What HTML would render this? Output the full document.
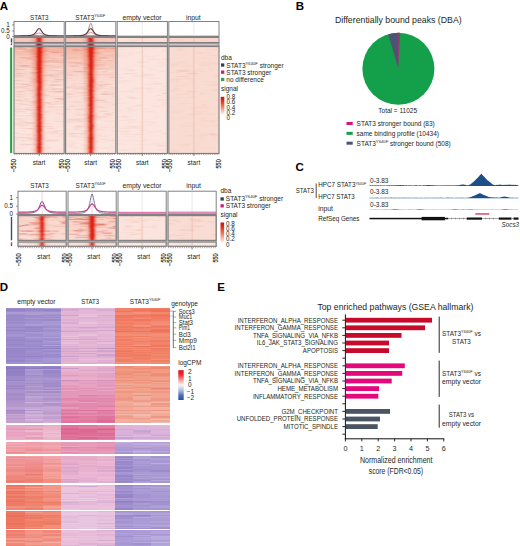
<!DOCTYPE html>
<html><head><meta charset="utf-8"><style>
html,body{margin:0;padding:0;background:#fff;}
body{width:520px;height:546px;overflow:hidden;}
svg{display:block;font-family:"Liberation Sans",sans-serif;}
</style></head><body>
<svg width="520" height="546" viewBox="0 0 520 546">
<defs><filter id="bl1" x="-50%" y="-5%" width="200%" height="110%"><feGaussianBlur stdDeviation="0.9 0.35"/></filter><filter id="bl2" x="-50%" y="-5%" width="200%" height="110%"><feGaussianBlur stdDeviation="2.0 0.5"/></filter><filter id="bl3" x="-5%" y="-20%" width="110%" height="140%"><feGaussianBlur stdDeviation="0.8 0.25"/></filter><linearGradient id="g1" x1="0" y1="0" x2="0" y2="1"><stop offset="0" stop-color="#f7cabd"/><stop offset="1" stop-color="#f2c4c0"/></linearGradient><linearGradient id="g2" x1="0" y1="0" x2="0" y2="1"><stop offset="0" stop-color="#f7cabd"/><stop offset="1" stop-color="#f2c4c0"/></linearGradient><linearGradient id="g3" x1="0" y1="0" x2="0" y2="1"><stop offset="0" stop-color="#f4b4a3"/><stop offset="0.15" stop-color="#f7cdc1"/><stop offset="0.35" stop-color="#f9dcd4"/><stop offset="1" stop-color="#fce6e0"/></linearGradient><linearGradient id="g4" x1="0" y1="0" x2="0" y2="1"><stop offset="0" stop-color="#f4b4a3"/><stop offset="0.15" stop-color="#f7cdc1"/><stop offset="0.35" stop-color="#f9dcd4"/><stop offset="1" stop-color="#fce6e0"/></linearGradient><linearGradient id="g5" x1="0" y1="0" x2="0" y2="1"><stop offset="0" stop-color="#cc1410"/><stop offset="0.2" stop-color="#dc2a1a"/><stop offset="0.55" stop-color="#f07a5c"/><stop offset="1" stop-color="#fdf0ea"/></linearGradient><linearGradient id="g6" x1="0" y1="0" x2="0" y2="1"><stop offset="0" stop-color="#f7cfc4"/><stop offset="1" stop-color="#f9ddd5"/></linearGradient><linearGradient id="g7" x1="0" y1="0" x2="0" y2="1"><stop offset="0" stop-color="#f7cfc4"/><stop offset="1" stop-color="#f9ddd5"/></linearGradient><linearGradient id="g8" x1="0" y1="0" x2="0" y2="1"><stop offset="0" stop-color="#f9e2dc"/><stop offset="1" stop-color="#f9e2dc"/></linearGradient><linearGradient id="g9" x1="0" y1="0" x2="0" y2="1"><stop offset="0" stop-color="#f9e2dc"/><stop offset="1" stop-color="#f9e2dc"/></linearGradient><linearGradient id="g10" x1="0" y1="0" x2="0" y2="1"><stop offset="0" stop-color="#dc0f1c"/><stop offset="0.15" stop-color="#ee2a30"/><stop offset="0.35" stop-color="#f5a8a4"/><stop offset="0.5" stop-color="#f8f4f6"/><stop offset="0.68" stop-color="#aebcdc"/><stop offset="0.85" stop-color="#4a6cb4"/><stop offset="1" stop-color="#2450a0"/></linearGradient></defs>
<text x="-0.30" y="9.50" font-size="11.5" text-anchor="start" fill="#000" font-weight="bold" >A</text>
<text x="295.80" y="9.50" font-size="11.5" text-anchor="start" fill="#000" font-weight="bold" >B</text>
<text x="295.50" y="171.20" font-size="11.5" text-anchor="start" fill="#000" font-weight="bold" >C</text>
<text x="-0.30" y="291.30" font-size="11.5" text-anchor="start" fill="#000" font-weight="bold" >D</text>
<text x="217.30" y="291.30" font-size="11.5" text-anchor="start" fill="#000" font-weight="bold" >E</text>
<text x="39.30" y="20.30" font-size="7.2" text-anchor="middle" fill="#231f20" font-weight="normal"  textLength="18.5" lengthAdjust="spacingAndGlyphs">STAT3</text>
<text x="90.30" y="20.30" font-size="7.2" text-anchor="middle" fill="#231f20" font-weight="normal"  textLength="30.2" lengthAdjust="spacingAndGlyphs">STAT3<tspan font-size="4.2" dy="-2.9">Y640F</tspan></text>
<text x="142.00" y="20.30" font-size="7.2" text-anchor="middle" fill="#231f20" font-weight="normal"  textLength="39.2" lengthAdjust="spacingAndGlyphs">empty vector</text>
<text x="193.30" y="20.30" font-size="7.2" text-anchor="middle" fill="#231f20" font-weight="normal"  textLength="14.8" lengthAdjust="spacingAndGlyphs">input</text>
<rect x="14.00" y="21.50" width="50.20" height="15.00" fill="#fff" />
<rect x="65.60" y="21.50" width="50.20" height="15.00" fill="#fff" />
<rect x="117.20" y="21.50" width="50.20" height="15.00" fill="#fff" />
<rect x="168.80" y="21.50" width="50.20" height="15.00" fill="#fff" />
<polyline points="14.00,36.09 14.63,36.09 15.26,36.08 15.88,36.08 16.51,36.07 17.14,36.07 17.77,36.06 18.39,36.06 19.02,36.05 19.65,36.04 20.27,36.04 20.90,36.03 21.53,36.03 22.16,36.02 22.79,36.01 23.41,36.01 24.04,36.00 24.67,35.99 25.30,35.99 25.92,35.98 26.55,35.97 27.18,35.97 27.80,35.96 28.43,35.96 29.06,35.95 29.69,35.94 30.32,35.94 30.94,35.93 31.57,35.93 32.20,35.92 32.83,35.92 33.45,35.91 34.08,35.91 34.71,35.91 35.34,35.90 35.96,35.90 36.59,35.90 37.22,35.90 37.84,35.90 38.47,35.90 39.10,35.90 39.73,35.90 40.36,35.90 40.98,35.90 41.61,35.90 42.24,35.90 42.87,35.90 43.49,35.91 44.12,35.91 44.75,35.91 45.38,35.92 46.00,35.92 46.63,35.93 47.26,35.93 47.89,35.94 48.51,35.94 49.14,35.95 49.77,35.96 50.40,35.96 51.02,35.97 51.65,35.97 52.28,35.98 52.91,35.99 53.53,35.99 54.16,36.00 54.79,36.01 55.42,36.01 56.04,36.02 56.67,36.03 57.30,36.03 57.92,36.04 58.55,36.04 59.18,36.05 59.81,36.06 60.44,36.06 61.06,36.07 61.69,36.07 62.32,36.08 62.95,36.08 63.57,36.09 64.20,36.09" fill="none" stroke="#3aa655" stroke-width="1.1" stroke-linejoin="round"/>
<polyline points="14.00,36.11 14.63,36.11 15.26,36.10 15.88,36.10 16.51,36.10 17.14,36.09 17.77,36.09 18.39,36.09 19.02,36.08 19.65,36.08 20.27,36.07 20.90,36.06 21.53,36.06 22.16,36.05 22.79,36.04 23.41,36.03 24.04,36.02 24.67,36.00 25.30,35.98 25.92,35.96 26.55,35.94 27.18,35.92 27.80,35.88 28.43,35.85 29.06,35.80 29.69,35.75 30.32,35.69 30.94,35.61 31.57,35.52 32.20,35.41 32.83,35.27 33.45,35.11 34.08,34.92 34.71,34.70 35.34,34.44 35.96,34.16 36.59,33.86 37.22,33.58 37.84,33.34 38.47,33.17 39.10,33.12 39.73,33.17 40.36,33.34 40.98,33.58 41.61,33.86 42.24,34.16 42.87,34.44 43.49,34.70 44.12,34.92 44.75,35.11 45.38,35.27 46.00,35.41 46.63,35.52 47.26,35.61 47.89,35.69 48.51,35.75 49.14,35.80 49.77,35.85 50.40,35.88 51.02,35.92 51.65,35.94 52.28,35.96 52.91,35.98 53.53,36.00 54.16,36.02 54.79,36.03 55.42,36.04 56.04,36.05 56.67,36.06 57.30,36.06 57.92,36.07 58.55,36.08 59.18,36.08 59.81,36.09 60.44,36.09 61.06,36.09 61.69,36.10 62.32,36.10 62.95,36.10 63.57,36.11 64.20,36.11" fill="none" stroke="#e07080" stroke-width="0.9" stroke-linejoin="round"/>
<polyline points="14.00,35.98 14.63,35.98 15.26,35.97 15.88,35.97 16.51,35.97 17.14,35.96 17.77,35.96 18.39,35.95 19.02,35.95 19.65,35.94 20.27,35.93 20.90,35.93 21.53,35.92 22.16,35.91 22.79,35.89 23.41,35.88 24.04,35.86 24.67,35.84 25.30,35.82 25.92,35.79 26.55,35.76 27.18,35.72 27.80,35.68 28.43,35.63 29.06,35.56 29.69,35.48 30.32,35.38 30.94,35.26 31.57,35.10 32.20,34.91 32.83,34.66 33.45,34.35 34.08,33.95 34.71,33.45 35.34,32.83 35.96,32.07 36.59,31.19 37.22,30.26 37.84,29.39 38.47,28.76 39.10,28.52 39.73,28.76 40.36,29.39 40.98,30.26 41.61,31.19 42.24,32.07 42.87,32.83 43.49,33.45 44.12,33.95 44.75,34.35 45.38,34.66 46.00,34.91 46.63,35.10 47.26,35.26 47.89,35.38 48.51,35.48 49.14,35.56 49.77,35.63 50.40,35.68 51.02,35.72 51.65,35.76 52.28,35.79 52.91,35.82 53.53,35.84 54.16,35.86 54.79,35.88 55.42,35.89 56.04,35.91 56.67,35.92 57.30,35.93 57.92,35.93 58.55,35.94 59.18,35.95 59.81,35.95 60.44,35.96 61.06,35.96 61.69,35.97 62.32,35.97 62.95,35.97 63.57,35.98 64.20,35.98" fill="none" stroke="#553a38" stroke-width="1.1" stroke-linejoin="round"/>
<polyline points="65.60,36.09 66.23,36.09 66.85,36.08 67.48,36.08 68.11,36.07 68.74,36.07 69.36,36.06 69.99,36.06 70.62,36.05 71.25,36.04 71.88,36.04 72.50,36.03 73.13,36.03 73.76,36.02 74.38,36.01 75.01,36.01 75.64,36.00 76.27,35.99 76.89,35.99 77.52,35.98 78.15,35.97 78.78,35.97 79.41,35.96 80.03,35.96 80.66,35.95 81.29,35.94 81.91,35.94 82.54,35.93 83.17,35.93 83.80,35.92 84.42,35.92 85.05,35.91 85.68,35.91 86.31,35.91 86.94,35.90 87.56,35.90 88.19,35.90 88.82,35.90 89.44,35.90 90.07,35.90 90.70,35.90 91.33,35.90 91.95,35.90 92.58,35.90 93.21,35.90 93.84,35.90 94.47,35.90 95.09,35.91 95.72,35.91 96.35,35.91 96.97,35.92 97.60,35.92 98.23,35.93 98.86,35.93 99.48,35.94 100.11,35.94 100.74,35.95 101.37,35.96 102.00,35.96 102.62,35.97 103.25,35.97 103.88,35.98 104.50,35.99 105.13,35.99 105.76,36.00 106.39,36.01 107.02,36.01 107.64,36.02 108.27,36.03 108.90,36.03 109.52,36.04 110.15,36.04 110.78,36.05 111.41,36.06 112.03,36.06 112.66,36.07 113.29,36.07 113.92,36.08 114.55,36.08 115.17,36.09 115.80,36.09" fill="none" stroke="#3aa655" stroke-width="1.1" stroke-linejoin="round"/>
<polyline points="65.60,36.10 66.23,36.10 66.85,36.10 67.48,36.09 68.11,36.09 68.74,36.09 69.36,36.08 69.99,36.08 70.62,36.07 71.25,36.06 71.88,36.06 72.50,36.05 73.13,36.04 73.76,36.03 74.38,36.02 75.01,36.01 75.64,35.99 76.27,35.97 76.89,35.95 77.52,35.93 78.15,35.90 78.78,35.87 79.41,35.83 80.03,35.79 80.66,35.74 81.29,35.67 81.91,35.60 82.54,35.50 83.17,35.39 83.80,35.26 84.42,35.10 85.05,34.91 85.68,34.68 86.31,34.41 86.94,34.10 87.56,33.76 88.19,33.41 88.82,33.07 89.44,32.78 90.07,32.58 90.70,32.51 91.33,32.58 91.95,32.78 92.58,33.07 93.21,33.41 93.84,33.76 94.47,34.10 95.09,34.41 95.72,34.68 96.35,34.91 96.97,35.10 97.60,35.26 98.23,35.39 98.86,35.50 99.48,35.60 100.11,35.67 100.74,35.74 101.37,35.79 102.00,35.83 102.62,35.87 103.25,35.90 103.88,35.93 104.50,35.95 105.13,35.97 105.76,35.99 106.39,36.01 107.02,36.02 107.64,36.03 108.27,36.04 108.90,36.05 109.52,36.06 110.15,36.06 110.78,36.07 111.41,36.08 112.03,36.08 112.66,36.09 113.29,36.09 113.92,36.09 114.55,36.10 115.17,36.10 115.80,36.10" fill="none" stroke="#e07080" stroke-width="0.9" stroke-linejoin="round"/>
<polyline points="65.60,36.12 66.23,36.11 66.85,36.11 67.48,36.11 68.11,36.11 68.74,36.11 69.36,36.10 69.99,36.10 70.62,36.10 71.25,36.09 71.88,36.09 72.50,36.08 73.13,36.08 73.76,36.07 74.38,36.06 75.01,36.05 75.64,36.04 76.27,36.03 76.89,36.01 77.52,35.99 78.15,35.97 78.78,35.95 79.41,35.92 80.03,35.88 80.66,35.83 81.29,35.77 81.91,35.70 82.54,35.60 83.17,35.48 83.80,35.31 84.42,35.09 85.05,34.79 85.68,34.38 86.31,33.80 86.94,32.98 87.56,31.83 88.19,30.25 88.82,28.21 89.44,25.89 90.07,23.90 90.70,23.09 91.33,23.90 91.95,25.89 92.58,28.21 93.21,30.25 93.84,31.83 94.47,32.98 95.09,33.80 95.72,34.38 96.35,34.79 96.97,35.09 97.60,35.31 98.23,35.48 98.86,35.60 99.48,35.70 100.11,35.77 100.74,35.83 101.37,35.88 102.00,35.92 102.62,35.95 103.25,35.97 103.88,35.99 104.50,36.01 105.13,36.03 105.76,36.04 106.39,36.05 107.02,36.06 107.64,36.07 108.27,36.08 108.90,36.08 109.52,36.09 110.15,36.09 110.78,36.10 111.41,36.10 112.03,36.10 112.66,36.11 113.29,36.11 113.92,36.11 114.55,36.11 115.17,36.11 115.80,36.12" fill="none" stroke="#8e8e8e" stroke-width="0.9" stroke-linejoin="round"/>
<polyline points="65.60,35.98 66.23,35.98 66.85,35.97 67.48,35.97 68.11,35.97 68.74,35.96 69.36,35.96 69.99,35.95 70.62,35.95 71.25,35.94 71.88,35.93 72.50,35.93 73.13,35.92 73.76,35.91 74.38,35.89 75.01,35.88 75.64,35.86 76.27,35.84 76.89,35.82 77.52,35.79 78.15,35.76 78.78,35.72 79.41,35.68 80.03,35.63 80.66,35.56 81.29,35.48 81.91,35.38 82.54,35.26 83.17,35.10 83.80,34.91 84.42,34.66 85.05,34.35 85.68,33.95 86.31,33.45 86.94,32.83 87.56,32.07 88.19,31.19 88.82,30.26 89.44,29.39 90.07,28.76 90.70,28.52 91.33,28.76 91.95,29.39 92.58,30.26 93.21,31.19 93.84,32.07 94.47,32.83 95.09,33.45 95.72,33.95 96.35,34.35 96.97,34.66 97.60,34.91 98.23,35.10 98.86,35.26 99.48,35.38 100.11,35.48 100.74,35.56 101.37,35.63 102.00,35.68 102.62,35.72 103.25,35.76 103.88,35.79 104.50,35.82 105.13,35.84 105.76,35.86 106.39,35.88 107.02,35.89 107.64,35.91 108.27,35.92 108.90,35.93 109.52,35.93 110.15,35.94 110.78,35.95 111.41,35.95 112.03,35.96 112.66,35.96 113.29,35.97 113.92,35.97 114.55,35.97 115.17,35.98 115.80,35.98" fill="none" stroke="#553a38" stroke-width="1.1" stroke-linejoin="round"/>
<polyline points="117.20,36.14 117.83,36.14 118.45,36.14 119.08,36.14 119.71,36.14 120.34,36.14 120.97,36.14 121.59,36.14 122.22,36.14 122.85,36.14 123.48,36.14 124.10,36.14 124.73,36.14 125.36,36.14 125.98,36.14 126.61,36.14 127.24,36.14 127.87,36.14 128.50,36.14 129.12,36.14 129.75,36.14 130.38,36.14 131.00,36.14 131.63,36.14 132.26,36.14 132.89,36.14 133.52,36.14 134.14,36.14 134.77,36.14 135.40,36.14 136.03,36.14 136.65,36.14 137.28,36.14 137.91,36.14 138.53,36.14 139.16,36.14 139.79,36.14 140.42,36.14 141.05,36.14 141.67,36.14 142.30,36.14 142.93,36.14 143.56,36.14 144.18,36.14 144.81,36.14 145.44,36.14 146.06,36.14 146.69,36.14 147.32,36.14 147.95,36.14 148.57,36.14 149.20,36.14 149.83,36.14 150.46,36.14 151.09,36.14 151.71,36.14 152.34,36.14 152.97,36.14 153.59,36.14 154.22,36.14 154.85,36.14 155.48,36.14 156.11,36.14 156.73,36.14 157.36,36.14 157.99,36.14 158.62,36.14 159.24,36.14 159.87,36.14 160.50,36.14 161.12,36.14 161.75,36.14 162.38,36.14 163.01,36.14 163.63,36.14 164.26,36.14 164.89,36.14 165.52,36.14 166.15,36.14 166.77,36.14 167.40,36.14" fill="none" stroke="#3aa655" stroke-width="0.9" stroke-linejoin="round"/>
<polyline points="168.80,36.14 169.43,36.14 170.06,36.14 170.68,36.14 171.31,36.14 171.94,36.14 172.56,36.14 173.19,36.14 173.82,36.14 174.45,36.14 175.08,36.14 175.70,36.14 176.33,36.14 176.96,36.14 177.59,36.14 178.21,36.14 178.84,36.14 179.47,36.14 180.09,36.14 180.72,36.14 181.35,36.14 181.98,36.14 182.61,36.14 183.23,36.14 183.86,36.14 184.49,36.14 185.12,36.14 185.74,36.14 186.37,36.14 187.00,36.14 187.62,36.14 188.25,36.14 188.88,36.14 189.51,36.14 190.14,36.14 190.76,36.14 191.39,36.14 192.02,36.14 192.65,36.14 193.27,36.14 193.90,36.14 194.53,36.14 195.16,36.14 195.78,36.14 196.41,36.14 197.04,36.14 197.67,36.14 198.29,36.14 198.92,36.14 199.55,36.14 200.18,36.14 200.80,36.14 201.43,36.14 202.06,36.14 202.69,36.14 203.31,36.14 203.94,36.14 204.57,36.14 205.20,36.14 205.82,36.14 206.45,36.14 207.08,36.14 207.71,36.14 208.33,36.14 208.96,36.14 209.59,36.14 210.22,36.14 210.84,36.14 211.47,36.14 212.10,36.14 212.73,36.14 213.35,36.14 213.98,36.14 214.61,36.14 215.24,36.14 215.86,36.14 216.49,36.14 217.12,36.14 217.75,36.14 218.37,36.14 219.00,36.14" fill="none" stroke="#3aa655" stroke-width="0.9" stroke-linejoin="round"/>
<line x1="39.10" y1="22.00" x2="39.10" y2="36.00" stroke="#f4c6c6" stroke-width="0.5" />
<line x1="90.70" y1="22.00" x2="90.70" y2="36.00" stroke="#f4c6c6" stroke-width="0.5" />
<line x1="142.30" y1="22.00" x2="142.30" y2="36.00" stroke="#d8d8d8" stroke-width="0.5" />
<line x1="193.90" y1="22.00" x2="193.90" y2="36.00" stroke="#d8d8d8" stroke-width="0.5" />
<rect x="14.00" y="21.50" width="50.20" height="15.00" fill="none" stroke="#828282" stroke-width="1"/>
<rect x="65.60" y="21.50" width="50.20" height="15.00" fill="none" stroke="#828282" stroke-width="1"/>
<rect x="117.20" y="21.50" width="50.20" height="15.00" fill="none" stroke="#828282" stroke-width="1"/>
<rect x="168.80" y="21.50" width="50.20" height="15.00" fill="none" stroke="#828282" stroke-width="1"/>
<svg x="14" y="37.5" width="50.2" height="5" viewBox="14 37.5 50.2 5" overflow="hidden">
<rect x="14.00" y="37.50" width="50.20" height="5.00" fill="url(#g1)" />
<g filter="url(#bl3)"><rect x="59.7" y="37.5" width="4.1" height="0.8" fill="#e06a55" opacity="0.08"/><rect x="28.9" y="37.5" width="8.1" height="0.8" fill="#e06a55" opacity="0.04"/><rect x="44.7" y="38.9" width="9.8" height="1.0" fill="#e06a55" opacity="0.04"/><rect x="50.3" y="39.9" width="4.5" height="0.8" fill="#e06a55" opacity="0.03"/><rect x="29.9" y="40.7" width="6.9" height="0.8" fill="#e06a55" opacity="0.08"/><rect x="31.6" y="40.7" width="7.6" height="0.8" fill="#e06a55" opacity="0.04"/><rect x="51.6" y="40.7" width="6.5" height="0.8" fill="#e06a55" opacity="0.09"/><rect x="43.7" y="40.7" width="4.2" height="0.8" fill="#e06a55" opacity="0.07"/><rect x="40.0" y="41.5" width="4.3" height="0.8" fill="#e06a55" opacity="0.07"/><rect x="57.8" y="41.5" width="4.9" height="0.8" fill="#e06a55" opacity="0.04"/><rect x="43.7" y="41.5" width="12.9" height="0.8" fill="#e06a55" opacity="0.02"/><rect x="39.4" y="41.5" width="13.7" height="0.8" fill="#e06a55" opacity="0.06"/><rect x="37.0" y="42.3" width="5.5" height="0.2" fill="#e06a55" opacity="0.04"/><rect x="38.0" y="42.3" width="6.1" height="0.2" fill="#e06a55" opacity="0.06"/><rect x="29.6" y="42.3" width="7.8" height="0.2" fill="#e06a55" opacity="0.05"/><rect x="52.7" y="42.3" width="11.5" height="0.2" fill="#e06a55" opacity="0.05"/></g>
<polygon points="33.31,35.50 33.48,36.79 33.60,38.07 33.50,39.36 33.70,40.64 33.88,41.93 33.56,43.21 33.84,44.50 43.43,44.50 43.13,43.21 43.59,41.93 43.49,40.64 43.22,39.36 43.57,38.07 43.94,36.79 43.39,35.50" fill="#ee6a50" opacity="0.45" filter="url(#bl2)"/>
<polygon points="36.87,35.50 36.90,36.79 36.48,38.07 36.56,39.36 36.89,40.64 36.54,41.93 36.49,43.21 36.54,44.50 41.39,44.50 41.95,43.21 41.68,41.93 41.34,40.64 41.70,39.36 41.61,38.07 41.51,36.79 41.45,35.50" fill="#d2281a" opacity="1.0" filter="url(#bl1)"/>
</svg>
<rect x="14.00" y="37.50" width="50.20" height="5.00" fill="none" stroke="#828282" stroke-width="1"/>
<svg x="65.6" y="37.5" width="50.2" height="5" viewBox="65.6 37.5 50.2 5" overflow="hidden">
<rect x="65.60" y="37.50" width="50.20" height="5.00" fill="url(#g2)" />
<g filter="url(#bl3)"><rect x="109.1" y="37.5" width="6.7" height="1.2" fill="#e06a55" opacity="0.07"/><rect x="65.6" y="37.5" width="7.6" height="1.2" fill="#e06a55" opacity="0.11"/><rect x="109.6" y="37.5" width="6.2" height="1.2" fill="#e06a55" opacity="0.13"/><rect x="79.4" y="37.5" width="7.3" height="1.2" fill="#e06a55" opacity="0.06"/><rect x="86.8" y="39.5" width="5.9" height="1.2" fill="#e06a55" opacity="0.08"/><rect x="83.3" y="39.5" width="4.5" height="1.2" fill="#e06a55" opacity="0.06"/><rect x="96.0" y="40.7" width="9.5" height="1.0" fill="#e06a55" opacity="0.04"/><rect x="82.0" y="41.7" width="7.1" height="0.8" fill="#e06a55" opacity="0.04"/><rect x="96.8" y="41.7" width="2.1" height="0.8" fill="#e06a55" opacity="0.04"/></g>
<polygon points="85.33,35.50 85.37,36.79 84.99,38.07 85.07,39.36 85.34,40.64 85.05,41.93 85.03,43.21 85.02,44.50 94.90,44.50 95.41,43.21 95.17,41.93 94.89,40.64 95.19,39.36 95.10,38.07 95.04,36.79 94.98,35.50" fill="#ee6a50" opacity="0.45" filter="url(#bl2)"/>
<polygon points="87.89,35.50 88.19,36.79 88.16,38.07 87.95,39.36 88.47,40.64 87.79,41.93 88.31,43.21 87.77,44.50 93.16,44.50 92.81,43.21 93.23,41.93 93.32,40.64 93.07,39.36 92.82,38.07 93.45,36.79 93.47,35.50" fill="#d2281a" opacity="1.0" filter="url(#bl1)"/>
</svg>
<rect x="65.60" y="37.50" width="50.20" height="5.00" fill="none" stroke="#828282" stroke-width="1"/>
<svg x="117.2" y="37.5" width="50.2" height="5" viewBox="117.2 37.5 50.2 5" overflow="hidden">
<rect x="117.20" y="37.50" width="50.20" height="5.00" fill="#fbe2da" />
<g filter="url(#bl3)"><rect x="143.9" y="37.5" width="5.6" height="1.0" fill="#e8907a" opacity="0.09"/><rect x="135.8" y="37.5" width="10.0" height="1.0" fill="#e8907a" opacity="0.07"/><rect x="141.1" y="37.5" width="2.3" height="1.0" fill="#e8907a" opacity="0.11"/><rect x="138.2" y="38.5" width="6.2" height="0.8" fill="#e8907a" opacity="0.05"/><rect x="145.1" y="38.5" width="13.1" height="0.8" fill="#e8907a" opacity="0.05"/><rect x="135.1" y="39.3" width="6.8" height="1.0" fill="#e8907a" opacity="0.03"/><rect x="129.9" y="40.3" width="9.8" height="0.6" fill="#e8907a" opacity="0.13"/><rect x="144.0" y="40.3" width="13.0" height="0.6" fill="#e8907a" opacity="0.12"/><rect x="127.3" y="40.9" width="8.8" height="0.6" fill="#e8907a" opacity="0.13"/><rect x="159.9" y="40.9" width="5.1" height="0.6" fill="#e8907a" opacity="0.11"/><rect x="156.9" y="40.9" width="10.5" height="0.6" fill="#e8907a" opacity="0.06"/></g>
<line x1="142.30" y1="37.50" x2="142.30" y2="42.50" stroke="#e7b2a4" stroke-width="0.6" />
</svg>
<rect x="117.20" y="37.50" width="50.20" height="5.00" fill="none" stroke="#828282" stroke-width="1"/>
<svg x="168.8" y="37.5" width="50.2" height="5" viewBox="168.8 37.5 50.2 5" overflow="hidden">
<rect x="168.80" y="37.50" width="50.20" height="5.00" fill="#f8d6cb" />
<g filter="url(#bl3)"><rect x="207.4" y="37.5" width="5.3" height="0.6" fill="#e8907a" opacity="0.09"/><rect x="183.6" y="37.5" width="7.3" height="0.6" fill="#e8907a" opacity="0.03"/><rect x="196.4" y="38.1" width="8.0" height="0.6" fill="#e8907a" opacity="0.06"/><rect x="175.7" y="38.7" width="6.6" height="1.0" fill="#e8907a" opacity="0.06"/><rect x="174.7" y="39.7" width="9.4" height="0.6" fill="#e8907a" opacity="0.05"/><rect x="200.8" y="40.3" width="4.0" height="1.0" fill="#e8907a" opacity="0.07"/><rect x="180.0" y="40.3" width="4.3" height="1.0" fill="#e8907a" opacity="0.10"/><rect x="168.8" y="41.3" width="7.6" height="0.6" fill="#e8907a" opacity="0.11"/><rect x="208.4" y="41.9" width="3.9" height="0.6" fill="#e8907a" opacity="0.12"/><rect x="174.4" y="41.9" width="7.7" height="0.6" fill="#e8907a" opacity="0.03"/><rect x="170.7" y="41.9" width="10.0" height="0.6" fill="#e8907a" opacity="0.11"/></g>
<line x1="193.90" y1="37.50" x2="193.90" y2="42.50" stroke="#e7b2a4" stroke-width="0.6" />
</svg>
<rect x="168.80" y="37.50" width="50.20" height="5.00" fill="none" stroke="#828282" stroke-width="1"/>
<rect x="14.00" y="43.20" width="50.20" height="2.80" fill="#d6c4c8" stroke="#7a7a7a" stroke-width="0.9"/>
<rect x="36.10" y="43.50" width="6.00" height="2.20" fill="#a02432" filter="url(#bl1)"/>
<rect x="65.60" y="43.20" width="50.20" height="2.80" fill="#d6c4c8" stroke="#7a7a7a" stroke-width="0.9"/>
<rect x="87.70" y="43.50" width="6.00" height="2.20" fill="#a02432" filter="url(#bl1)"/>
<rect x="117.20" y="43.20" width="50.20" height="2.80" fill="#d6c4c8" stroke="#7a7a7a" stroke-width="0.9"/>
<rect x="168.80" y="43.20" width="50.20" height="2.80" fill="#d6c4c8" stroke="#7a7a7a" stroke-width="0.9"/>
<svg x="14" y="46.5" width="50.2" height="107" viewBox="14 46.5 50.2 107" overflow="hidden">
<rect x="14.00" y="46.50" width="50.20" height="107.00" fill="url(#g3)" />
<g filter="url(#bl3)"><rect x="48.6" y="46.5" width="2.4" height="0.6" fill="#d45a48" opacity="0.17"/><rect x="51.9" y="46.5" width="12.3" height="0.6" fill="#d45a48" opacity="0.19"/><rect x="47.3" y="46.5" width="10.7" height="0.6" fill="#d45a48" opacity="0.13"/><rect x="33.5" y="46.5" width="4.8" height="0.6" fill="#d45a48" opacity="0.18"/><rect x="16.2" y="47.1" width="7.2" height="1.0" fill="#d45a48" opacity="0.19"/><rect x="43.9" y="47.1" width="4.8" height="1.0" fill="#fff6f0" opacity="0.12"/><rect x="19.2" y="48.1" width="4.3" height="0.8" fill="#d45a48" opacity="0.14"/><rect x="59.6" y="48.1" width="4.6" height="0.8" fill="#d45a48" opacity="0.16"/><rect x="27.7" y="48.1" width="4.8" height="0.8" fill="#fff6f0" opacity="0.34"/><rect x="14.0" y="48.9" width="13.1" height="0.8" fill="#d45a48" opacity="0.12"/><rect x="19.7" y="48.9" width="7.7" height="0.8" fill="#d45a48" opacity="0.16"/><rect x="46.1" y="48.9" width="5.4" height="0.8" fill="#d45a48" opacity="0.09"/><rect x="39.4" y="49.7" width="6.4" height="1.0" fill="#d45a48" opacity="0.21"/><rect x="52.7" y="49.7" width="10.6" height="1.0" fill="#d45a48" opacity="0.11"/><rect x="37.4" y="49.7" width="2.0" height="1.0" fill="#d45a48" opacity="0.15"/><rect x="26.8" y="49.7" width="10.1" height="1.0" fill="#d45a48" opacity="0.04"/><rect x="17.0" y="49.7" width="8.0" height="1.0" fill="#fff6f0" opacity="0.35"/><rect x="29.6" y="50.7" width="3.2" height="1.0" fill="#d45a48" opacity="0.05"/><rect x="38.9" y="50.7" width="13.9" height="1.0" fill="#d45a48" opacity="0.19"/><rect x="21.9" y="50.7" width="13.7" height="1.0" fill="#d45a48" opacity="0.09"/><rect x="55.4" y="51.7" width="8.8" height="1.2" fill="#d45a48" opacity="0.18"/><rect x="48.4" y="51.7" width="13.7" height="1.2" fill="#d45a48" opacity="0.04"/><rect x="51.7" y="51.7" width="12.3" height="1.2" fill="#d45a48" opacity="0.10"/><rect x="51.9" y="51.7" width="5.1" height="1.2" fill="#d45a48" opacity="0.20"/><rect x="58.1" y="51.7" width="6.1" height="1.2" fill="#fff6f0" opacity="0.13"/><rect x="34.5" y="52.9" width="8.3" height="1.0" fill="#d45a48" opacity="0.15"/><rect x="48.3" y="53.9" width="4.6" height="0.6" fill="#fff6f0" opacity="0.09"/><rect x="44.8" y="54.5" width="3.2" height="0.6" fill="#d45a48" opacity="0.21"/><rect x="61.6" y="55.1" width="2.6" height="0.6" fill="#d45a48" opacity="0.19"/><rect x="47.5" y="55.1" width="4.2" height="0.6" fill="#d45a48" opacity="0.06"/><rect x="60.2" y="55.1" width="4.0" height="0.6" fill="#d45a48" opacity="0.19"/><rect x="32.0" y="55.1" width="8.5" height="0.6" fill="#fff6f0" opacity="0.34"/><rect x="50.3" y="55.7" width="9.5" height="0.6" fill="#fff6f0" opacity="0.30"/><rect x="50.2" y="55.7" width="3.5" height="0.6" fill="#fff6f0" opacity="0.10"/><rect x="14.0" y="56.3" width="14.2" height="1.0" fill="#fff6f0" opacity="0.19"/><rect x="18.9" y="57.3" width="7.8" height="0.6" fill="#d45a48" opacity="0.13"/><rect x="19.4" y="57.3" width="3.8" height="0.6" fill="#d45a48" opacity="0.06"/><rect x="38.0" y="57.3" width="3.7" height="0.6" fill="#d45a48" opacity="0.20"/><rect x="40.8" y="57.3" width="10.3" height="0.6" fill="#d45a48" opacity="0.15"/><rect x="20.0" y="57.3" width="8.5" height="0.6" fill="#d45a48" opacity="0.12"/><rect x="55.3" y="57.3" width="7.7" height="0.6" fill="#fff6f0" opacity="0.31"/><rect x="23.3" y="57.9" width="11.9" height="1.2" fill="#d45a48" opacity="0.14"/><rect x="51.0" y="57.9" width="6.3" height="1.2" fill="#d45a48" opacity="0.11"/><rect x="28.1" y="57.9" width="4.0" height="1.2" fill="#d45a48" opacity="0.19"/><rect x="31.1" y="57.9" width="11.8" height="1.2" fill="#fff6f0" opacity="0.27"/><rect x="48.1" y="60.3" width="8.5" height="1.0" fill="#d45a48" opacity="0.23"/><rect x="56.3" y="60.3" width="3.1" height="1.0" fill="#d45a48" opacity="0.18"/><rect x="52.3" y="60.3" width="5.3" height="1.0" fill="#d45a48" opacity="0.20"/><rect x="57.7" y="60.3" width="6.5" height="1.0" fill="#d45a48" opacity="0.12"/><rect x="40.9" y="60.3" width="11.7" height="1.0" fill="#d45a48" opacity="0.17"/><rect x="36.1" y="60.3" width="7.7" height="1.0" fill="#fff6f0" opacity="0.12"/><rect x="47.7" y="60.3" width="11.1" height="1.0" fill="#fff6f0" opacity="0.25"/><rect x="49.5" y="61.3" width="9.5" height="1.2" fill="#d45a48" opacity="0.09"/><rect x="37.1" y="61.3" width="5.9" height="1.2" fill="#d45a48" opacity="0.13"/><rect x="61.6" y="61.3" width="2.6" height="1.2" fill="#d45a48" opacity="0.20"/><rect x="42.0" y="61.3" width="7.3" height="1.2" fill="#d45a48" opacity="0.21"/><rect x="29.1" y="61.3" width="9.2" height="1.2" fill="#fff6f0" opacity="0.27"/><rect x="58.3" y="62.5" width="5.9" height="0.6" fill="#d45a48" opacity="0.06"/><rect x="18.1" y="62.5" width="4.8" height="0.6" fill="#d45a48" opacity="0.18"/><rect x="50.2" y="62.5" width="12.9" height="0.6" fill="#d45a48" opacity="0.19"/><rect x="44.7" y="63.1" width="14.0" height="1.0" fill="#fff6f0" opacity="0.27"/><rect x="48.5" y="63.1" width="7.8" height="1.0" fill="#fff6f0" opacity="0.19"/><rect x="22.4" y="65.1" width="7.5" height="1.0" fill="#d45a48" opacity="0.14"/><rect x="15.6" y="65.1" width="3.1" height="1.0" fill="#d45a48" opacity="0.16"/><rect x="19.6" y="65.1" width="7.5" height="1.0" fill="#d45a48" opacity="0.21"/><rect x="42.9" y="65.1" width="9.9" height="1.0" fill="#d45a48" opacity="0.15"/><rect x="23.6" y="66.1" width="10.9" height="0.8" fill="#d45a48" opacity="0.13"/><rect x="19.9" y="66.1" width="8.2" height="0.8" fill="#d45a48" opacity="0.18"/><rect x="51.2" y="66.1" width="11.9" height="0.8" fill="#d45a48" opacity="0.12"/><rect x="27.3" y="66.1" width="3.3" height="0.8" fill="#d45a48" opacity="0.10"/><rect x="27.9" y="66.1" width="5.9" height="0.8" fill="#fff6f0" opacity="0.34"/><rect x="44.2" y="66.1" width="9.6" height="0.8" fill="#fff6f0" opacity="0.13"/><rect x="26.6" y="66.9" width="7.2" height="0.8" fill="#d45a48" opacity="0.14"/><rect x="47.5" y="66.9" width="12.4" height="0.8" fill="#d45a48" opacity="0.14"/><rect x="31.6" y="66.9" width="12.4" height="0.8" fill="#d45a48" opacity="0.08"/><rect x="37.5" y="66.9" width="3.7" height="0.8" fill="#d45a48" opacity="0.15"/><rect x="32.9" y="66.9" width="2.3" height="0.8" fill="#d45a48" opacity="0.18"/><rect x="35.2" y="66.9" width="3.4" height="0.8" fill="#fff6f0" opacity="0.35"/><rect x="28.1" y="66.9" width="12.3" height="0.8" fill="#fff6f0" opacity="0.09"/><rect x="22.6" y="67.7" width="15.2" height="1.2" fill="#fff6f0" opacity="0.17"/><rect x="14.0" y="68.9" width="4.6" height="0.8" fill="#d45a48" opacity="0.19"/><rect x="15.8" y="68.9" width="9.1" height="0.8" fill="#d45a48" opacity="0.15"/><rect x="52.0" y="68.9" width="12.2" height="0.8" fill="#fff6f0" opacity="0.27"/><rect x="57.3" y="68.9" width="6.9" height="0.8" fill="#fff6f0" opacity="0.15"/><rect x="45.9" y="69.7" width="11.0" height="0.6" fill="#d45a48" opacity="0.08"/><rect x="49.5" y="69.7" width="6.9" height="0.6" fill="#d45a48" opacity="0.20"/><rect x="32.0" y="69.7" width="8.4" height="0.6" fill="#d45a48" opacity="0.21"/><rect x="46.7" y="69.7" width="4.9" height="0.6" fill="#d45a48" opacity="0.10"/><rect x="48.0" y="69.7" width="15.8" height="0.6" fill="#fff6f0" opacity="0.33"/><rect x="33.5" y="69.7" width="9.0" height="0.6" fill="#fff6f0" opacity="0.33"/><rect x="54.3" y="70.3" width="9.9" height="1.0" fill="#d45a48" opacity="0.19"/><rect x="25.3" y="70.3" width="13.3" height="1.0" fill="#fff6f0" opacity="0.34"/><rect x="53.2" y="70.3" width="11.0" height="1.0" fill="#fff6f0" opacity="0.14"/><rect x="14.3" y="71.3" width="3.2" height="1.0" fill="#d45a48" opacity="0.12"/><rect x="45.8" y="71.3" width="12.1" height="1.0" fill="#fff6f0" opacity="0.13"/><rect x="59.8" y="72.3" width="3.8" height="0.6" fill="#d45a48" opacity="0.17"/><rect x="33.9" y="72.3" width="3.2" height="0.6" fill="#d45a48" opacity="0.16"/><rect x="31.8" y="72.3" width="9.9" height="0.6" fill="#d45a48" opacity="0.20"/><rect x="29.8" y="72.3" width="2.9" height="0.6" fill="#d45a48" opacity="0.14"/><rect x="17.1" y="72.3" width="7.2" height="0.6" fill="#fff6f0" opacity="0.17"/><rect x="17.7" y="72.9" width="6.6" height="0.8" fill="#d45a48" opacity="0.14"/><rect x="45.1" y="72.9" width="7.6" height="0.8" fill="#d45a48" opacity="0.07"/><rect x="17.0" y="72.9" width="4.2" height="0.8" fill="#d45a48" opacity="0.21"/><rect x="52.0" y="72.9" width="12.2" height="0.8" fill="#d45a48" opacity="0.05"/><rect x="31.4" y="72.9" width="10.1" height="0.8" fill="#d45a48" opacity="0.19"/><rect x="42.1" y="72.9" width="11.7" height="0.8" fill="#fff6f0" opacity="0.28"/><rect x="55.8" y="73.7" width="7.8" height="1.0" fill="#d45a48" opacity="0.15"/><rect x="49.4" y="73.7" width="3.4" height="1.0" fill="#d45a48" opacity="0.06"/><rect x="45.1" y="73.7" width="6.4" height="1.0" fill="#d45a48" opacity="0.05"/><rect x="14.5" y="74.7" width="10.8" height="1.0" fill="#d45a48" opacity="0.08"/><rect x="36.4" y="74.7" width="6.0" height="1.0" fill="#d45a48" opacity="0.12"/><rect x="43.5" y="74.7" width="10.7" height="1.0" fill="#d45a48" opacity="0.15"/><rect x="43.9" y="74.7" width="2.7" height="1.0" fill="#d45a48" opacity="0.06"/><rect x="14.0" y="74.7" width="7.4" height="1.0" fill="#d45a48" opacity="0.09"/><rect x="49.7" y="75.7" width="11.8" height="0.6" fill="#d45a48" opacity="0.16"/><rect x="40.2" y="75.7" width="11.7" height="0.6" fill="#d45a48" opacity="0.16"/><rect x="49.1" y="75.7" width="8.5" height="0.6" fill="#d45a48" opacity="0.13"/><rect x="14.0" y="76.3" width="9.2" height="1.2" fill="#d45a48" opacity="0.08"/><rect x="27.1" y="77.5" width="8.0" height="1.0" fill="#d45a48" opacity="0.12"/><rect x="59.2" y="77.5" width="2.1" height="1.0" fill="#d45a48" opacity="0.11"/><rect x="36.0" y="77.5" width="4.6" height="1.0" fill="#d45a48" opacity="0.17"/><rect x="50.6" y="77.5" width="8.2" height="1.0" fill="#d45a48" opacity="0.10"/><rect x="31.3" y="78.5" width="8.9" height="0.8" fill="#fff6f0" opacity="0.19"/><rect x="61.7" y="78.5" width="2.5" height="0.8" fill="#fff6f0" opacity="0.19"/><rect x="15.6" y="79.3" width="5.6" height="1.0" fill="#d45a48" opacity="0.05"/><rect x="30.0" y="79.3" width="9.0" height="1.0" fill="#d45a48" opacity="0.17"/><rect x="56.1" y="79.3" width="8.1" height="1.0" fill="#d45a48" opacity="0.11"/><rect x="54.0" y="79.3" width="10.2" height="1.0" fill="#d45a48" opacity="0.20"/><rect x="34.1" y="79.3" width="3.4" height="1.0" fill="#d45a48" opacity="0.16"/><rect x="39.1" y="80.3" width="4.4" height="0.8" fill="#d45a48" opacity="0.15"/><rect x="14.1" y="80.3" width="5.0" height="0.8" fill="#d45a48" opacity="0.11"/><rect x="43.3" y="80.3" width="6.3" height="0.8" fill="#d45a48" opacity="0.14"/><rect x="14.0" y="80.3" width="9.0" height="0.8" fill="#d45a48" opacity="0.09"/><rect x="32.1" y="81.1" width="6.5" height="1.2" fill="#d45a48" opacity="0.09"/><rect x="52.1" y="81.1" width="10.1" height="1.2" fill="#d45a48" opacity="0.06"/><rect x="28.6" y="81.1" width="5.9" height="1.2" fill="#d45a48" opacity="0.11"/><rect x="50.8" y="81.1" width="8.0" height="1.2" fill="#d45a48" opacity="0.09"/><rect x="29.5" y="82.3" width="11.0" height="1.0" fill="#d45a48" opacity="0.06"/><rect x="14.0" y="82.3" width="9.8" height="1.0" fill="#fff6f0" opacity="0.15"/><rect x="24.7" y="83.3" width="10.7" height="0.8" fill="#d45a48" opacity="0.09"/><rect x="14.4" y="83.3" width="10.5" height="0.8" fill="#d45a48" opacity="0.13"/><rect x="14.2" y="83.3" width="2.2" height="0.8" fill="#d45a48" opacity="0.10"/><rect x="20.7" y="84.1" width="10.5" height="1.0" fill="#d45a48" opacity="0.06"/><rect x="40.8" y="84.1" width="12.7" height="1.0" fill="#d45a48" opacity="0.19"/><rect x="21.4" y="84.1" width="8.4" height="1.0" fill="#d45a48" opacity="0.15"/><rect x="49.6" y="84.1" width="14.0" height="1.0" fill="#d45a48" opacity="0.14"/><rect x="42.8" y="84.1" width="8.6" height="1.0" fill="#fff6f0" opacity="0.32"/><rect x="27.5" y="85.1" width="6.3" height="0.8" fill="#d45a48" opacity="0.15"/><rect x="50.3" y="85.1" width="9.2" height="0.8" fill="#d45a48" opacity="0.07"/><rect x="48.8" y="85.1" width="10.7" height="0.8" fill="#d45a48" opacity="0.10"/><rect x="50.1" y="85.1" width="10.8" height="0.8" fill="#d45a48" opacity="0.05"/><rect x="35.0" y="85.1" width="6.3" height="0.8" fill="#fff6f0" opacity="0.24"/><rect x="15.8" y="85.1" width="9.9" height="0.8" fill="#fff6f0" opacity="0.14"/><rect x="25.0" y="85.9" width="9.6" height="0.6" fill="#d45a48" opacity="0.08"/><rect x="14.1" y="85.9" width="13.6" height="0.6" fill="#d45a48" opacity="0.14"/><rect x="32.1" y="85.9" width="17.0" height="0.6" fill="#fff6f0" opacity="0.13"/><rect x="54.1" y="85.9" width="4.1" height="0.6" fill="#fff6f0" opacity="0.33"/><rect x="58.3" y="86.5" width="5.9" height="0.6" fill="#d45a48" opacity="0.11"/><rect x="21.5" y="86.5" width="4.7" height="0.6" fill="#d45a48" opacity="0.08"/><rect x="26.6" y="86.5" width="8.0" height="0.6" fill="#d45a48" opacity="0.06"/><rect x="47.0" y="86.5" width="5.2" height="0.6" fill="#d45a48" opacity="0.06"/><rect x="20.3" y="86.5" width="2.2" height="0.6" fill="#d45a48" opacity="0.18"/><rect x="58.5" y="86.5" width="5.7" height="0.6" fill="#fff6f0" opacity="0.16"/><rect x="16.5" y="87.1" width="13.2" height="1.2" fill="#d45a48" opacity="0.04"/><rect x="48.9" y="87.1" width="6.8" height="1.2" fill="#d45a48" opacity="0.09"/><rect x="14.0" y="87.1" width="10.7" height="1.2" fill="#d45a48" opacity="0.07"/><rect x="56.8" y="87.1" width="7.4" height="1.2" fill="#fff6f0" opacity="0.20"/><rect x="52.9" y="87.1" width="11.3" height="1.2" fill="#fff6f0" opacity="0.28"/><rect x="26.2" y="88.3" width="4.7" height="1.2" fill="#d45a48" opacity="0.14"/><rect x="52.3" y="88.3" width="10.5" height="1.2" fill="#d45a48" opacity="0.18"/><rect x="45.3" y="88.3" width="11.5" height="1.2" fill="#d45a48" opacity="0.04"/><rect x="42.3" y="89.5" width="7.9" height="0.8" fill="#d45a48" opacity="0.15"/><rect x="59.9" y="89.5" width="4.3" height="0.8" fill="#d45a48" opacity="0.09"/><rect x="52.3" y="89.5" width="2.1" height="0.8" fill="#d45a48" opacity="0.18"/><rect x="21.7" y="90.3" width="12.7" height="1.0" fill="#d45a48" opacity="0.10"/><rect x="27.1" y="90.3" width="8.3" height="1.0" fill="#d45a48" opacity="0.08"/><rect x="55.3" y="90.3" width="6.9" height="1.0" fill="#d45a48" opacity="0.06"/><rect x="18.7" y="90.3" width="17.4" height="1.0" fill="#fff6f0" opacity="0.09"/><rect x="48.5" y="91.3" width="7.3" height="1.0" fill="#d45a48" opacity="0.18"/><rect x="14.0" y="91.3" width="9.8" height="1.0" fill="#d45a48" opacity="0.15"/><rect x="18.2" y="91.3" width="3.4" height="1.0" fill="#d45a48" opacity="0.14"/><rect x="56.7" y="91.3" width="7.5" height="1.0" fill="#d45a48" opacity="0.17"/><rect x="55.0" y="91.3" width="9.2" height="1.0" fill="#d45a48" opacity="0.18"/><rect x="32.3" y="92.3" width="5.2" height="0.8" fill="#d45a48" opacity="0.07"/><rect x="28.1" y="93.1" width="6.4" height="1.0" fill="#d45a48" opacity="0.03"/><rect x="35.7" y="93.1" width="9.1" height="1.0" fill="#d45a48" opacity="0.15"/><rect x="60.9" y="93.1" width="3.3" height="1.0" fill="#fff6f0" opacity="0.24"/><rect x="17.0" y="94.1" width="3.2" height="1.0" fill="#d45a48" opacity="0.11"/><rect x="14.0" y="94.1" width="10.8" height="1.0" fill="#d45a48" opacity="0.10"/><rect x="41.5" y="94.1" width="5.4" height="1.0" fill="#d45a48" opacity="0.12"/><rect x="43.6" y="95.1" width="5.6" height="1.2" fill="#d45a48" opacity="0.16"/><rect x="50.6" y="96.3" width="13.2" height="1.0" fill="#d45a48" opacity="0.04"/><rect x="31.1" y="96.3" width="13.2" height="1.0" fill="#d45a48" opacity="0.07"/><rect x="17.0" y="96.3" width="8.0" height="1.0" fill="#d45a48" opacity="0.14"/><rect x="17.2" y="96.3" width="3.2" height="1.0" fill="#d45a48" opacity="0.06"/><rect x="19.1" y="96.3" width="7.1" height="1.0" fill="#fff6f0" opacity="0.15"/><rect x="58.0" y="97.3" width="6.2" height="0.8" fill="#d45a48" opacity="0.05"/><rect x="28.5" y="97.3" width="10.5" height="0.8" fill="#fff6f0" opacity="0.33"/><rect x="61.2" y="97.3" width="3.0" height="0.8" fill="#fff6f0" opacity="0.16"/><rect x="24.6" y="98.1" width="2.3" height="1.2" fill="#d45a48" opacity="0.16"/><rect x="54.3" y="98.1" width="9.9" height="1.2" fill="#d45a48" opacity="0.16"/><rect x="56.0" y="98.1" width="8.2" height="1.2" fill="#d45a48" opacity="0.11"/><rect x="34.5" y="98.1" width="4.2" height="1.2" fill="#fff6f0" opacity="0.08"/><rect x="26.7" y="99.3" width="3.6" height="1.0" fill="#d45a48" opacity="0.14"/><rect x="61.3" y="99.3" width="2.9" height="1.0" fill="#d45a48" opacity="0.17"/><rect x="14.9" y="99.3" width="14.0" height="1.0" fill="#d45a48" opacity="0.09"/><rect x="58.1" y="99.3" width="6.1" height="1.0" fill="#d45a48" opacity="0.11"/><rect x="22.5" y="99.3" width="15.5" height="1.0" fill="#fff6f0" opacity="0.26"/><rect x="32.9" y="100.3" width="8.9" height="1.0" fill="#d45a48" opacity="0.14"/><rect x="14.0" y="100.3" width="5.8" height="1.0" fill="#d45a48" opacity="0.12"/><rect x="16.1" y="100.3" width="8.0" height="1.0" fill="#d45a48" opacity="0.11"/><rect x="40.1" y="100.3" width="9.3" height="1.0" fill="#fff6f0" opacity="0.35"/><rect x="34.6" y="101.3" width="4.9" height="0.8" fill="#d45a48" opacity="0.03"/><rect x="26.2" y="101.3" width="11.5" height="0.8" fill="#d45a48" opacity="0.13"/><rect x="20.0" y="101.3" width="2.7" height="0.8" fill="#d45a48" opacity="0.13"/><rect x="54.8" y="101.3" width="6.0" height="0.8" fill="#d45a48" opacity="0.17"/><rect x="14.0" y="101.3" width="5.7" height="0.8" fill="#fff6f0" opacity="0.24"/><rect x="41.9" y="102.1" width="9.3" height="1.2" fill="#d45a48" opacity="0.04"/><rect x="32.4" y="102.1" width="9.3" height="1.2" fill="#d45a48" opacity="0.06"/><rect x="31.7" y="102.1" width="10.2" height="1.2" fill="#d45a48" opacity="0.10"/><rect x="43.9" y="102.1" width="6.5" height="1.2" fill="#d45a48" opacity="0.14"/><rect x="14.0" y="102.1" width="6.4" height="1.2" fill="#fff6f0" opacity="0.28"/><rect x="47.2" y="103.3" width="5.3" height="0.8" fill="#d45a48" opacity="0.15"/><rect x="14.0" y="103.3" width="9.4" height="0.8" fill="#d45a48" opacity="0.13"/><rect x="54.4" y="103.3" width="9.8" height="0.8" fill="#d45a48" opacity="0.08"/><rect x="48.8" y="104.1" width="6.7" height="0.8" fill="#d45a48" opacity="0.15"/><rect x="40.4" y="104.1" width="5.9" height="0.8" fill="#d45a48" opacity="0.10"/><rect x="20.0" y="104.1" width="8.1" height="0.8" fill="#d45a48" opacity="0.13"/><rect x="37.5" y="104.1" width="5.4" height="0.8" fill="#d45a48" opacity="0.12"/><rect x="58.2" y="104.1" width="2.8" height="0.8" fill="#d45a48" opacity="0.08"/><rect x="36.8" y="104.1" width="13.1" height="0.8" fill="#fff6f0" opacity="0.18"/><rect x="26.4" y="104.9" width="9.6" height="1.2" fill="#d45a48" opacity="0.07"/><rect x="48.5" y="104.9" width="15.7" height="1.2" fill="#fff6f0" opacity="0.20"/><rect x="35.9" y="104.9" width="6.9" height="1.2" fill="#fff6f0" opacity="0.29"/><rect x="49.3" y="106.1" width="8.0" height="0.8" fill="#d45a48" opacity="0.04"/><rect x="17.1" y="106.1" width="2.3" height="0.8" fill="#d45a48" opacity="0.14"/><rect x="46.3" y="106.1" width="7.6" height="0.8" fill="#d45a48" opacity="0.13"/><rect x="59.5" y="106.1" width="4.7" height="0.8" fill="#d45a48" opacity="0.08"/><rect x="21.4" y="106.1" width="4.8" height="0.8" fill="#fff6f0" opacity="0.24"/><rect x="25.7" y="106.1" width="12.5" height="0.8" fill="#fff6f0" opacity="0.27"/><rect x="25.7" y="106.9" width="12.9" height="0.6" fill="#d45a48" opacity="0.11"/><rect x="51.1" y="106.9" width="5.6" height="0.6" fill="#d45a48" opacity="0.06"/><rect x="55.6" y="106.9" width="8.3" height="0.6" fill="#d45a48" opacity="0.08"/><rect x="49.0" y="106.9" width="2.9" height="0.6" fill="#d45a48" opacity="0.14"/><rect x="61.5" y="106.9" width="2.7" height="0.6" fill="#fff6f0" opacity="0.18"/><rect x="58.2" y="108.1" width="3.5" height="0.8" fill="#fff6f0" opacity="0.20"/><rect x="56.4" y="108.9" width="3.3" height="0.8" fill="#d45a48" opacity="0.07"/><rect x="25.0" y="108.9" width="3.4" height="0.8" fill="#d45a48" opacity="0.10"/><rect x="22.5" y="108.9" width="9.2" height="0.8" fill="#d45a48" opacity="0.09"/><rect x="23.4" y="108.9" width="12.5" height="0.8" fill="#d45a48" opacity="0.05"/><rect x="14.0" y="108.9" width="8.1" height="0.8" fill="#d45a48" opacity="0.16"/><rect x="49.9" y="109.7" width="12.3" height="0.8" fill="#d45a48" opacity="0.03"/><rect x="28.0" y="109.7" width="7.5" height="0.8" fill="#d45a48" opacity="0.11"/><rect x="62.2" y="111.1" width="2.0" height="0.8" fill="#d45a48" opacity="0.04"/><rect x="19.6" y="111.1" width="3.7" height="0.8" fill="#d45a48" opacity="0.04"/><rect x="37.9" y="111.1" width="12.5" height="0.8" fill="#d45a48" opacity="0.07"/><rect x="14.0" y="111.1" width="11.9" height="0.8" fill="#d45a48" opacity="0.11"/><rect x="19.2" y="111.1" width="15.6" height="0.8" fill="#fff6f0" opacity="0.13"/><rect x="43.9" y="111.9" width="5.8" height="1.0" fill="#d45a48" opacity="0.12"/><rect x="25.6" y="111.9" width="5.4" height="1.0" fill="#fff6f0" opacity="0.23"/><rect x="39.4" y="111.9" width="13.0" height="1.0" fill="#fff6f0" opacity="0.16"/><rect x="29.0" y="112.9" width="11.4" height="0.8" fill="#d45a48" opacity="0.15"/><rect x="14.0" y="112.9" width="2.4" height="0.8" fill="#d45a48" opacity="0.11"/><rect x="37.0" y="112.9" width="5.2" height="0.8" fill="#d45a48" opacity="0.07"/><rect x="57.0" y="112.9" width="2.6" height="0.8" fill="#d45a48" opacity="0.14"/><rect x="61.8" y="113.7" width="2.4" height="1.2" fill="#d45a48" opacity="0.14"/><rect x="36.2" y="113.7" width="6.8" height="1.2" fill="#d45a48" opacity="0.07"/><rect x="18.2" y="113.7" width="14.2" height="1.2" fill="#fff6f0" opacity="0.29"/><rect x="14.0" y="114.9" width="3.5" height="1.0" fill="#d45a48" opacity="0.06"/><rect x="26.6" y="114.9" width="10.6" height="1.0" fill="#d45a48" opacity="0.11"/><rect x="19.7" y="114.9" width="5.8" height="1.0" fill="#d45a48" opacity="0.03"/><rect x="50.1" y="114.9" width="8.2" height="1.0" fill="#fff6f0" opacity="0.18"/><rect x="44.5" y="115.9" width="9.0" height="1.2" fill="#fff6f0" opacity="0.23"/><rect x="35.2" y="117.1" width="11.8" height="1.2" fill="#d45a48" opacity="0.05"/><rect x="14.0" y="118.3" width="8.8" height="1.0" fill="#d45a48" opacity="0.07"/><rect x="48.1" y="118.3" width="5.6" height="1.0" fill="#fff6f0" opacity="0.23"/><rect x="53.6" y="119.3" width="3.8" height="1.2" fill="#d45a48" opacity="0.04"/><rect x="14.0" y="119.3" width="10.2" height="1.2" fill="#d45a48" opacity="0.05"/><rect x="21.4" y="120.5" width="6.4" height="1.2" fill="#d45a48" opacity="0.04"/><rect x="35.4" y="120.5" width="11.7" height="1.2" fill="#d45a48" opacity="0.05"/><rect x="56.5" y="120.5" width="7.7" height="1.2" fill="#d45a48" opacity="0.04"/><rect x="37.5" y="121.7" width="5.1" height="0.6" fill="#d45a48" opacity="0.15"/><rect x="55.5" y="121.7" width="8.7" height="0.6" fill="#d45a48" opacity="0.04"/><rect x="17.9" y="121.7" width="8.1" height="0.6" fill="#d45a48" opacity="0.10"/><rect x="40.1" y="121.7" width="5.9" height="0.6" fill="#d45a48" opacity="0.08"/><rect x="24.5" y="122.3" width="13.2" height="0.8" fill="#d45a48" opacity="0.12"/><rect x="23.9" y="122.3" width="11.6" height="0.8" fill="#d45a48" opacity="0.11"/><rect x="32.7" y="122.3" width="15.9" height="0.8" fill="#fff6f0" opacity="0.13"/><rect x="55.4" y="122.3" width="6.5" height="0.8" fill="#fff6f0" opacity="0.26"/><rect x="14.0" y="123.1" width="8.2" height="0.6" fill="#d45a48" opacity="0.13"/><rect x="28.1" y="123.1" width="7.7" height="0.6" fill="#d45a48" opacity="0.06"/><rect x="60.0" y="123.1" width="4.2" height="0.6" fill="#d45a48" opacity="0.13"/><rect x="37.6" y="123.1" width="12.1" height="0.6" fill="#d45a48" opacity="0.09"/><rect x="25.7" y="123.1" width="10.8" height="0.6" fill="#d45a48" opacity="0.05"/><rect x="56.6" y="123.1" width="7.6" height="0.6" fill="#fff6f0" opacity="0.35"/><rect x="14.0" y="123.7" width="2.7" height="1.2" fill="#d45a48" opacity="0.08"/><rect x="18.1" y="123.7" width="13.1" height="1.2" fill="#d45a48" opacity="0.06"/><rect x="14.3" y="124.9" width="13.6" height="0.8" fill="#d45a48" opacity="0.10"/><rect x="14.0" y="124.9" width="7.4" height="0.8" fill="#fff6f0" opacity="0.14"/><rect x="49.6" y="124.9" width="7.8" height="0.8" fill="#fff6f0" opacity="0.30"/><rect x="14.0" y="125.7" width="4.2" height="0.6" fill="#fff6f0" opacity="0.10"/><rect x="18.5" y="126.3" width="7.1" height="0.8" fill="#d45a48" opacity="0.02"/><rect x="42.1" y="126.3" width="11.0" height="0.8" fill="#d45a48" opacity="0.13"/><rect x="19.1" y="126.3" width="5.1" height="0.8" fill="#d45a48" opacity="0.07"/><rect x="57.1" y="126.3" width="2.5" height="0.8" fill="#d45a48" opacity="0.06"/><rect x="32.7" y="126.3" width="10.2" height="0.8" fill="#d45a48" opacity="0.04"/><rect x="14.4" y="126.3" width="10.8" height="0.8" fill="#fff6f0" opacity="0.08"/><rect x="18.4" y="128.1" width="13.3" height="0.8" fill="#d45a48" opacity="0.03"/><rect x="27.6" y="128.1" width="8.4" height="0.8" fill="#d45a48" opacity="0.11"/><rect x="21.2" y="128.1" width="11.5" height="0.8" fill="#d45a48" opacity="0.05"/><rect x="46.7" y="128.1" width="9.3" height="0.8" fill="#d45a48" opacity="0.14"/><rect x="54.6" y="128.1" width="9.6" height="0.8" fill="#fff6f0" opacity="0.28"/><rect x="44.0" y="128.1" width="6.1" height="0.8" fill="#fff6f0" opacity="0.08"/><rect x="52.3" y="128.9" width="11.9" height="0.6" fill="#fff6f0" opacity="0.20"/><rect x="18.4" y="128.9" width="8.9" height="0.6" fill="#fff6f0" opacity="0.18"/><rect x="29.8" y="129.5" width="10.3" height="0.8" fill="#d45a48" opacity="0.12"/><rect x="16.1" y="129.5" width="11.7" height="0.8" fill="#fff6f0" opacity="0.35"/><rect x="54.2" y="130.3" width="10.0" height="1.2" fill="#d45a48" opacity="0.09"/><rect x="20.6" y="130.3" width="5.5" height="1.2" fill="#d45a48" opacity="0.04"/><rect x="26.4" y="130.3" width="12.4" height="1.2" fill="#fff6f0" opacity="0.26"/><rect x="40.0" y="130.3" width="10.3" height="1.2" fill="#fff6f0" opacity="0.11"/><rect x="35.1" y="131.5" width="13.9" height="1.0" fill="#d45a48" opacity="0.04"/><rect x="51.6" y="131.5" width="6.3" height="1.0" fill="#d45a48" opacity="0.12"/><rect x="49.0" y="131.5" width="8.5" height="1.0" fill="#d45a48" opacity="0.05"/><rect x="18.2" y="131.5" width="11.6" height="1.0" fill="#fff6f0" opacity="0.35"/><rect x="30.1" y="132.5" width="3.1" height="1.0" fill="#d45a48" opacity="0.05"/><rect x="14.0" y="132.5" width="5.9" height="1.0" fill="#d45a48" opacity="0.12"/><rect x="51.4" y="132.5" width="2.4" height="1.0" fill="#d45a48" opacity="0.12"/><rect x="54.9" y="132.5" width="4.7" height="1.0" fill="#d45a48" opacity="0.03"/><rect x="45.8" y="132.5" width="3.8" height="1.0" fill="#d45a48" opacity="0.10"/><rect x="37.3" y="133.5" width="8.1" height="1.0" fill="#d45a48" opacity="0.09"/><rect x="51.4" y="133.5" width="10.2" height="1.0" fill="#d45a48" opacity="0.06"/><rect x="61.6" y="133.5" width="2.6" height="1.0" fill="#d45a48" opacity="0.09"/><rect x="61.5" y="133.5" width="2.7" height="1.0" fill="#d45a48" opacity="0.04"/><rect x="22.1" y="134.5" width="8.3" height="0.6" fill="#d45a48" opacity="0.08"/><rect x="26.9" y="134.5" width="13.7" height="0.6" fill="#d45a48" opacity="0.09"/><rect x="54.6" y="134.5" width="5.5" height="0.6" fill="#fff6f0" opacity="0.12"/><rect x="39.2" y="134.5" width="4.3" height="0.6" fill="#fff6f0" opacity="0.19"/><rect x="32.8" y="135.1" width="5.5" height="1.0" fill="#d45a48" opacity="0.06"/><rect x="32.7" y="135.1" width="5.3" height="1.0" fill="#d45a48" opacity="0.03"/><rect x="60.0" y="135.1" width="2.2" height="1.0" fill="#d45a48" opacity="0.10"/><rect x="55.5" y="136.1" width="8.3" height="1.0" fill="#d45a48" opacity="0.07"/><rect x="57.1" y="136.1" width="7.1" height="1.0" fill="#fff6f0" opacity="0.19"/><rect x="14.0" y="137.1" width="9.2" height="1.0" fill="#d45a48" opacity="0.08"/><rect x="19.8" y="137.1" width="13.2" height="1.0" fill="#d45a48" opacity="0.07"/><rect x="14.6" y="137.1" width="5.8" height="1.0" fill="#d45a48" opacity="0.10"/><rect x="23.1" y="137.1" width="6.2" height="1.0" fill="#d45a48" opacity="0.07"/><rect x="22.1" y="138.1" width="8.9" height="1.0" fill="#d45a48" opacity="0.02"/><rect x="26.9" y="138.1" width="4.6" height="1.0" fill="#d45a48" opacity="0.07"/><rect x="37.4" y="138.1" width="9.5" height="1.0" fill="#d45a48" opacity="0.07"/><rect x="61.8" y="138.1" width="2.4" height="1.0" fill="#d45a48" opacity="0.04"/><rect x="27.0" y="138.1" width="13.6" height="1.0" fill="#d45a48" opacity="0.07"/><rect x="14.0" y="139.1" width="3.2" height="1.0" fill="#d45a48" opacity="0.02"/><rect x="34.5" y="139.1" width="4.0" height="1.0" fill="#d45a48" opacity="0.06"/><rect x="14.0" y="139.1" width="3.5" height="1.0" fill="#d45a48" opacity="0.09"/><rect x="29.2" y="139.1" width="8.2" height="1.0" fill="#d45a48" opacity="0.09"/><rect x="46.8" y="139.1" width="10.7" height="1.0" fill="#d45a48" opacity="0.07"/><rect x="38.6" y="139.1" width="17.6" height="1.0" fill="#fff6f0" opacity="0.08"/><rect x="46.9" y="140.1" width="13.4" height="1.2" fill="#d45a48" opacity="0.03"/><rect x="21.1" y="140.1" width="10.1" height="1.2" fill="#d45a48" opacity="0.09"/><rect x="45.0" y="140.1" width="4.0" height="1.2" fill="#d45a48" opacity="0.06"/><rect x="47.0" y="140.1" width="10.5" height="1.2" fill="#d45a48" opacity="0.10"/><rect x="25.9" y="141.3" width="6.2" height="1.2" fill="#fff6f0" opacity="0.24"/><rect x="21.3" y="141.3" width="3.2" height="1.2" fill="#fff6f0" opacity="0.08"/><rect x="37.3" y="142.5" width="3.6" height="0.6" fill="#fff6f0" opacity="0.15"/><rect x="42.0" y="143.1" width="17.0" height="0.8" fill="#fff6f0" opacity="0.30"/><rect x="19.2" y="143.9" width="10.3" height="1.2" fill="#d45a48" opacity="0.08"/><rect x="20.7" y="143.9" width="11.0" height="1.2" fill="#d45a48" opacity="0.08"/><rect x="28.7" y="143.9" width="12.8" height="1.2" fill="#d45a48" opacity="0.06"/><rect x="42.2" y="143.9" width="17.3" height="1.2" fill="#fff6f0" opacity="0.09"/><rect x="37.1" y="146.3" width="4.7" height="1.0" fill="#d45a48" opacity="0.03"/><rect x="53.5" y="146.3" width="4.5" height="1.0" fill="#d45a48" opacity="0.03"/><rect x="27.7" y="146.3" width="7.3" height="1.0" fill="#fff6f0" opacity="0.35"/><rect x="30.0" y="147.3" width="3.7" height="1.0" fill="#d45a48" opacity="0.05"/><rect x="16.5" y="147.3" width="6.5" height="1.0" fill="#d45a48" opacity="0.06"/><rect x="46.0" y="147.3" width="5.4" height="1.0" fill="#d45a48" opacity="0.09"/><rect x="44.2" y="148.3" width="8.9" height="0.6" fill="#d45a48" opacity="0.04"/><rect x="56.4" y="148.9" width="7.8" height="0.6" fill="#d45a48" opacity="0.06"/><rect x="30.9" y="148.9" width="11.1" height="0.6" fill="#d45a48" opacity="0.05"/><rect x="15.0" y="148.9" width="7.6" height="0.6" fill="#d45a48" opacity="0.05"/><rect x="29.8" y="149.5" width="8.5" height="1.2" fill="#d45a48" opacity="0.06"/><rect x="14.0" y="149.5" width="16.4" height="1.2" fill="#fff6f0" opacity="0.15"/><rect x="14.7" y="149.5" width="5.3" height="1.2" fill="#fff6f0" opacity="0.28"/><rect x="15.4" y="150.7" width="4.2" height="1.0" fill="#d45a48" opacity="0.03"/><rect x="23.2" y="150.7" width="6.6" height="1.0" fill="#d45a48" opacity="0.02"/><rect x="56.0" y="150.7" width="5.3" height="1.0" fill="#d45a48" opacity="0.05"/><rect x="50.8" y="150.7" width="12.2" height="1.0" fill="#d45a48" opacity="0.03"/><rect x="33.3" y="150.7" width="11.6" height="1.0" fill="#fff6f0" opacity="0.20"/><rect x="15.7" y="151.7" width="5.0" height="1.0" fill="#fff6f0" opacity="0.14"/></g>
<polygon points="31.93,44.50 32.06,45.71 32.01,46.91 32.29,48.12 32.47,49.33 32.13,50.53 32.42,51.74 32.40,52.95 32.40,54.15 32.71,55.36 32.79,56.57 32.87,57.77 33.26,58.98 33.35,60.18 33.21,61.39 33.22,62.60 33.09,63.80 33.59,65.01 33.59,66.22 33.13,67.42 33.68,68.63 33.86,69.84 33.84,71.04 33.75,72.25 33.62,73.46 33.66,74.66 33.66,75.87 34.08,77.08 33.79,78.28 33.96,79.49 33.75,80.70 34.30,81.90 34.22,83.11 33.67,84.32 34.04,85.52 34.30,86.73 34.21,87.93 34.00,89.14 34.10,90.35 34.33,91.55 34.67,92.76 34.48,93.97 34.17,95.17 34.41,96.38 34.38,97.59 34.15,98.79 34.68,100.00 34.78,101.21 34.54,102.41 34.29,103.62 34.41,104.83 34.60,106.03 34.96,107.24 35.05,108.45 34.67,109.65 34.57,110.86 34.76,112.07 34.51,113.27 34.64,114.48 34.74,115.68 34.56,116.89 34.93,118.10 34.82,119.30 34.98,120.51 35.20,121.72 34.61,122.92 34.81,124.13 34.78,125.34 34.58,126.54 35.01,127.75 34.92,128.96 34.93,130.16 34.97,131.37 34.99,132.58 34.80,133.78 34.66,134.99 34.91,136.20 34.60,137.40 34.92,138.61 34.76,139.82 35.00,141.02 34.87,142.23 34.75,143.43 34.81,144.64 35.06,145.85 35.14,147.05 35.14,148.26 35.14,149.47 34.66,150.67 35.00,151.88 35.11,153.09 34.95,154.29 34.50,155.50 42.61,155.50 43.06,154.29 42.44,153.09 42.68,151.88 42.68,150.67 42.53,149.47 42.93,148.26 42.46,147.05 42.38,145.85 42.69,144.64 42.41,143.43 42.53,142.23 42.62,141.02 42.77,139.82 42.94,138.61 42.80,137.40 42.46,136.20 42.44,134.99 42.52,133.78 42.41,132.58 42.94,131.37 42.39,130.16 42.48,128.96 42.58,127.75 42.60,126.54 42.99,125.34 42.44,124.13 42.87,122.92 42.79,121.72 43.05,120.51 42.99,119.30 42.70,118.10 43.07,116.89 42.46,115.68 43.15,114.48 42.90,113.27 42.70,112.07 42.92,110.86 43.03,109.65 42.96,108.45 43.10,107.24 43.14,106.03 43.36,104.83 43.05,103.62 42.74,102.41 42.92,101.21 43.11,100.00 43.29,98.79 43.58,97.59 42.70,96.38 43.37,95.17 42.96,93.97 43.25,92.76 43.75,91.55 43.42,90.35 43.46,89.14 43.35,87.93 43.02,86.73 43.55,85.52 43.47,84.32 43.66,83.11 43.67,81.90 43.35,80.70 43.71,79.49 43.80,78.28 43.60,77.08 43.78,75.87 43.76,74.66 43.73,73.46 44.30,72.25 43.67,71.04 44.20,69.84 44.13,68.63 44.16,67.42 44.40,66.22 44.09,65.01 44.31,63.80 44.66,62.60 44.43,61.39 44.39,60.18 44.41,58.98 44.90,57.77 44.50,56.57 44.63,55.36 44.89,54.15 44.92,52.95 45.16,51.74 45.11,50.53 45.50,49.33 45.56,48.12 45.79,46.91 45.32,45.71 45.50,44.50" fill="#f06a4e" opacity="0.55" filter="url(#bl2)"/>
<polygon points="36.71,44.50 36.73,45.71 36.99,46.91 37.11,48.12 37.21,49.33 37.11,50.53 37.07,51.74 37.16,52.95 36.93,54.15 37.16,55.36 36.70,56.57 37.10,57.77 37.29,58.98 37.02,60.18 37.08,61.39 36.75,62.60 37.15,63.80 36.74,65.01 37.28,66.22 36.89,67.42 36.84,68.63 37.00,69.84 37.56,71.04 36.84,72.25 37.15,73.46 37.42,74.66 37.33,75.87 37.23,77.08 37.22,78.28 37.66,79.49 37.05,80.70 37.31,81.90 37.67,83.11 37.82,84.32 37.76,85.52 37.51,86.73 37.59,87.93 36.95,89.14 37.63,90.35 37.42,91.55 37.64,92.76 37.32,93.97 37.14,95.17 37.72,96.38 37.41,97.59 37.79,98.79 37.18,100.00 37.61,101.21 37.51,102.41 37.64,103.62 37.78,104.83 37.33,106.03 37.19,107.24 37.38,108.45 37.22,109.65 37.59,110.86 37.69,112.07 37.76,113.27 37.32,114.48 37.70,115.68 37.41,116.89 37.78,118.10 37.48,119.30 37.43,120.51 37.77,121.72 37.65,122.92 37.51,124.13 37.38,125.34 37.33,126.54 37.66,127.75 37.57,128.96 37.62,130.16 37.30,131.37 37.58,132.58 37.87,133.78 37.67,134.99 37.89,136.20 37.45,137.40 37.94,138.61 37.52,139.82 37.59,141.02 37.95,142.23 37.70,143.43 37.61,144.64 37.54,145.85 37.11,147.05 37.22,148.26 37.76,149.47 37.36,150.67 37.58,151.88 37.88,153.09 37.74,154.29 37.69,155.50 40.89,155.50 41.23,154.29 40.99,153.09 40.80,151.88 41.34,150.67 40.84,149.47 41.48,148.26 41.33,147.05 40.96,145.85 41.51,144.64 41.30,143.43 41.26,142.23 40.90,141.02 41.42,139.82 41.29,138.61 41.43,137.40 41.39,136.20 41.42,134.99 41.02,133.78 41.18,132.58 41.37,131.37 41.56,130.16 41.69,128.96 41.13,127.75 41.60,126.54 41.17,125.34 41.18,124.13 41.43,122.92 41.14,121.72 41.02,120.51 41.31,119.30 41.39,118.10 41.40,116.89 41.47,115.68 41.63,114.48 40.96,113.27 41.16,112.07 41.33,110.86 41.15,109.65 41.39,108.45 41.35,107.24 41.47,106.03 41.06,104.83 41.13,103.62 41.58,102.41 40.88,101.21 41.61,100.00 41.16,98.79 40.90,97.59 41.15,96.38 41.19,95.17 41.44,93.97 41.01,92.76 40.94,91.55 41.23,90.35 41.47,89.14 41.36,87.93 41.75,86.73 41.40,85.52 41.40,84.32 41.61,83.11 41.96,81.90 41.27,80.70 41.61,79.49 41.43,78.28 41.23,77.08 41.55,75.87 41.27,74.66 41.21,73.46 41.70,72.25 41.60,71.04 41.50,69.84 41.77,68.63 41.61,67.42 41.24,66.22 41.68,65.01 41.33,63.80 41.58,62.60 42.09,61.39 41.32,60.18 41.87,58.98 41.45,57.77 41.64,56.57 41.85,55.36 41.50,54.15 42.01,52.95 42.08,51.74 41.68,50.53 41.62,49.33 42.05,48.12 42.28,46.91 41.76,45.71 42.23,44.50" fill="#da1c10" opacity="1.0" filter="url(#bl1)"/>
</svg>
<rect x="14.00" y="46.50" width="50.20" height="107.00" fill="none" stroke="#828282" stroke-width="1.2"/>
<svg x="65.6" y="46.5" width="50.2" height="107" viewBox="65.6 46.5 50.2 107" overflow="hidden">
<rect x="65.60" y="46.50" width="50.20" height="107.00" fill="url(#g4)" />
<g filter="url(#bl3)"><rect x="84.1" y="46.5" width="11.4" height="0.6" fill="#d45a48" opacity="0.11"/><rect x="98.4" y="46.5" width="10.2" height="0.6" fill="#d45a48" opacity="0.17"/><rect x="76.5" y="46.5" width="7.8" height="0.6" fill="#d45a48" opacity="0.16"/><rect x="109.9" y="46.5" width="5.9" height="0.6" fill="#fff6f0" opacity="0.10"/><rect x="98.2" y="47.1" width="4.3" height="0.8" fill="#d45a48" opacity="0.10"/><rect x="96.1" y="47.9" width="7.8" height="1.0" fill="#d45a48" opacity="0.19"/><rect x="108.9" y="47.9" width="6.9" height="1.0" fill="#d45a48" opacity="0.20"/><rect x="99.4" y="47.9" width="8.0" height="1.0" fill="#d45a48" opacity="0.22"/><rect x="113.1" y="47.9" width="2.7" height="1.0" fill="#d45a48" opacity="0.20"/><rect x="87.4" y="47.9" width="11.2" height="1.0" fill="#d45a48" opacity="0.11"/><rect x="72.2" y="48.9" width="7.0" height="1.2" fill="#d45a48" opacity="0.19"/><rect x="84.0" y="48.9" width="13.6" height="1.2" fill="#d45a48" opacity="0.04"/><rect x="83.8" y="48.9" width="12.2" height="1.2" fill="#d45a48" opacity="0.24"/><rect x="88.5" y="48.9" width="5.0" height="1.2" fill="#d45a48" opacity="0.17"/><rect x="72.4" y="50.1" width="9.1" height="1.0" fill="#d45a48" opacity="0.20"/><rect x="93.0" y="50.1" width="11.3" height="1.0" fill="#fff6f0" opacity="0.23"/><rect x="109.2" y="51.1" width="5.6" height="0.6" fill="#fff6f0" opacity="0.10"/><rect x="87.6" y="51.7" width="3.0" height="0.8" fill="#fff6f0" opacity="0.14"/><rect x="92.6" y="52.5" width="8.2" height="1.0" fill="#d45a48" opacity="0.11"/><rect x="103.7" y="52.5" width="12.1" height="1.0" fill="#d45a48" opacity="0.07"/><rect x="65.6" y="52.5" width="7.5" height="1.0" fill="#d45a48" opacity="0.04"/><rect x="73.5" y="52.5" width="2.0" height="1.0" fill="#d45a48" opacity="0.11"/><rect x="102.5" y="52.5" width="13.3" height="1.0" fill="#fff6f0" opacity="0.26"/><rect x="88.6" y="53.5" width="13.9" height="1.0" fill="#d45a48" opacity="0.13"/><rect x="104.8" y="53.5" width="8.9" height="1.0" fill="#fff6f0" opacity="0.21"/><rect x="84.4" y="53.5" width="5.0" height="1.0" fill="#fff6f0" opacity="0.30"/><rect x="111.6" y="54.5" width="2.5" height="0.8" fill="#d45a48" opacity="0.23"/><rect x="93.4" y="54.5" width="10.9" height="0.8" fill="#fff6f0" opacity="0.19"/><rect x="102.8" y="55.3" width="8.2" height="0.8" fill="#d45a48" opacity="0.07"/><rect x="69.4" y="57.3" width="8.4" height="1.0" fill="#d45a48" opacity="0.15"/><rect x="98.8" y="57.3" width="7.7" height="1.0" fill="#d45a48" opacity="0.23"/><rect x="81.9" y="58.3" width="3.2" height="0.6" fill="#d45a48" opacity="0.07"/><rect x="98.6" y="58.3" width="10.0" height="0.6" fill="#d45a48" opacity="0.14"/><rect x="66.8" y="58.3" width="3.2" height="0.6" fill="#d45a48" opacity="0.14"/><rect x="87.7" y="58.9" width="13.6" height="1.0" fill="#d45a48" opacity="0.22"/><rect x="94.9" y="58.9" width="15.5" height="1.0" fill="#fff6f0" opacity="0.24"/><rect x="110.3" y="58.9" width="3.5" height="1.0" fill="#fff6f0" opacity="0.22"/><rect x="99.6" y="59.9" width="4.2" height="1.0" fill="#d45a48" opacity="0.06"/><rect x="106.8" y="59.9" width="6.6" height="1.0" fill="#d45a48" opacity="0.15"/><rect x="91.5" y="59.9" width="11.4" height="1.0" fill="#d45a48" opacity="0.21"/><rect x="94.0" y="59.9" width="11.4" height="1.0" fill="#fff6f0" opacity="0.15"/><rect x="84.2" y="61.5" width="3.7" height="0.6" fill="#fff6f0" opacity="0.35"/><rect x="75.0" y="62.1" width="7.5" height="1.2" fill="#d45a48" opacity="0.15"/><rect x="68.3" y="62.1" width="7.4" height="1.2" fill="#d45a48" opacity="0.21"/><rect x="109.2" y="62.1" width="6.6" height="1.2" fill="#d45a48" opacity="0.04"/><rect x="96.9" y="62.1" width="10.9" height="1.2" fill="#d45a48" opacity="0.10"/><rect x="85.2" y="63.3" width="9.8" height="1.0" fill="#d45a48" opacity="0.22"/><rect x="75.5" y="63.3" width="9.8" height="1.0" fill="#d45a48" opacity="0.20"/><rect x="83.1" y="63.3" width="9.5" height="1.0" fill="#fff6f0" opacity="0.10"/><rect x="93.9" y="64.3" width="4.8" height="1.0" fill="#d45a48" opacity="0.16"/><rect x="98.9" y="64.3" width="6.7" height="1.0" fill="#d45a48" opacity="0.17"/><rect x="97.1" y="64.3" width="13.6" height="1.0" fill="#d45a48" opacity="0.04"/><rect x="111.4" y="64.3" width="4.4" height="1.0" fill="#d45a48" opacity="0.06"/><rect x="109.7" y="65.3" width="3.9" height="1.0" fill="#d45a48" opacity="0.08"/><rect x="92.1" y="65.3" width="9.4" height="1.0" fill="#d45a48" opacity="0.18"/><rect x="70.1" y="65.3" width="8.7" height="1.0" fill="#d45a48" opacity="0.15"/><rect x="70.2" y="66.3" width="9.7" height="0.8" fill="#d45a48" opacity="0.20"/><rect x="101.0" y="66.3" width="4.1" height="0.8" fill="#d45a48" opacity="0.04"/><rect x="74.8" y="66.3" width="7.7" height="0.8" fill="#fff6f0" opacity="0.29"/><rect x="109.5" y="67.1" width="6.3" height="1.2" fill="#d45a48" opacity="0.07"/><rect x="83.1" y="67.1" width="5.6" height="1.2" fill="#d45a48" opacity="0.22"/><rect x="84.3" y="67.1" width="5.3" height="1.2" fill="#d45a48" opacity="0.20"/><rect x="81.2" y="67.1" width="7.2" height="1.2" fill="#fff6f0" opacity="0.17"/><rect x="65.6" y="67.1" width="11.7" height="1.2" fill="#fff6f0" opacity="0.09"/><rect x="92.6" y="68.3" width="12.1" height="1.0" fill="#d45a48" opacity="0.06"/><rect x="97.4" y="68.3" width="12.3" height="1.0" fill="#d45a48" opacity="0.13"/><rect x="75.3" y="68.3" width="3.0" height="1.0" fill="#fff6f0" opacity="0.14"/><rect x="113.6" y="68.3" width="2.2" height="1.0" fill="#fff6f0" opacity="0.17"/><rect x="96.6" y="69.3" width="5.4" height="0.6" fill="#d45a48" opacity="0.09"/><rect x="84.7" y="69.3" width="3.3" height="0.6" fill="#d45a48" opacity="0.14"/><rect x="105.5" y="69.9" width="4.2" height="0.8" fill="#d45a48" opacity="0.17"/><rect x="95.0" y="69.9" width="15.6" height="0.8" fill="#fff6f0" opacity="0.35"/><rect x="110.8" y="70.7" width="5.0" height="0.6" fill="#d45a48" opacity="0.05"/><rect x="79.1" y="70.7" width="11.6" height="0.6" fill="#d45a48" opacity="0.08"/><rect x="70.1" y="70.7" width="5.5" height="0.6" fill="#d45a48" opacity="0.16"/><rect x="92.3" y="70.7" width="10.8" height="0.6" fill="#fff6f0" opacity="0.25"/><rect x="101.9" y="71.3" width="5.3" height="0.8" fill="#d45a48" opacity="0.15"/><rect x="86.7" y="71.3" width="2.4" height="0.8" fill="#d45a48" opacity="0.15"/><rect x="76.1" y="71.3" width="4.8" height="0.8" fill="#d45a48" opacity="0.15"/><rect x="74.2" y="71.3" width="13.2" height="0.8" fill="#d45a48" opacity="0.20"/><rect x="71.8" y="71.3" width="13.8" height="0.8" fill="#d45a48" opacity="0.07"/><rect x="108.4" y="71.3" width="7.4" height="0.8" fill="#fff6f0" opacity="0.30"/><rect x="67.5" y="72.1" width="3.6" height="1.0" fill="#d45a48" opacity="0.10"/><rect x="107.4" y="72.1" width="8.4" height="1.0" fill="#d45a48" opacity="0.11"/><rect x="107.4" y="72.1" width="8.4" height="1.0" fill="#fff6f0" opacity="0.26"/><rect x="97.5" y="74.1" width="12.5" height="0.6" fill="#d45a48" opacity="0.20"/><rect x="109.1" y="74.1" width="6.7" height="0.6" fill="#d45a48" opacity="0.11"/><rect x="65.6" y="74.1" width="5.8" height="0.6" fill="#d45a48" opacity="0.19"/><rect x="95.7" y="74.1" width="3.7" height="0.6" fill="#d45a48" opacity="0.08"/><rect x="65.6" y="74.1" width="12.8" height="0.6" fill="#fff6f0" opacity="0.22"/><rect x="85.0" y="74.7" width="4.1" height="0.6" fill="#d45a48" opacity="0.14"/><rect x="113.5" y="74.7" width="2.3" height="0.6" fill="#d45a48" opacity="0.07"/><rect x="69.4" y="74.7" width="3.9" height="0.6" fill="#d45a48" opacity="0.13"/><rect x="66.3" y="74.7" width="13.0" height="0.6" fill="#d45a48" opacity="0.12"/><rect x="96.1" y="74.7" width="9.0" height="0.6" fill="#fff6f0" opacity="0.25"/><rect x="103.8" y="75.3" width="10.6" height="0.6" fill="#d45a48" opacity="0.09"/><rect x="110.0" y="75.3" width="4.5" height="0.6" fill="#d45a48" opacity="0.10"/><rect x="95.5" y="75.3" width="10.4" height="0.6" fill="#d45a48" opacity="0.08"/><rect x="98.4" y="75.3" width="7.7" height="0.6" fill="#d45a48" opacity="0.06"/><rect x="94.3" y="75.3" width="9.0" height="0.6" fill="#fff6f0" opacity="0.16"/><rect x="103.0" y="75.3" width="12.8" height="0.6" fill="#fff6f0" opacity="0.35"/><rect x="79.2" y="75.9" width="8.3" height="1.0" fill="#fff6f0" opacity="0.20"/><rect x="109.4" y="76.9" width="6.4" height="0.8" fill="#d45a48" opacity="0.19"/><rect x="86.7" y="76.9" width="8.4" height="0.8" fill="#d45a48" opacity="0.07"/><rect x="65.6" y="77.7" width="3.8" height="1.2" fill="#d45a48" opacity="0.11"/><rect x="81.8" y="78.9" width="7.6" height="1.0" fill="#fff6f0" opacity="0.15"/><rect x="92.0" y="79.9" width="3.4" height="0.6" fill="#d45a48" opacity="0.19"/><rect x="73.6" y="79.9" width="2.1" height="0.6" fill="#d45a48" opacity="0.16"/><rect x="84.9" y="79.9" width="17.4" height="0.6" fill="#fff6f0" opacity="0.24"/><rect x="74.8" y="79.9" width="3.6" height="0.6" fill="#fff6f0" opacity="0.28"/><rect x="113.8" y="80.5" width="2.0" height="1.0" fill="#d45a48" opacity="0.12"/><rect x="99.6" y="81.5" width="4.6" height="0.8" fill="#d45a48" opacity="0.17"/><rect x="109.0" y="81.5" width="3.7" height="0.8" fill="#fff6f0" opacity="0.30"/><rect x="65.6" y="81.5" width="10.3" height="0.8" fill="#fff6f0" opacity="0.13"/><rect x="80.1" y="82.3" width="8.0" height="1.0" fill="#fff6f0" opacity="0.15"/><rect x="78.3" y="82.3" width="12.6" height="1.0" fill="#fff6f0" opacity="0.21"/><rect x="77.3" y="83.3" width="11.9" height="0.6" fill="#d45a48" opacity="0.04"/><rect x="79.0" y="83.3" width="8.8" height="0.6" fill="#d45a48" opacity="0.19"/><rect x="103.7" y="83.3" width="12.1" height="0.6" fill="#d45a48" opacity="0.04"/><rect x="94.0" y="83.9" width="14.0" height="0.8" fill="#d45a48" opacity="0.16"/><rect x="72.8" y="83.9" width="2.7" height="0.8" fill="#d45a48" opacity="0.12"/><rect x="105.6" y="83.9" width="6.1" height="0.8" fill="#d45a48" opacity="0.18"/><rect x="98.1" y="85.3" width="7.3" height="1.2" fill="#d45a48" opacity="0.18"/><rect x="98.7" y="85.3" width="2.3" height="1.2" fill="#d45a48" opacity="0.10"/><rect x="71.4" y="85.3" width="4.9" height="1.2" fill="#d45a48" opacity="0.07"/><rect x="75.9" y="86.5" width="8.7" height="1.0" fill="#d45a48" opacity="0.12"/><rect x="86.9" y="86.5" width="7.6" height="1.0" fill="#d45a48" opacity="0.09"/><rect x="90.8" y="86.5" width="12.1" height="1.0" fill="#d45a48" opacity="0.05"/><rect x="65.6" y="86.5" width="3.0" height="1.0" fill="#d45a48" opacity="0.14"/><rect x="68.1" y="86.5" width="8.4" height="1.0" fill="#d45a48" opacity="0.10"/><rect x="109.7" y="87.5" width="6.1" height="0.8" fill="#d45a48" opacity="0.14"/><rect x="89.3" y="87.5" width="13.9" height="0.8" fill="#d45a48" opacity="0.09"/><rect x="79.7" y="87.5" width="8.5" height="0.8" fill="#d45a48" opacity="0.13"/><rect x="65.6" y="87.5" width="5.3" height="0.8" fill="#d45a48" opacity="0.15"/><rect x="84.3" y="87.5" width="5.8" height="0.8" fill="#fff6f0" opacity="0.19"/><rect x="107.2" y="87.5" width="8.6" height="0.8" fill="#fff6f0" opacity="0.17"/><rect x="83.6" y="88.3" width="3.0" height="1.0" fill="#d45a48" opacity="0.14"/><rect x="72.5" y="88.3" width="9.8" height="1.0" fill="#d45a48" opacity="0.13"/><rect x="96.7" y="88.3" width="12.5" height="1.0" fill="#d45a48" opacity="0.09"/><rect x="100.7" y="88.3" width="6.1" height="1.0" fill="#fff6f0" opacity="0.13"/><rect x="94.4" y="89.3" width="5.7" height="0.6" fill="#d45a48" opacity="0.09"/><rect x="112.5" y="89.3" width="3.3" height="0.6" fill="#d45a48" opacity="0.12"/><rect x="84.8" y="89.3" width="13.2" height="0.6" fill="#d45a48" opacity="0.12"/><rect x="108.4" y="89.3" width="7.4" height="0.6" fill="#d45a48" opacity="0.06"/><rect x="102.3" y="89.3" width="9.4" height="0.6" fill="#fff6f0" opacity="0.25"/><rect x="76.6" y="90.5" width="11.9" height="1.0" fill="#fff6f0" opacity="0.20"/><rect x="65.6" y="90.5" width="2.6" height="1.0" fill="#fff6f0" opacity="0.33"/><rect x="103.6" y="91.5" width="5.7" height="0.8" fill="#d45a48" opacity="0.09"/><rect x="73.4" y="91.5" width="3.5" height="0.8" fill="#d45a48" opacity="0.10"/><rect x="82.0" y="91.5" width="4.8" height="0.8" fill="#d45a48" opacity="0.16"/><rect x="100.8" y="91.5" width="13.6" height="0.8" fill="#d45a48" opacity="0.14"/><rect x="94.0" y="91.5" width="5.3" height="0.8" fill="#d45a48" opacity="0.16"/><rect x="95.6" y="91.5" width="16.0" height="0.8" fill="#fff6f0" opacity="0.19"/><rect x="112.9" y="92.3" width="2.9" height="1.2" fill="#d45a48" opacity="0.07"/><rect x="77.8" y="92.3" width="13.2" height="1.2" fill="#d45a48" opacity="0.13"/><rect x="95.1" y="92.3" width="3.7" height="1.2" fill="#fff6f0" opacity="0.32"/><rect x="101.0" y="93.5" width="12.8" height="1.2" fill="#d45a48" opacity="0.18"/><rect x="66.9" y="93.5" width="4.3" height="1.2" fill="#d45a48" opacity="0.18"/><rect x="98.0" y="93.5" width="12.8" height="1.2" fill="#d45a48" opacity="0.06"/><rect x="102.8" y="93.5" width="3.2" height="1.2" fill="#d45a48" opacity="0.17"/><rect x="65.6" y="93.5" width="10.2" height="1.2" fill="#d45a48" opacity="0.04"/><rect x="96.0" y="93.5" width="4.3" height="1.2" fill="#fff6f0" opacity="0.09"/><rect x="81.2" y="94.7" width="10.2" height="1.0" fill="#d45a48" opacity="0.11"/><rect x="65.6" y="94.7" width="0.9" height="1.0" fill="#d45a48" opacity="0.12"/><rect x="92.0" y="94.7" width="15.3" height="1.0" fill="#fff6f0" opacity="0.15"/><rect x="112.2" y="95.7" width="2.7" height="1.0" fill="#d45a48" opacity="0.10"/><rect x="66.3" y="96.7" width="13.0" height="0.6" fill="#d45a48" opacity="0.13"/><rect x="67.3" y="97.3" width="3.4" height="1.2" fill="#d45a48" opacity="0.11"/><rect x="84.0" y="97.3" width="2.5" height="1.2" fill="#d45a48" opacity="0.17"/><rect x="67.2" y="97.3" width="14.1" height="1.2" fill="#fff6f0" opacity="0.22"/><rect x="84.7" y="98.5" width="13.5" height="1.2" fill="#d45a48" opacity="0.12"/><rect x="97.3" y="99.7" width="9.7" height="1.2" fill="#d45a48" opacity="0.08"/><rect x="82.5" y="99.7" width="13.4" height="1.2" fill="#d45a48" opacity="0.06"/><rect x="113.3" y="99.7" width="2.5" height="1.2" fill="#d45a48" opacity="0.08"/><rect x="94.5" y="99.7" width="10.4" height="1.2" fill="#d45a48" opacity="0.11"/><rect x="105.8" y="99.7" width="7.4" height="1.2" fill="#fff6f0" opacity="0.14"/><rect x="87.3" y="99.7" width="3.7" height="1.2" fill="#fff6f0" opacity="0.23"/><rect x="93.4" y="100.9" width="3.0" height="0.8" fill="#d45a48" opacity="0.05"/><rect x="89.2" y="100.9" width="11.3" height="0.8" fill="#d45a48" opacity="0.07"/><rect x="112.7" y="100.9" width="3.1" height="0.8" fill="#d45a48" opacity="0.05"/><rect x="101.6" y="101.7" width="9.0" height="0.8" fill="#d45a48" opacity="0.15"/><rect x="72.4" y="101.7" width="8.8" height="0.8" fill="#d45a48" opacity="0.14"/><rect x="69.8" y="101.7" width="12.7" height="0.8" fill="#d45a48" opacity="0.04"/><rect x="102.9" y="103.5" width="12.9" height="1.2" fill="#d45a48" opacity="0.08"/><rect x="86.6" y="103.5" width="9.7" height="1.2" fill="#fff6f0" opacity="0.21"/><rect x="102.0" y="103.5" width="9.1" height="1.2" fill="#fff6f0" opacity="0.28"/><rect x="77.0" y="104.7" width="5.5" height="1.0" fill="#d45a48" opacity="0.08"/><rect x="90.6" y="104.7" width="6.2" height="1.0" fill="#d45a48" opacity="0.12"/><rect x="112.3" y="104.7" width="3.5" height="1.0" fill="#d45a48" opacity="0.04"/><rect x="91.1" y="104.7" width="13.8" height="1.0" fill="#fff6f0" opacity="0.11"/><rect x="68.6" y="105.7" width="7.4" height="1.0" fill="#d45a48" opacity="0.12"/><rect x="83.7" y="105.7" width="6.1" height="1.0" fill="#fff6f0" opacity="0.34"/><rect x="95.4" y="106.7" width="12.6" height="0.8" fill="#d45a48" opacity="0.11"/><rect x="93.3" y="106.7" width="9.7" height="0.8" fill="#d45a48" opacity="0.08"/><rect x="65.6" y="108.9" width="4.8" height="1.0" fill="#d45a48" opacity="0.13"/><rect x="75.2" y="108.9" width="8.0" height="1.0" fill="#d45a48" opacity="0.16"/><rect x="87.2" y="110.9" width="5.0" height="1.0" fill="#d45a48" opacity="0.11"/><rect x="99.0" y="110.9" width="9.3" height="1.0" fill="#d45a48" opacity="0.12"/><rect x="99.5" y="110.9" width="9.0" height="1.0" fill="#d45a48" opacity="0.08"/><rect x="90.6" y="110.9" width="4.0" height="1.0" fill="#d45a48" opacity="0.08"/><rect x="96.0" y="110.9" width="16.1" height="1.0" fill="#fff6f0" opacity="0.24"/><rect x="112.1" y="111.9" width="3.7" height="0.6" fill="#d45a48" opacity="0.14"/><rect x="95.8" y="111.9" width="7.9" height="0.6" fill="#d45a48" opacity="0.08"/><rect x="97.2" y="111.9" width="8.7" height="0.6" fill="#fff6f0" opacity="0.25"/><rect x="77.3" y="112.5" width="2.6" height="0.8" fill="#d45a48" opacity="0.08"/><rect x="86.9" y="112.5" width="4.6" height="0.8" fill="#d45a48" opacity="0.05"/><rect x="105.0" y="113.3" width="5.1" height="1.0" fill="#d45a48" opacity="0.14"/><rect x="84.6" y="113.3" width="12.3" height="1.0" fill="#d45a48" opacity="0.12"/><rect x="81.3" y="113.3" width="13.3" height="1.0" fill="#fff6f0" opacity="0.19"/><rect x="109.5" y="114.3" width="3.5" height="1.0" fill="#d45a48" opacity="0.14"/><rect x="75.5" y="114.3" width="4.5" height="1.0" fill="#d45a48" opacity="0.10"/><rect x="104.3" y="114.3" width="6.3" height="1.0" fill="#d45a48" opacity="0.14"/><rect x="78.5" y="114.3" width="11.3" height="1.0" fill="#d45a48" opacity="0.09"/><rect x="65.6" y="114.3" width="1.0" height="1.0" fill="#fff6f0" opacity="0.30"/><rect x="93.0" y="115.3" width="3.5" height="1.0" fill="#d45a48" opacity="0.15"/><rect x="89.9" y="116.3" width="5.0" height="1.2" fill="#d45a48" opacity="0.09"/><rect x="94.0" y="116.3" width="12.9" height="1.2" fill="#d45a48" opacity="0.14"/><rect x="77.6" y="116.3" width="16.6" height="1.2" fill="#fff6f0" opacity="0.10"/><rect x="89.8" y="116.3" width="7.2" height="1.2" fill="#fff6f0" opacity="0.17"/><rect x="107.0" y="117.5" width="7.0" height="1.0" fill="#fff6f0" opacity="0.10"/><rect x="76.9" y="118.5" width="12.7" height="1.0" fill="#d45a48" opacity="0.14"/><rect x="66.5" y="118.5" width="11.2" height="1.0" fill="#d45a48" opacity="0.05"/><rect x="91.8" y="118.5" width="9.1" height="1.0" fill="#d45a48" opacity="0.13"/><rect x="85.0" y="118.5" width="9.9" height="1.0" fill="#d45a48" opacity="0.07"/><rect x="85.3" y="118.5" width="16.8" height="1.0" fill="#fff6f0" opacity="0.14"/><rect x="68.6" y="119.5" width="10.7" height="1.0" fill="#d45a48" opacity="0.08"/><rect x="68.9" y="119.5" width="11.5" height="1.0" fill="#d45a48" opacity="0.05"/><rect x="65.6" y="119.5" width="10.2" height="1.0" fill="#d45a48" opacity="0.06"/><rect x="88.5" y="119.5" width="13.4" height="1.0" fill="#fff6f0" opacity="0.25"/><rect x="112.6" y="120.5" width="3.2" height="1.2" fill="#d45a48" opacity="0.03"/><rect x="103.4" y="120.5" width="10.7" height="1.2" fill="#d45a48" opacity="0.05"/><rect x="77.3" y="120.5" width="10.5" height="1.2" fill="#d45a48" opacity="0.14"/><rect x="65.6" y="120.5" width="4.5" height="1.2" fill="#d45a48" opacity="0.06"/><rect x="88.0" y="120.5" width="3.7" height="1.2" fill="#d45a48" opacity="0.02"/><rect x="83.8" y="120.5" width="10.9" height="1.2" fill="#fff6f0" opacity="0.30"/><rect x="65.6" y="121.7" width="9.0" height="1.0" fill="#d45a48" opacity="0.09"/><rect x="74.6" y="121.7" width="5.9" height="1.0" fill="#d45a48" opacity="0.05"/><rect x="94.1" y="121.7" width="8.4" height="1.0" fill="#fff6f0" opacity="0.29"/><rect x="95.5" y="121.7" width="10.2" height="1.0" fill="#fff6f0" opacity="0.24"/><rect x="90.3" y="122.7" width="7.9" height="1.0" fill="#d45a48" opacity="0.03"/><rect x="87.4" y="122.7" width="12.7" height="1.0" fill="#fff6f0" opacity="0.35"/><rect x="71.6" y="122.7" width="8.3" height="1.0" fill="#fff6f0" opacity="0.25"/><rect x="74.7" y="125.7" width="3.3" height="1.0" fill="#d45a48" opacity="0.11"/><rect x="76.6" y="125.7" width="6.0" height="1.0" fill="#d45a48" opacity="0.13"/><rect x="101.1" y="126.7" width="7.4" height="1.0" fill="#d45a48" opacity="0.08"/><rect x="112.6" y="126.7" width="3.2" height="1.0" fill="#d45a48" opacity="0.10"/><rect x="73.1" y="126.7" width="5.5" height="1.0" fill="#d45a48" opacity="0.02"/><rect x="73.8" y="126.7" width="11.7" height="1.0" fill="#d45a48" opacity="0.07"/><rect x="89.9" y="126.7" width="3.4" height="1.0" fill="#d45a48" opacity="0.08"/><rect x="74.8" y="127.7" width="4.6" height="1.2" fill="#d45a48" opacity="0.04"/><rect x="83.3" y="128.9" width="6.8" height="1.2" fill="#d45a48" opacity="0.04"/><rect x="73.7" y="128.9" width="4.9" height="1.2" fill="#d45a48" opacity="0.09"/><rect x="99.4" y="128.9" width="4.2" height="1.2" fill="#d45a48" opacity="0.03"/><rect x="96.5" y="128.9" width="8.0" height="1.2" fill="#d45a48" opacity="0.05"/><rect x="86.1" y="128.9" width="9.0" height="1.2" fill="#d45a48" opacity="0.03"/><rect x="81.9" y="128.9" width="12.8" height="1.2" fill="#fff6f0" opacity="0.32"/><rect x="79.8" y="128.9" width="10.2" height="1.2" fill="#fff6f0" opacity="0.11"/><rect x="82.5" y="130.1" width="10.9" height="0.6" fill="#d45a48" opacity="0.11"/><rect x="82.1" y="130.1" width="9.5" height="0.6" fill="#fff6f0" opacity="0.28"/><rect x="109.2" y="130.7" width="6.4" height="0.6" fill="#d45a48" opacity="0.11"/><rect x="112.8" y="131.3" width="3.0" height="0.8" fill="#d45a48" opacity="0.10"/><rect x="83.9" y="131.3" width="11.9" height="0.8" fill="#d45a48" opacity="0.07"/><rect x="101.0" y="131.3" width="3.7" height="0.8" fill="#d45a48" opacity="0.05"/><rect x="92.8" y="131.3" width="3.4" height="0.8" fill="#d45a48" opacity="0.03"/><rect x="107.5" y="131.3" width="8.3" height="0.8" fill="#fff6f0" opacity="0.28"/><rect x="88.0" y="131.3" width="13.2" height="0.8" fill="#fff6f0" opacity="0.11"/><rect x="65.6" y="133.1" width="2.4" height="1.2" fill="#d45a48" opacity="0.04"/><rect x="77.5" y="133.1" width="9.8" height="1.2" fill="#d45a48" opacity="0.12"/><rect x="71.1" y="133.1" width="2.4" height="1.2" fill="#d45a48" opacity="0.09"/><rect x="67.9" y="133.1" width="9.0" height="1.2" fill="#d45a48" opacity="0.12"/><rect x="98.3" y="134.3" width="2.8" height="1.2" fill="#d45a48" opacity="0.10"/><rect x="69.7" y="135.5" width="7.1" height="1.2" fill="#d45a48" opacity="0.06"/><rect x="70.9" y="135.5" width="3.7" height="1.2" fill="#d45a48" opacity="0.09"/><rect x="77.0" y="135.5" width="4.3" height="1.2" fill="#d45a48" opacity="0.04"/><rect x="98.0" y="135.5" width="11.2" height="1.2" fill="#d45a48" opacity="0.05"/><rect x="83.3" y="136.7" width="10.8" height="1.0" fill="#d45a48" opacity="0.03"/><rect x="73.7" y="136.7" width="14.0" height="1.0" fill="#d45a48" opacity="0.04"/><rect x="86.0" y="136.7" width="6.6" height="1.0" fill="#d45a48" opacity="0.10"/><rect x="88.5" y="137.7" width="4.0" height="1.0" fill="#fff6f0" opacity="0.30"/><rect x="110.1" y="138.7" width="5.7" height="1.2" fill="#d45a48" opacity="0.05"/><rect x="99.4" y="138.7" width="8.1" height="1.2" fill="#d45a48" opacity="0.08"/><rect x="65.6" y="138.7" width="10.8" height="1.2" fill="#fff6f0" opacity="0.14"/><rect x="76.5" y="139.9" width="12.0" height="0.8" fill="#d45a48" opacity="0.05"/><rect x="110.2" y="139.9" width="5.6" height="0.8" fill="#d45a48" opacity="0.04"/><rect x="110.3" y="139.9" width="5.5" height="0.8" fill="#d45a48" opacity="0.03"/><rect x="67.6" y="139.9" width="2.9" height="0.8" fill="#d45a48" opacity="0.04"/><rect x="113.4" y="140.7" width="2.4" height="1.2" fill="#d45a48" opacity="0.03"/><rect x="104.2" y="140.7" width="11.4" height="1.2" fill="#d45a48" opacity="0.06"/><rect x="87.2" y="140.7" width="11.7" height="1.2" fill="#d45a48" opacity="0.10"/><rect x="70.9" y="140.7" width="4.4" height="1.2" fill="#d45a48" opacity="0.03"/><rect x="76.8" y="140.7" width="9.0" height="1.2" fill="#fff6f0" opacity="0.31"/><rect x="109.9" y="141.9" width="5.4" height="1.0" fill="#fff6f0" opacity="0.22"/><rect x="112.1" y="142.9" width="3.7" height="0.6" fill="#d45a48" opacity="0.11"/><rect x="103.0" y="142.9" width="7.1" height="0.6" fill="#d45a48" opacity="0.06"/><rect x="68.4" y="142.9" width="6.0" height="0.6" fill="#d45a48" opacity="0.04"/><rect x="72.6" y="142.9" width="5.7" height="0.6" fill="#d45a48" opacity="0.09"/><rect x="65.6" y="142.9" width="12.3" height="0.6" fill="#d45a48" opacity="0.02"/><rect x="99.0" y="142.9" width="13.1" height="0.6" fill="#fff6f0" opacity="0.30"/><rect x="73.8" y="143.5" width="7.6" height="1.0" fill="#fff6f0" opacity="0.19"/><rect x="80.7" y="144.5" width="10.7" height="1.2" fill="#d45a48" opacity="0.11"/><rect x="69.0" y="144.5" width="5.7" height="1.2" fill="#d45a48" opacity="0.07"/><rect x="77.7" y="144.5" width="10.5" height="1.2" fill="#fff6f0" opacity="0.30"/><rect x="67.6" y="145.7" width="3.7" height="1.0" fill="#d45a48" opacity="0.10"/><rect x="109.0" y="145.7" width="4.0" height="1.0" fill="#d45a48" opacity="0.07"/><rect x="70.3" y="146.7" width="6.9" height="0.8" fill="#d45a48" opacity="0.06"/><rect x="97.2" y="146.7" width="2.8" height="0.8" fill="#d45a48" opacity="0.10"/><rect x="105.5" y="146.7" width="10.3" height="0.8" fill="#fff6f0" opacity="0.15"/><rect x="74.9" y="146.7" width="11.4" height="0.8" fill="#fff6f0" opacity="0.21"/><rect x="73.5" y="147.5" width="5.7" height="1.0" fill="#d45a48" opacity="0.04"/><rect x="105.5" y="147.5" width="2.1" height="1.0" fill="#d45a48" opacity="0.05"/><rect x="74.0" y="147.5" width="6.7" height="1.0" fill="#d45a48" opacity="0.04"/><rect x="101.8" y="147.5" width="14.0" height="1.0" fill="#d45a48" opacity="0.07"/><rect x="81.8" y="148.5" width="4.2" height="1.2" fill="#d45a48" opacity="0.02"/><rect x="107.5" y="149.7" width="2.2" height="0.8" fill="#d45a48" opacity="0.11"/><rect x="87.4" y="149.7" width="9.8" height="0.8" fill="#d45a48" opacity="0.10"/><rect x="103.0" y="149.7" width="8.7" height="0.8" fill="#fff6f0" opacity="0.19"/><rect x="95.6" y="149.7" width="10.3" height="0.8" fill="#fff6f0" opacity="0.35"/><rect x="95.4" y="150.5" width="3.1" height="1.0" fill="#d45a48" opacity="0.06"/><rect x="112.2" y="150.5" width="3.6" height="1.0" fill="#d45a48" opacity="0.03"/><rect x="80.0" y="150.5" width="15.1" height="1.0" fill="#fff6f0" opacity="0.33"/><rect x="80.8" y="151.5" width="8.3" height="0.8" fill="#d45a48" opacity="0.02"/><rect x="80.4" y="151.5" width="2.5" height="0.8" fill="#d45a48" opacity="0.04"/><rect x="65.6" y="151.5" width="5.3" height="0.8" fill="#d45a48" opacity="0.07"/><rect x="109.4" y="151.5" width="3.8" height="0.8" fill="#d45a48" opacity="0.02"/><rect x="86.9" y="151.5" width="10.8" height="0.8" fill="#d45a48" opacity="0.03"/><rect x="93.7" y="151.5" width="7.4" height="0.8" fill="#fff6f0" opacity="0.31"/><rect x="109.4" y="152.3" width="6.4" height="0.6" fill="#fff6f0" opacity="0.35"/><rect x="65.6" y="152.9" width="11.6" height="0.6" fill="#d45a48" opacity="0.06"/><rect x="66.4" y="152.9" width="10.6" height="0.6" fill="#d45a48" opacity="0.05"/></g>
<polygon points="83.34,44.50 83.42,45.71 83.78,46.91 83.96,48.12 84.10,49.33 84.11,50.53 84.19,51.74 84.33,52.95 84.15,54.15 84.47,55.36 84.09,56.57 84.51,57.77 84.79,58.98 84.56,60.18 84.73,61.39 84.45,62.60 84.84,63.80 84.55,65.01 85.06,66.22 84.78,67.42 84.79,68.63 84.96,69.84 85.53,71.04 84.92,72.25 85.20,73.46 85.49,74.66 85.47,75.87 85.39,77.08 85.43,78.28 85.89,79.49 85.33,80.70 85.66,81.90 85.98,83.11 86.13,84.32 86.11,85.52 85.93,86.73 86.00,87.93 85.45,89.14 86.07,90.35 85.87,91.55 86.11,92.76 85.87,93.97 85.70,95.17 86.25,96.38 85.97,97.59 86.36,98.79 85.85,100.00 86.20,101.21 86.18,102.41 86.28,103.62 86.42,104.83 86.05,106.03 85.92,107.24 86.12,108.45 85.97,109.65 86.33,110.86 86.42,112.07 86.48,113.27 86.15,114.48 86.49,115.68 86.23,116.89 86.58,118.10 86.30,119.30 86.24,120.51 86.57,121.72 86.49,122.92 86.35,124.13 86.24,125.34 86.24,126.54 86.51,127.75 86.48,128.96 86.52,130.16 86.22,131.37 86.47,132.58 86.73,133.78 86.58,134.99 86.79,136.20 86.40,137.40 86.84,138.61 86.46,139.82 86.50,141.02 86.86,142.23 86.64,143.43 86.57,144.64 86.47,145.85 86.11,147.05 86.22,148.26 86.67,149.47 86.36,150.67 86.51,151.88 86.81,153.09 86.70,154.29 86.63,155.50 93.95,155.50 94.27,154.29 94.07,153.09 93.87,151.88 94.35,150.67 93.93,149.47 94.47,148.26 94.33,147.05 94.03,145.85 94.54,144.64 94.37,143.43 94.36,142.23 94.00,141.02 94.47,139.82 94.40,138.61 94.48,137.40 94.49,136.20 94.51,134.99 94.17,133.78 94.29,132.58 94.45,131.37 94.66,130.16 94.77,128.96 94.28,127.75 94.69,126.54 94.31,125.34 94.33,124.13 94.58,122.92 94.33,121.72 94.21,120.51 94.48,119.30 94.59,118.10 94.58,116.89 94.68,115.68 94.80,114.48 94.24,113.27 94.43,112.07 94.59,110.86 94.40,109.65 94.65,108.45 94.61,107.24 94.74,106.03 94.42,104.83 94.49,103.62 94.91,102.41 94.29,101.21 94.94,100.00 94.59,98.79 94.34,97.59 94.62,96.38 94.62,95.17 94.89,93.97 94.54,92.76 94.48,91.55 94.79,90.35 94.98,89.14 94.95,87.93 95.33,86.73 95.06,85.52 95.09,84.32 95.30,83.11 95.61,81.90 94.99,80.70 95.39,79.49 95.22,78.28 95.07,77.08 95.41,75.87 95.19,74.66 95.16,73.46 95.62,72.25 95.64,71.04 95.53,69.84 95.81,68.63 95.72,67.42 95.46,66.22 95.87,65.01 95.64,63.80 95.89,62.60 96.44,61.39 95.79,60.18 96.38,58.98 96.04,57.77 96.24,56.57 96.55,55.36 96.27,54.15 96.84,52.95 96.97,51.74 96.68,50.53 96.72,49.33 97.19,48.12 97.48,46.91 97.08,45.71 97.60,44.50" fill="#f06a4e" opacity="0.55" filter="url(#bl2)"/>
<polygon points="88.82,44.50 88.23,45.71 88.34,46.91 88.35,48.12 88.52,49.33 88.43,50.53 88.13,51.74 88.80,52.95 88.58,54.15 88.55,55.36 88.40,56.57 88.98,57.77 88.68,58.98 89.17,60.18 88.85,61.39 88.94,62.60 89.09,63.80 88.47,65.01 88.75,66.22 89.14,67.42 89.11,68.63 89.25,69.84 89.25,71.04 88.98,72.25 88.91,73.46 88.73,74.66 89.02,75.87 89.07,77.08 88.83,78.28 88.97,79.49 88.92,80.70 88.95,81.90 88.93,83.11 88.87,84.32 88.72,85.52 88.72,86.73 89.46,87.93 88.77,89.14 88.97,90.35 88.77,91.55 89.08,92.76 89.10,93.97 88.87,95.17 89.49,96.38 88.97,97.59 88.83,98.79 89.26,100.00 88.94,101.21 89.51,102.41 88.96,103.62 88.87,104.83 88.82,106.03 89.56,107.24 89.29,108.45 89.12,109.65 89.53,110.86 89.39,112.07 89.20,113.27 89.46,114.48 88.93,115.68 88.91,116.89 88.66,118.10 89.31,119.30 88.94,120.51 88.88,121.72 89.37,122.92 89.28,124.13 89.38,125.34 89.22,126.54 88.98,127.75 89.16,128.96 89.13,130.16 89.27,131.37 89.35,132.58 89.58,133.78 89.22,134.99 89.35,136.20 89.05,137.40 88.74,138.61 89.10,139.82 89.16,141.02 88.82,142.23 89.38,143.43 89.13,144.64 89.32,145.85 89.01,147.05 88.79,148.26 89.25,149.47 89.47,150.67 89.07,151.88 89.19,153.09 89.15,154.29 89.20,155.50 92.66,155.50 92.90,154.29 92.79,153.09 92.70,151.88 92.53,150.67 92.64,149.47 92.98,148.26 92.94,147.05 92.89,145.85 92.80,144.64 92.77,143.43 92.98,142.23 92.69,141.02 93.21,139.82 92.92,138.61 93.29,137.40 92.60,136.20 92.85,134.99 92.85,133.78 92.51,132.58 92.77,131.37 92.54,130.16 93.03,128.96 92.94,127.75 93.26,126.54 93.06,125.34 93.10,124.13 92.56,122.92 92.73,121.72 92.85,120.51 92.76,119.30 92.96,118.10 92.84,116.89 93.20,115.68 92.74,114.48 92.60,113.27 92.88,112.07 92.86,110.86 92.77,109.65 93.01,108.45 92.87,107.24 92.70,106.03 93.04,104.83 92.97,103.62 92.90,102.41 93.25,101.21 92.80,100.00 92.75,98.79 93.47,97.59 92.98,96.38 92.87,95.17 93.08,93.97 92.63,92.76 93.19,91.55 93.33,90.35 92.74,89.14 92.89,87.93 93.23,86.73 93.16,85.52 93.02,84.32 93.26,83.11 93.54,81.90 93.57,80.70 93.47,79.49 93.15,78.28 93.14,77.08 92.67,75.87 93.28,74.66 92.87,73.46 92.73,72.25 93.04,71.04 93.03,69.84 93.13,68.63 93.31,67.42 93.08,66.22 93.31,65.01 93.04,63.80 93.43,62.60 93.25,61.39 93.17,60.18 93.00,58.98 93.12,57.77 93.40,56.57 93.15,55.36 93.18,54.15 93.69,52.95 93.48,51.74 93.17,50.53 93.76,49.33 93.77,48.12 93.76,46.91 93.49,45.71 93.53,44.50" fill="#da1c10" opacity="1.0" filter="url(#bl1)"/>
</svg>
<rect x="65.60" y="46.50" width="50.20" height="107.00" fill="none" stroke="#828282" stroke-width="1.2"/>
<svg x="117.2" y="46.5" width="50.2" height="107" viewBox="117.2 46.5 50.2 107" overflow="hidden">
<rect x="117.20" y="46.50" width="50.20" height="107.00" fill="#fbe5de" />
<g filter="url(#bl3)"><rect x="117.2" y="46.5" width="8.1" height="1.0" fill="#e8907a" opacity="0.07"/><rect x="120.9" y="46.5" width="13.2" height="1.0" fill="#e8907a" opacity="0.06"/><rect x="140.9" y="47.5" width="9.7" height="0.8" fill="#e8907a" opacity="0.04"/><rect x="118.8" y="47.5" width="5.5" height="0.8" fill="#e8907a" opacity="0.03"/><rect x="153.9" y="47.5" width="3.9" height="0.8" fill="#e8907a" opacity="0.09"/><rect x="130.9" y="48.3" width="9.0" height="0.6" fill="#e8907a" opacity="0.09"/><rect x="145.1" y="48.9" width="3.9" height="0.6" fill="#e8907a" opacity="0.10"/><rect x="119.3" y="48.9" width="9.9" height="0.6" fill="#e8907a" opacity="0.13"/><rect x="162.5" y="49.5" width="4.9" height="1.2" fill="#e8907a" opacity="0.11"/><rect x="117.2" y="49.5" width="2.4" height="1.2" fill="#e8907a" opacity="0.06"/><rect x="139.0" y="50.7" width="4.3" height="0.8" fill="#e8907a" opacity="0.07"/><rect x="162.3" y="50.7" width="4.9" height="0.8" fill="#e8907a" opacity="0.14"/><rect x="145.5" y="50.7" width="8.5" height="0.8" fill="#e8907a" opacity="0.06"/><rect x="117.2" y="52.5" width="5.3" height="0.6" fill="#e8907a" opacity="0.11"/><rect x="128.2" y="52.5" width="4.1" height="0.6" fill="#e8907a" opacity="0.16"/><rect x="130.0" y="52.5" width="13.9" height="0.6" fill="#e8907a" opacity="0.10"/><rect x="117.2" y="54.1" width="3.3" height="1.0" fill="#e8907a" opacity="0.16"/><rect x="126.5" y="54.1" width="6.4" height="1.0" fill="#e8907a" opacity="0.09"/><rect x="154.7" y="55.1" width="11.5" height="0.6" fill="#e8907a" opacity="0.06"/><rect x="139.7" y="55.7" width="8.4" height="0.6" fill="#e8907a" opacity="0.03"/><rect x="117.2" y="55.7" width="10.1" height="0.6" fill="#e8907a" opacity="0.11"/><rect x="117.2" y="55.7" width="3.2" height="0.6" fill="#e8907a" opacity="0.13"/><rect x="143.5" y="56.3" width="10.8" height="1.0" fill="#e8907a" opacity="0.10"/><rect x="121.1" y="58.1" width="6.6" height="0.8" fill="#e8907a" opacity="0.03"/><rect x="162.7" y="58.1" width="4.7" height="0.8" fill="#e8907a" opacity="0.11"/><rect x="147.4" y="58.9" width="13.6" height="1.0" fill="#e8907a" opacity="0.11"/><rect x="164.1" y="58.9" width="3.3" height="1.0" fill="#e8907a" opacity="0.15"/><rect x="137.3" y="61.1" width="11.5" height="1.2" fill="#e8907a" opacity="0.13"/><rect x="156.8" y="61.1" width="5.3" height="1.2" fill="#e8907a" opacity="0.03"/><rect x="137.1" y="62.3" width="5.4" height="1.0" fill="#e8907a" opacity="0.07"/><rect x="157.6" y="62.3" width="9.8" height="1.0" fill="#e8907a" opacity="0.12"/><rect x="163.2" y="64.5" width="4.2" height="0.6" fill="#e8907a" opacity="0.10"/><rect x="133.0" y="64.5" width="3.1" height="0.6" fill="#e8907a" opacity="0.03"/><rect x="153.1" y="64.5" width="13.2" height="0.6" fill="#e8907a" opacity="0.04"/><rect x="159.2" y="65.1" width="3.8" height="0.8" fill="#e8907a" opacity="0.13"/><rect x="152.8" y="65.9" width="5.1" height="0.6" fill="#e8907a" opacity="0.07"/><rect x="139.9" y="65.9" width="5.1" height="0.6" fill="#e8907a" opacity="0.15"/><rect x="148.4" y="66.5" width="2.7" height="1.0" fill="#e8907a" opacity="0.04"/><rect x="123.3" y="67.5" width="4.3" height="1.2" fill="#e8907a" opacity="0.04"/><rect x="117.8" y="68.7" width="12.9" height="0.8" fill="#e8907a" opacity="0.06"/><rect x="149.7" y="68.7" width="3.0" height="0.8" fill="#e8907a" opacity="0.11"/><rect x="127.6" y="69.5" width="7.0" height="1.0" fill="#e8907a" opacity="0.13"/><rect x="149.3" y="69.5" width="9.9" height="1.0" fill="#e8907a" opacity="0.03"/><rect x="127.9" y="70.5" width="7.4" height="0.6" fill="#e8907a" opacity="0.14"/><rect x="158.5" y="70.5" width="8.9" height="0.6" fill="#e8907a" opacity="0.02"/><rect x="161.7" y="71.1" width="3.7" height="0.8" fill="#e8907a" opacity="0.11"/><rect x="158.3" y="71.1" width="4.7" height="0.8" fill="#e8907a" opacity="0.08"/><rect x="123.6" y="73.1" width="13.0" height="1.0" fill="#e8907a" opacity="0.15"/><rect x="144.4" y="74.1" width="6.2" height="1.0" fill="#e8907a" opacity="0.04"/><rect x="142.8" y="74.1" width="10.8" height="1.0" fill="#e8907a" opacity="0.10"/><rect x="118.2" y="74.1" width="3.3" height="1.0" fill="#e8907a" opacity="0.06"/><rect x="147.7" y="75.1" width="5.4" height="1.0" fill="#e8907a" opacity="0.09"/><rect x="133.2" y="75.1" width="13.7" height="1.0" fill="#e8907a" opacity="0.10"/><rect x="134.0" y="76.1" width="12.2" height="1.0" fill="#e8907a" opacity="0.04"/><rect x="139.1" y="76.1" width="7.4" height="1.0" fill="#e8907a" opacity="0.05"/><rect x="135.9" y="76.1" width="2.5" height="1.0" fill="#e8907a" opacity="0.04"/><rect x="117.2" y="77.1" width="5.3" height="1.0" fill="#e8907a" opacity="0.10"/><rect x="147.4" y="78.1" width="12.6" height="0.6" fill="#e8907a" opacity="0.14"/><rect x="130.5" y="80.5" width="3.4" height="0.8" fill="#e8907a" opacity="0.04"/><rect x="118.6" y="80.5" width="11.1" height="0.8" fill="#e8907a" opacity="0.15"/><rect x="150.7" y="81.3" width="7.6" height="1.0" fill="#e8907a" opacity="0.07"/><rect x="118.3" y="82.3" width="6.1" height="1.0" fill="#e8907a" opacity="0.14"/><rect x="155.4" y="83.3" width="6.0" height="0.8" fill="#e8907a" opacity="0.10"/><rect x="124.1" y="83.3" width="2.8" height="0.8" fill="#e8907a" opacity="0.05"/><rect x="152.0" y="83.3" width="11.5" height="0.8" fill="#e8907a" opacity="0.13"/><rect x="145.4" y="84.1" width="5.0" height="0.8" fill="#e8907a" opacity="0.14"/><rect x="151.9" y="84.1" width="9.3" height="0.8" fill="#e8907a" opacity="0.06"/><rect x="162.4" y="85.7" width="5.0" height="1.0" fill="#e8907a" opacity="0.14"/><rect x="144.7" y="87.7" width="9.5" height="1.0" fill="#e8907a" opacity="0.06"/><rect x="134.5" y="87.7" width="9.2" height="1.0" fill="#e8907a" opacity="0.12"/><rect x="147.9" y="87.7" width="4.6" height="1.0" fill="#e8907a" opacity="0.07"/><rect x="129.0" y="88.7" width="11.0" height="1.0" fill="#e8907a" opacity="0.05"/><rect x="145.1" y="88.7" width="4.7" height="1.0" fill="#e8907a" opacity="0.10"/><rect x="129.5" y="89.7" width="6.6" height="0.6" fill="#e8907a" opacity="0.04"/><rect x="157.2" y="89.7" width="10.0" height="0.6" fill="#e8907a" opacity="0.04"/><rect x="147.5" y="89.7" width="10.9" height="0.6" fill="#e8907a" opacity="0.07"/><rect x="160.4" y="90.3" width="3.9" height="0.8" fill="#e8907a" opacity="0.05"/><rect x="120.6" y="91.1" width="14.0" height="1.2" fill="#e8907a" opacity="0.14"/><rect x="147.2" y="91.1" width="5.7" height="1.2" fill="#e8907a" opacity="0.10"/><rect x="162.5" y="92.3" width="2.1" height="0.6" fill="#e8907a" opacity="0.06"/><rect x="131.3" y="92.3" width="12.2" height="0.6" fill="#e8907a" opacity="0.05"/><rect x="137.2" y="92.3" width="2.8" height="0.6" fill="#e8907a" opacity="0.14"/><rect x="161.7" y="92.9" width="5.6" height="1.2" fill="#e8907a" opacity="0.10"/><rect x="163.0" y="92.9" width="4.4" height="1.2" fill="#e8907a" opacity="0.14"/><rect x="156.0" y="94.9" width="6.3" height="1.0" fill="#e8907a" opacity="0.14"/><rect x="153.6" y="95.9" width="2.0" height="1.0" fill="#e8907a" opacity="0.08"/><rect x="127.7" y="96.9" width="6.9" height="0.8" fill="#e8907a" opacity="0.12"/><rect x="123.4" y="96.9" width="5.6" height="0.8" fill="#e8907a" opacity="0.06"/><rect x="128.4" y="97.7" width="12.3" height="1.0" fill="#e8907a" opacity="0.07"/><rect x="130.2" y="97.7" width="6.7" height="1.0" fill="#e8907a" opacity="0.11"/><rect x="132.1" y="97.7" width="2.5" height="1.0" fill="#e8907a" opacity="0.09"/><rect x="117.2" y="98.7" width="5.1" height="1.0" fill="#e8907a" opacity="0.11"/><rect x="157.3" y="98.7" width="5.4" height="1.0" fill="#e8907a" opacity="0.06"/><rect x="157.9" y="99.7" width="9.5" height="1.2" fill="#e8907a" opacity="0.11"/><rect x="165.0" y="99.7" width="2.4" height="1.2" fill="#e8907a" opacity="0.14"/><rect x="164.3" y="102.1" width="3.1" height="0.6" fill="#e8907a" opacity="0.14"/><rect x="157.1" y="102.1" width="10.3" height="0.6" fill="#e8907a" opacity="0.06"/><rect x="162.4" y="102.7" width="5.0" height="1.0" fill="#e8907a" opacity="0.05"/><rect x="117.2" y="102.7" width="10.0" height="1.0" fill="#e8907a" opacity="0.11"/><rect x="160.8" y="104.7" width="6.6" height="1.0" fill="#e8907a" opacity="0.08"/><rect x="136.0" y="104.7" width="7.0" height="1.0" fill="#e8907a" opacity="0.10"/><rect x="152.8" y="105.7" width="7.7" height="1.2" fill="#e8907a" opacity="0.10"/><rect x="130.1" y="105.7" width="10.8" height="1.2" fill="#e8907a" opacity="0.07"/><rect x="125.0" y="107.7" width="5.9" height="0.6" fill="#e8907a" opacity="0.09"/><rect x="139.8" y="108.3" width="12.8" height="1.2" fill="#e8907a" opacity="0.02"/><rect x="144.0" y="108.3" width="3.5" height="1.2" fill="#e8907a" opacity="0.08"/><rect x="127.9" y="108.3" width="3.6" height="1.2" fill="#e8907a" opacity="0.07"/><rect x="126.7" y="109.5" width="11.7" height="1.0" fill="#e8907a" opacity="0.12"/><rect x="119.3" y="109.5" width="3.9" height="1.0" fill="#e8907a" opacity="0.11"/><rect x="119.5" y="111.5" width="12.3" height="0.6" fill="#e8907a" opacity="0.09"/><rect x="144.1" y="111.5" width="12.2" height="0.6" fill="#e8907a" opacity="0.10"/><rect x="145.4" y="111.5" width="11.4" height="0.6" fill="#e8907a" opacity="0.03"/><rect x="117.2" y="113.1" width="0.8" height="1.0" fill="#e8907a" opacity="0.06"/><rect x="123.0" y="116.3" width="5.6" height="1.0" fill="#e8907a" opacity="0.11"/><rect x="118.6" y="116.3" width="9.0" height="1.0" fill="#e8907a" opacity="0.14"/><rect x="155.7" y="116.3" width="3.1" height="1.0" fill="#e8907a" opacity="0.09"/><rect x="146.0" y="119.3" width="4.0" height="0.8" fill="#e8907a" opacity="0.04"/><rect x="127.0" y="119.3" width="9.6" height="0.8" fill="#e8907a" opacity="0.10"/><rect x="119.4" y="120.1" width="5.6" height="0.8" fill="#e8907a" opacity="0.11"/><rect x="123.2" y="120.1" width="6.0" height="0.8" fill="#e8907a" opacity="0.08"/><rect x="128.3" y="120.9" width="8.5" height="1.2" fill="#e8907a" opacity="0.03"/><rect x="139.1" y="120.9" width="14.0" height="1.2" fill="#e8907a" opacity="0.05"/><rect x="153.2" y="122.1" width="3.0" height="1.0" fill="#e8907a" opacity="0.10"/><rect x="145.0" y="122.1" width="7.3" height="1.0" fill="#e8907a" opacity="0.06"/><rect x="127.2" y="122.1" width="4.7" height="1.0" fill="#e8907a" opacity="0.07"/><rect x="148.9" y="123.9" width="3.8" height="0.6" fill="#e8907a" opacity="0.13"/><rect x="141.2" y="124.5" width="11.0" height="1.2" fill="#e8907a" opacity="0.04"/><rect x="156.3" y="126.3" width="5.5" height="0.8" fill="#e8907a" opacity="0.07"/><rect x="124.5" y="126.3" width="12.2" height="0.8" fill="#e8907a" opacity="0.12"/><rect x="129.6" y="126.3" width="13.0" height="0.8" fill="#e8907a" opacity="0.12"/><rect x="141.8" y="127.1" width="3.0" height="0.6" fill="#e8907a" opacity="0.09"/><rect x="130.1" y="127.1" width="7.2" height="0.6" fill="#e8907a" opacity="0.07"/><rect x="119.2" y="127.7" width="12.9" height="1.0" fill="#e8907a" opacity="0.12"/><rect x="122.5" y="127.7" width="3.4" height="1.0" fill="#e8907a" opacity="0.03"/><rect x="132.5" y="127.7" width="10.0" height="1.0" fill="#e8907a" opacity="0.09"/><rect x="138.9" y="129.7" width="7.9" height="1.0" fill="#e8907a" opacity="0.11"/><rect x="118.5" y="130.7" width="10.9" height="1.0" fill="#e8907a" opacity="0.05"/><rect x="118.1" y="130.7" width="11.2" height="1.0" fill="#e8907a" opacity="0.07"/><rect x="156.6" y="130.7" width="5.7" height="1.0" fill="#e8907a" opacity="0.12"/><rect x="119.5" y="131.7" width="9.6" height="0.8" fill="#e8907a" opacity="0.02"/><rect x="148.3" y="131.7" width="8.6" height="0.8" fill="#e8907a" opacity="0.12"/><rect x="139.0" y="132.5" width="10.1" height="0.6" fill="#e8907a" opacity="0.07"/><rect x="125.4" y="132.5" width="3.3" height="0.6" fill="#e8907a" opacity="0.11"/><rect x="162.4" y="133.1" width="5.0" height="1.0" fill="#e8907a" opacity="0.13"/><rect x="129.8" y="134.1" width="13.2" height="0.8" fill="#e8907a" opacity="0.10"/><rect x="134.5" y="134.1" width="9.1" height="0.8" fill="#e8907a" opacity="0.09"/><rect x="119.5" y="134.1" width="10.3" height="0.8" fill="#e8907a" opacity="0.07"/><rect x="124.2" y="135.7" width="11.4" height="1.0" fill="#e8907a" opacity="0.05"/><rect x="138.6" y="136.7" width="2.6" height="1.0" fill="#e8907a" opacity="0.09"/><rect x="143.2" y="139.3" width="2.7" height="1.2" fill="#e8907a" opacity="0.09"/><rect x="131.8" y="139.3" width="5.0" height="1.2" fill="#e8907a" opacity="0.02"/><rect x="136.5" y="140.5" width="9.1" height="0.6" fill="#e8907a" opacity="0.08"/><rect x="117.2" y="140.5" width="11.6" height="0.6" fill="#e8907a" opacity="0.05"/><rect x="160.4" y="142.3" width="7.0" height="1.0" fill="#e8907a" opacity="0.08"/><rect x="152.0" y="143.3" width="7.2" height="0.8" fill="#e8907a" opacity="0.12"/><rect x="140.9" y="143.3" width="3.0" height="0.8" fill="#e8907a" opacity="0.04"/><rect x="117.2" y="143.3" width="5.1" height="0.8" fill="#e8907a" opacity="0.05"/><rect x="120.6" y="144.1" width="5.4" height="0.6" fill="#e8907a" opacity="0.11"/><rect x="135.6" y="144.1" width="8.6" height="0.6" fill="#e8907a" opacity="0.11"/><rect x="158.0" y="144.1" width="3.2" height="0.6" fill="#e8907a" opacity="0.12"/><rect x="156.3" y="144.7" width="11.1" height="1.2" fill="#e8907a" opacity="0.12"/><rect x="139.3" y="144.7" width="13.1" height="1.2" fill="#e8907a" opacity="0.03"/><rect x="157.1" y="145.9" width="10.0" height="0.8" fill="#e8907a" opacity="0.08"/><rect x="134.6" y="148.1" width="10.0" height="1.0" fill="#e8907a" opacity="0.05"/><rect x="164.7" y="148.1" width="2.7" height="1.0" fill="#e8907a" opacity="0.03"/><rect x="131.8" y="149.1" width="2.0" height="1.2" fill="#e8907a" opacity="0.08"/><rect x="156.8" y="149.1" width="10.6" height="1.2" fill="#e8907a" opacity="0.08"/><rect x="120.2" y="149.1" width="6.3" height="1.2" fill="#e8907a" opacity="0.13"/><rect x="161.6" y="150.9" width="5.8" height="1.2" fill="#e8907a" opacity="0.04"/><rect x="135.9" y="152.1" width="3.7" height="0.8" fill="#e8907a" opacity="0.08"/><rect x="149.9" y="152.9" width="4.2" height="0.6" fill="#e8907a" opacity="0.09"/><rect x="137.3" y="152.9" width="12.2" height="0.6" fill="#e8907a" opacity="0.12"/></g>
<line x1="142.30" y1="46.50" x2="142.30" y2="153.50" stroke="#e4b0a3" stroke-width="0.6" />
</svg>
<rect x="117.20" y="46.50" width="50.20" height="107.00" fill="none" stroke="#828282" stroke-width="1.2"/>
<svg x="168.8" y="46.5" width="50.2" height="107" viewBox="168.8 46.5 50.2 107" overflow="hidden">
<rect x="168.80" y="46.50" width="50.20" height="107.00" fill="#f9dbd1" />
<g filter="url(#bl3)"><rect x="180.4" y="46.5" width="4.3" height="0.8" fill="#e8907a" opacity="0.10"/><rect x="177.0" y="48.3" width="6.1" height="1.0" fill="#e8907a" opacity="0.10"/><rect x="176.1" y="49.3" width="8.9" height="1.0" fill="#e8907a" opacity="0.10"/><rect x="206.2" y="49.3" width="12.8" height="1.0" fill="#e8907a" opacity="0.04"/><rect x="176.4" y="50.3" width="7.4" height="1.0" fill="#e8907a" opacity="0.07"/><rect x="197.8" y="52.3" width="6.5" height="1.0" fill="#e8907a" opacity="0.06"/><rect x="206.1" y="52.3" width="3.9" height="1.0" fill="#e8907a" opacity="0.12"/><rect x="198.4" y="52.3" width="5.3" height="1.0" fill="#e8907a" opacity="0.16"/><rect x="176.5" y="54.1" width="12.1" height="0.8" fill="#e8907a" opacity="0.03"/><rect x="210.7" y="54.9" width="8.3" height="0.8" fill="#e8907a" opacity="0.08"/><rect x="204.4" y="56.9" width="12.2" height="1.0" fill="#e8907a" opacity="0.03"/><rect x="172.0" y="56.9" width="9.5" height="1.0" fill="#e8907a" opacity="0.03"/><rect x="214.6" y="56.9" width="4.4" height="1.0" fill="#e8907a" opacity="0.07"/><rect x="201.7" y="57.9" width="5.6" height="1.0" fill="#e8907a" opacity="0.08"/><rect x="168.8" y="58.9" width="2.5" height="0.8" fill="#e8907a" opacity="0.13"/><rect x="198.0" y="58.9" width="2.6" height="0.8" fill="#e8907a" opacity="0.14"/><rect x="172.1" y="61.3" width="14.1" height="0.6" fill="#e8907a" opacity="0.06"/><rect x="195.2" y="61.9" width="11.1" height="0.8" fill="#e8907a" opacity="0.07"/><rect x="179.8" y="61.9" width="6.5" height="0.8" fill="#e8907a" opacity="0.10"/><rect x="200.0" y="62.7" width="8.9" height="1.0" fill="#e8907a" opacity="0.04"/><rect x="208.1" y="62.7" width="10.5" height="1.0" fill="#e8907a" opacity="0.11"/><rect x="169.9" y="63.7" width="10.8" height="1.0" fill="#e8907a" opacity="0.09"/><rect x="212.5" y="63.7" width="6.5" height="1.0" fill="#e8907a" opacity="0.11"/><rect x="175.0" y="63.7" width="4.6" height="1.0" fill="#e8907a" opacity="0.09"/><rect x="171.7" y="64.7" width="2.6" height="1.2" fill="#e8907a" opacity="0.11"/><rect x="198.9" y="64.7" width="11.4" height="1.2" fill="#e8907a" opacity="0.13"/><rect x="172.2" y="65.9" width="4.6" height="0.6" fill="#e8907a" opacity="0.10"/><rect x="172.3" y="65.9" width="10.7" height="0.6" fill="#e8907a" opacity="0.04"/><rect x="181.9" y="65.9" width="11.4" height="0.6" fill="#e8907a" opacity="0.11"/><rect x="182.0" y="68.9" width="11.1" height="1.0" fill="#e8907a" opacity="0.03"/><rect x="196.6" y="68.9" width="4.1" height="1.0" fill="#e8907a" opacity="0.13"/><rect x="208.3" y="68.9" width="6.6" height="1.0" fill="#e8907a" opacity="0.08"/><rect x="177.2" y="69.9" width="12.6" height="1.0" fill="#e8907a" opacity="0.05"/><rect x="175.3" y="69.9" width="13.1" height="1.0" fill="#e8907a" opacity="0.15"/><rect x="177.4" y="70.9" width="7.9" height="1.0" fill="#e8907a" opacity="0.11"/><rect x="192.3" y="70.9" width="13.6" height="1.0" fill="#e8907a" opacity="0.09"/><rect x="180.1" y="70.9" width="10.1" height="1.0" fill="#e8907a" opacity="0.15"/><rect x="168.8" y="71.9" width="11.8" height="1.0" fill="#e8907a" opacity="0.08"/><rect x="186.8" y="72.9" width="11.3" height="1.0" fill="#e8907a" opacity="0.15"/><rect x="187.4" y="72.9" width="9.5" height="1.0" fill="#e8907a" opacity="0.13"/><rect x="193.7" y="73.9" width="4.1" height="1.0" fill="#e8907a" opacity="0.06"/><rect x="185.9" y="74.9" width="12.6" height="1.2" fill="#e8907a" opacity="0.06"/><rect x="213.6" y="74.9" width="5.4" height="1.2" fill="#e8907a" opacity="0.06"/><rect x="186.9" y="76.1" width="2.4" height="1.0" fill="#e8907a" opacity="0.05"/><rect x="176.0" y="76.1" width="12.6" height="1.0" fill="#e8907a" opacity="0.15"/><rect x="215.2" y="76.1" width="2.7" height="1.0" fill="#e8907a" opacity="0.14"/><rect x="202.8" y="77.1" width="2.7" height="1.0" fill="#e8907a" opacity="0.04"/><rect x="177.9" y="78.1" width="2.1" height="1.2" fill="#e8907a" opacity="0.10"/><rect x="171.8" y="78.1" width="5.7" height="1.2" fill="#e8907a" opacity="0.06"/><rect x="184.4" y="78.1" width="8.7" height="1.2" fill="#e8907a" opacity="0.14"/><rect x="190.2" y="79.3" width="5.2" height="1.2" fill="#e8907a" opacity="0.07"/><rect x="174.9" y="79.3" width="5.5" height="1.2" fill="#e8907a" opacity="0.05"/><rect x="168.9" y="79.3" width="9.6" height="1.2" fill="#e8907a" opacity="0.09"/><rect x="214.1" y="80.5" width="4.1" height="0.8" fill="#e8907a" opacity="0.04"/><rect x="191.8" y="81.3" width="3.5" height="0.6" fill="#e8907a" opacity="0.12"/><rect x="203.3" y="81.3" width="8.1" height="0.6" fill="#e8907a" opacity="0.10"/><rect x="175.2" y="81.9" width="4.4" height="0.8" fill="#e8907a" opacity="0.09"/><rect x="169.7" y="81.9" width="8.7" height="0.8" fill="#e8907a" opacity="0.04"/><rect x="211.3" y="82.7" width="6.5" height="0.8" fill="#e8907a" opacity="0.12"/><rect x="183.4" y="82.7" width="7.5" height="0.8" fill="#e8907a" opacity="0.09"/><rect x="212.4" y="83.5" width="2.9" height="0.6" fill="#e8907a" opacity="0.03"/><rect x="184.2" y="83.5" width="2.0" height="0.6" fill="#e8907a" opacity="0.03"/><rect x="191.9" y="84.1" width="3.0" height="0.8" fill="#e8907a" opacity="0.10"/><rect x="205.7" y="84.1" width="11.7" height="0.8" fill="#e8907a" opacity="0.04"/><rect x="208.0" y="84.9" width="10.6" height="1.0" fill="#e8907a" opacity="0.12"/><rect x="175.7" y="84.9" width="11.7" height="1.0" fill="#e8907a" opacity="0.06"/><rect x="173.9" y="85.9" width="5.2" height="0.8" fill="#e8907a" opacity="0.03"/><rect x="181.0" y="85.9" width="3.4" height="0.8" fill="#e8907a" opacity="0.14"/><rect x="173.6" y="87.7" width="5.2" height="1.2" fill="#e8907a" opacity="0.11"/><rect x="194.4" y="87.7" width="3.2" height="1.2" fill="#e8907a" opacity="0.06"/><rect x="168.8" y="88.9" width="5.8" height="1.0" fill="#e8907a" opacity="0.07"/><rect x="210.0" y="88.9" width="9.0" height="1.0" fill="#e8907a" opacity="0.03"/><rect x="170.4" y="89.9" width="5.8" height="1.0" fill="#e8907a" opacity="0.07"/><rect x="210.7" y="89.9" width="8.1" height="1.0" fill="#e8907a" opacity="0.09"/><rect x="178.1" y="89.9" width="3.2" height="1.0" fill="#e8907a" opacity="0.10"/><rect x="186.6" y="90.9" width="10.4" height="1.0" fill="#e8907a" opacity="0.14"/><rect x="186.3" y="90.9" width="5.7" height="1.0" fill="#e8907a" opacity="0.05"/><rect x="169.8" y="90.9" width="6.2" height="1.0" fill="#e8907a" opacity="0.07"/><rect x="182.7" y="91.9" width="9.7" height="1.0" fill="#e8907a" opacity="0.03"/><rect x="185.6" y="92.9" width="10.2" height="1.2" fill="#e8907a" opacity="0.04"/><rect x="199.8" y="92.9" width="3.9" height="1.2" fill="#e8907a" opacity="0.12"/><rect x="183.5" y="94.1" width="6.0" height="0.6" fill="#e8907a" opacity="0.08"/><rect x="173.7" y="94.1" width="13.9" height="0.6" fill="#e8907a" opacity="0.10"/><rect x="188.2" y="96.7" width="7.9" height="1.0" fill="#e8907a" opacity="0.11"/><rect x="175.1" y="97.7" width="12.3" height="1.0" fill="#e8907a" opacity="0.04"/><rect x="171.2" y="97.7" width="4.6" height="1.0" fill="#e8907a" opacity="0.06"/><rect x="213.2" y="100.7" width="5.8" height="0.8" fill="#e8907a" opacity="0.02"/><rect x="200.7" y="101.5" width="3.4" height="1.0" fill="#e8907a" opacity="0.08"/><rect x="196.4" y="102.5" width="2.0" height="0.6" fill="#e8907a" opacity="0.06"/><rect x="180.1" y="103.1" width="12.7" height="0.6" fill="#e8907a" opacity="0.12"/><rect x="201.6" y="104.5" width="3.8" height="1.2" fill="#e8907a" opacity="0.14"/><rect x="196.0" y="104.5" width="2.1" height="1.2" fill="#e8907a" opacity="0.06"/><rect x="216.9" y="105.7" width="2.1" height="1.2" fill="#e8907a" opacity="0.08"/><rect x="216.5" y="106.9" width="2.5" height="1.2" fill="#e8907a" opacity="0.11"/><rect x="171.4" y="106.9" width="3.3" height="1.2" fill="#e8907a" opacity="0.08"/><rect x="196.1" y="106.9" width="13.4" height="1.2" fill="#e8907a" opacity="0.09"/><rect x="188.6" y="108.1" width="8.9" height="0.8" fill="#e8907a" opacity="0.10"/><rect x="181.5" y="108.1" width="2.7" height="0.8" fill="#e8907a" opacity="0.11"/><rect x="194.3" y="110.9" width="12.9" height="0.6" fill="#e8907a" opacity="0.09"/><rect x="172.6" y="110.9" width="12.5" height="0.6" fill="#e8907a" opacity="0.12"/><rect x="215.5" y="112.3" width="3.5" height="1.2" fill="#e8907a" opacity="0.04"/><rect x="170.5" y="112.3" width="7.8" height="1.2" fill="#e8907a" opacity="0.10"/><rect x="198.2" y="112.3" width="3.7" height="1.2" fill="#e8907a" opacity="0.10"/><rect x="190.7" y="113.5" width="7.6" height="0.6" fill="#e8907a" opacity="0.13"/><rect x="199.6" y="113.5" width="10.4" height="0.6" fill="#e8907a" opacity="0.06"/><rect x="204.0" y="113.5" width="11.5" height="0.6" fill="#e8907a" opacity="0.10"/><rect x="186.7" y="114.1" width="12.4" height="1.0" fill="#e8907a" opacity="0.08"/><rect x="180.6" y="117.3" width="11.4" height="1.0" fill="#e8907a" opacity="0.04"/><rect x="202.6" y="117.3" width="2.2" height="1.0" fill="#e8907a" opacity="0.03"/><rect x="168.8" y="117.3" width="5.6" height="1.0" fill="#e8907a" opacity="0.06"/><rect x="168.8" y="118.3" width="7.2" height="1.0" fill="#e8907a" opacity="0.03"/><rect x="216.3" y="118.3" width="2.7" height="1.0" fill="#e8907a" opacity="0.07"/><rect x="198.8" y="118.3" width="6.1" height="1.0" fill="#e8907a" opacity="0.14"/><rect x="209.6" y="120.5" width="9.4" height="1.0" fill="#e8907a" opacity="0.09"/><rect x="198.5" y="120.5" width="13.6" height="1.0" fill="#e8907a" opacity="0.07"/><rect x="210.7" y="121.5" width="4.5" height="1.0" fill="#e8907a" opacity="0.08"/><rect x="184.7" y="122.5" width="14.0" height="1.0" fill="#e8907a" opacity="0.07"/><rect x="202.8" y="123.5" width="2.7" height="0.8" fill="#e8907a" opacity="0.06"/><rect x="196.8" y="124.3" width="5.6" height="1.0" fill="#e8907a" opacity="0.07"/><rect x="210.9" y="125.3" width="8.1" height="1.0" fill="#e8907a" opacity="0.11"/><rect x="181.3" y="125.3" width="12.9" height="1.0" fill="#e8907a" opacity="0.09"/><rect x="204.3" y="126.3" width="5.8" height="1.2" fill="#e8907a" opacity="0.04"/><rect x="168.8" y="128.5" width="2.7" height="1.0" fill="#e8907a" opacity="0.11"/><rect x="182.1" y="130.5" width="3.6" height="1.0" fill="#e8907a" opacity="0.05"/><rect x="194.8" y="130.5" width="5.3" height="1.0" fill="#e8907a" opacity="0.06"/><rect x="209.3" y="133.1" width="5.3" height="1.2" fill="#e8907a" opacity="0.09"/><rect x="210.8" y="133.1" width="5.4" height="1.2" fill="#e8907a" opacity="0.13"/><rect x="200.4" y="133.1" width="8.7" height="1.2" fill="#e8907a" opacity="0.06"/><rect x="206.9" y="134.3" width="9.5" height="0.8" fill="#e8907a" opacity="0.13"/><rect x="210.9" y="134.3" width="8.1" height="0.8" fill="#e8907a" opacity="0.08"/><rect x="211.2" y="135.1" width="7.8" height="1.0" fill="#e8907a" opacity="0.10"/><rect x="200.4" y="135.1" width="5.6" height="1.0" fill="#e8907a" opacity="0.13"/><rect x="186.7" y="135.1" width="5.3" height="1.0" fill="#e8907a" opacity="0.13"/><rect x="188.6" y="136.1" width="8.4" height="0.8" fill="#e8907a" opacity="0.06"/><rect x="168.8" y="136.1" width="6.0" height="0.8" fill="#e8907a" opacity="0.03"/><rect x="196.7" y="136.9" width="9.2" height="0.6" fill="#e8907a" opacity="0.11"/><rect x="212.2" y="138.7" width="6.8" height="0.8" fill="#e8907a" opacity="0.10"/><rect x="200.4" y="138.7" width="3.7" height="0.8" fill="#e8907a" opacity="0.07"/><rect x="190.9" y="142.3" width="9.5" height="1.2" fill="#e8907a" opacity="0.03"/><rect x="185.7" y="143.5" width="3.2" height="1.0" fill="#e8907a" opacity="0.09"/><rect x="179.8" y="144.5" width="10.6" height="1.0" fill="#e8907a" opacity="0.10"/><rect x="196.6" y="144.5" width="4.7" height="1.0" fill="#e8907a" opacity="0.05"/><rect x="179.9" y="147.1" width="4.8" height="0.6" fill="#e8907a" opacity="0.13"/><rect x="194.9" y="147.1" width="8.9" height="0.6" fill="#e8907a" opacity="0.12"/><rect x="184.4" y="147.1" width="4.2" height="0.6" fill="#e8907a" opacity="0.05"/><rect x="205.2" y="147.7" width="8.4" height="1.0" fill="#e8907a" opacity="0.06"/><rect x="193.6" y="150.3" width="4.5" height="1.2" fill="#e8907a" opacity="0.06"/><rect x="169.3" y="150.3" width="9.1" height="1.2" fill="#e8907a" opacity="0.12"/><rect x="202.7" y="152.5" width="2.9" height="1.0" fill="#e8907a" opacity="0.07"/><rect x="168.8" y="152.5" width="6.6" height="1.0" fill="#e8907a" opacity="0.04"/></g>
<line x1="193.90" y1="46.50" x2="193.90" y2="153.50" stroke="#e4b0a3" stroke-width="0.6" />
</svg>
<rect x="168.80" y="46.50" width="50.20" height="107.00" fill="none" stroke="#828282" stroke-width="1.2"/>
<line x1="14.00" y1="154.20" x2="64.20" y2="154.20" stroke="#666" stroke-width="0.9" stroke-dasharray="0.7,1.1"/>
<line x1="39.10" y1="153.70" x2="39.10" y2="156.00" stroke="#555" stroke-width="0.7" />
<line x1="65.60" y1="154.20" x2="115.80" y2="154.20" stroke="#666" stroke-width="0.9" stroke-dasharray="0.7,1.1"/>
<line x1="90.70" y1="153.70" x2="90.70" y2="156.00" stroke="#555" stroke-width="0.7" />
<line x1="117.20" y1="154.20" x2="167.40" y2="154.20" stroke="#666" stroke-width="0.9" stroke-dasharray="0.7,1.1"/>
<line x1="142.30" y1="153.70" x2="142.30" y2="156.00" stroke="#555" stroke-width="0.7" />
<line x1="168.80" y1="154.20" x2="219.00" y2="154.20" stroke="#666" stroke-width="0.9" stroke-dasharray="0.7,1.1"/>
<line x1="193.90" y1="153.70" x2="193.90" y2="156.00" stroke="#555" stroke-width="0.7" />
<text x="9.70" y="27.10" font-size="6.3" text-anchor="end" fill="#231f20" font-weight="normal" >1</text>
<line x1="12.00" y1="24.90" x2="14.00" y2="24.90" stroke="#555" stroke-width="0.6" />
<text x="9.70" y="33.20" font-size="6.3" text-anchor="end" fill="#231f20" font-weight="normal" >0.5</text>
<line x1="12.00" y1="31.00" x2="14.00" y2="31.00" stroke="#555" stroke-width="0.6" />
<text x="9.70" y="38.70" font-size="6.3" text-anchor="end" fill="#231f20" font-weight="normal" >0</text>
<line x1="12.00" y1="36.50" x2="14.00" y2="36.50" stroke="#555" stroke-width="0.6" />
<rect x="10.80" y="38.30" width="1.40" height="4.30" fill="#3c4a5e" />
<rect x="10.80" y="43.30" width="1.40" height="1.80" fill="#c0207a" />
<rect x="10.10" y="47.50" width="2.10" height="105.50" fill="#2a9e40" />
<text x="39.10" y="164.80" font-size="6.5" text-anchor="middle" fill="#231f20" font-weight="normal" >start</text>
<text x="90.70" y="164.80" font-size="6.5" text-anchor="middle" fill="#231f20" font-weight="normal" >start</text>
<text x="142.30" y="164.80" font-size="6.5" text-anchor="middle" fill="#231f20" font-weight="normal" >start</text>
<text x="193.90" y="164.80" font-size="6.5" text-anchor="middle" fill="#231f20" font-weight="normal" >start</text>
<text x="0" y="0" font-size="6.6" fill="#231f20" stroke="#231f20" stroke-width="0.15" text-anchor="end" textLength="12.8" lengthAdjust="spacingAndGlyphs" transform="translate(15.88,159.20) rotate(-90)">−550</text>
<text x="0" y="0" font-size="6.6" fill="#231f20" stroke="#231f20" stroke-width="0.15" text-anchor="end" textLength="9.3" lengthAdjust="spacingAndGlyphs" transform="translate(63.58,159.20) rotate(-90)">550</text>
<text x="0" y="0" font-size="6.6" fill="#231f20" stroke="#231f20" stroke-width="0.15" text-anchor="end" textLength="12.8" lengthAdjust="spacingAndGlyphs" transform="translate(69.58,159.20) rotate(-90)">−550</text>
<text x="0" y="0" font-size="6.6" fill="#231f20" stroke="#231f20" stroke-width="0.15" text-anchor="end" textLength="9.3" lengthAdjust="spacingAndGlyphs" transform="translate(115.18,159.20) rotate(-90)">550</text>
<text x="0" y="0" font-size="6.6" fill="#231f20" stroke="#231f20" stroke-width="0.15" text-anchor="end" textLength="12.8" lengthAdjust="spacingAndGlyphs" transform="translate(121.18,159.20) rotate(-90)">−550</text>
<text x="0" y="0" font-size="6.6" fill="#231f20" stroke="#231f20" stroke-width="0.15" text-anchor="end" textLength="9.3" lengthAdjust="spacingAndGlyphs" transform="translate(166.88,159.20) rotate(-90)">550</text>
<text x="0" y="0" font-size="6.6" fill="#231f20" stroke="#231f20" stroke-width="0.15" text-anchor="end" textLength="12.8" lengthAdjust="spacingAndGlyphs" transform="translate(172.38,159.20) rotate(-90)">−550</text>
<text x="0" y="0" font-size="6.6" fill="#231f20" stroke="#231f20" stroke-width="0.15" text-anchor="end" textLength="9.3" lengthAdjust="spacingAndGlyphs" transform="translate(221.13,159.20) rotate(-90)">550</text>
<text x="221.00" y="59.70" font-size="6.5" text-anchor="start" fill="#231f20" font-weight="normal" >dba</text>
<rect x="221.00" y="63.40" width="3.30" height="3.30" fill="#334155" />
<text x="226.30" y="67.60" font-size="6.5" text-anchor="start" fill="#231f20" font-weight="normal" >STAT3<tspan font-size="4.2" dy="-2.8">Y640F</tspan><tspan dy="2.8"> stronger</tspan></text>
<rect x="221.00" y="70.50" width="3.30" height="3.30" fill="#cc1f80" />
<text x="226.30" y="74.60" font-size="6.5" text-anchor="start" fill="#231f20" font-weight="normal" >STAT3 stronger</text>
<rect x="221.00" y="77.80" width="3.30" height="3.30" fill="#2fa84f" />
<text x="226.30" y="81.80" font-size="6.5" text-anchor="start" fill="#231f20" font-weight="normal" >no difference</text>
<text x="221.00" y="91.20" font-size="6.5" text-anchor="start" fill="#231f20" font-weight="normal" >signal</text>
<rect x="220.70" y="96.80" width="3.60" height="17.50" fill="url(#g5)" />
<text x="226.60" y="99.10" font-size="6.3" text-anchor="start" fill="#231f20" font-weight="normal" >0.8</text>
<text x="226.60" y="104.40" font-size="6.3" text-anchor="start" fill="#231f20" font-weight="normal" >0.6</text>
<text x="226.60" y="109.70" font-size="6.3" text-anchor="start" fill="#231f20" font-weight="normal" >0.4</text>
<text x="226.60" y="115.00" font-size="6.3" text-anchor="start" fill="#231f20" font-weight="normal" >0.2</text>
<text x="226.60" y="120.30" font-size="6.3" text-anchor="start" fill="#231f20" font-weight="normal" >0</text>
<text x="39.60" y="188.20" font-size="7.2" text-anchor="middle" fill="#231f20" font-weight="normal"  textLength="18.5" lengthAdjust="spacingAndGlyphs">STAT3</text>
<text x="90.50" y="188.20" font-size="7.2" text-anchor="middle" fill="#231f20" font-weight="normal"  textLength="30.2" lengthAdjust="spacingAndGlyphs">STAT3<tspan font-size="4.2" dy="-2.9">Y640F</tspan></text>
<text x="142.00" y="188.20" font-size="7.2" text-anchor="middle" fill="#231f20" font-weight="normal"  textLength="39.2" lengthAdjust="spacingAndGlyphs">empty vector</text>
<text x="193.60" y="188.20" font-size="7.2" text-anchor="middle" fill="#231f20" font-weight="normal"  textLength="14.8" lengthAdjust="spacingAndGlyphs">input</text>
<rect x="18.00" y="191.20" width="48.20" height="23.30" fill="#fff" />
<rect x="68.00" y="191.20" width="48.20" height="23.30" fill="#fff" />
<rect x="118.00" y="191.20" width="48.20" height="23.30" fill="#fff" />
<rect x="168.00" y="191.20" width="48.20" height="23.30" fill="#fff" />
<line x1="42.10" y1="191.70" x2="42.10" y2="214.00" stroke="#f3c0d8" stroke-width="0.7" />
<line x1="92.10" y1="191.70" x2="92.10" y2="214.00" stroke="#f3c0d8" stroke-width="0.7" />
<line x1="142.10" y1="191.70" x2="142.10" y2="214.00" stroke="#d0d0d0" stroke-width="0.5" />
<line x1="192.10" y1="191.70" x2="192.10" y2="214.00" stroke="#d0d0d0" stroke-width="0.5" />
<polyline points="18.00,213.31 18.60,213.31 19.20,213.31 19.81,213.30 20.41,213.30 21.01,213.29 21.62,213.28 22.22,213.27 22.82,213.27 23.42,213.26 24.02,213.25 24.63,213.23 25.23,213.22 25.83,213.20 26.44,213.18 27.04,213.16 27.64,213.14 28.24,213.11 28.84,213.08 29.45,213.04 30.05,212.99 30.65,212.94 31.26,212.87 31.86,212.79 32.46,212.69 33.06,212.57 33.66,212.42 34.27,212.24 34.87,212.01 35.47,211.71 36.08,211.34 36.68,210.86 37.28,210.24 37.88,209.46 38.48,208.47 39.09,207.25 39.69,205.83 40.29,204.29 40.90,202.83 41.50,201.76 42.10,201.37 42.70,201.76 43.30,202.83 43.91,204.29 44.51,205.83 45.11,207.25 45.72,208.47 46.32,209.46 46.92,210.24 47.52,210.86 48.12,211.34 48.73,211.71 49.33,212.01 49.93,212.24 50.54,212.42 51.14,212.57 51.74,212.69 52.34,212.79 52.95,212.87 53.55,212.94 54.15,212.99 54.75,213.04 55.36,213.08 55.96,213.11 56.56,213.14 57.16,213.16 57.77,213.18 58.37,213.20 58.97,213.22 59.57,213.23 60.17,213.25 60.78,213.26 61.38,213.27 61.98,213.27 62.59,213.28 63.19,213.29 63.79,213.30 64.39,213.30 65.00,213.31 65.60,213.31 66.20,213.31" fill="none" stroke="#6a4a80" stroke-width="1.0" stroke-linejoin="round"/>
<polyline points="18.00,212.15 18.60,212.15 19.20,212.15 19.81,212.14 20.41,212.14 21.01,212.13 21.62,212.13 22.22,212.12 22.82,212.11 23.42,212.10 24.02,212.09 24.63,212.08 25.23,212.07 25.83,212.06 26.44,212.04 27.04,212.03 27.64,212.00 28.24,211.98 28.84,211.95 29.45,211.92 30.05,211.88 30.65,211.84 31.26,211.78 31.86,211.72 32.46,211.64 33.06,211.55 33.66,211.43 34.27,211.29 34.87,211.12 35.47,210.90 36.08,210.64 36.68,210.30 37.28,209.90 37.88,209.40 38.48,208.80 39.09,208.10 39.69,207.33 40.29,206.56 40.90,205.86 41.50,205.38 42.10,205.20 42.70,205.38 43.30,205.86 43.91,206.56 44.51,207.33 45.11,208.10 45.72,208.80 46.32,209.40 46.92,209.90 47.52,210.30 48.12,210.64 48.73,210.90 49.33,211.12 49.93,211.29 50.54,211.43 51.14,211.55 51.74,211.64 52.34,211.72 52.95,211.78 53.55,211.84 54.15,211.88 54.75,211.92 55.36,211.95 55.96,211.98 56.56,212.00 57.16,212.03 57.77,212.04 58.37,212.06 58.97,212.07 59.57,212.08 60.17,212.09 60.78,212.10 61.38,212.11 61.98,212.12 62.59,212.13 63.19,212.13 63.79,212.14 64.39,212.14 65.00,212.15 65.60,212.15 66.20,212.15" fill="none" stroke="#d0408e" stroke-width="1.2" stroke-linejoin="round"/>
<polyline points="68.00,213.65 68.60,213.65 69.20,213.64 69.81,213.64 70.41,213.63 71.01,213.63 71.61,213.62 72.22,213.61 72.82,213.61 73.42,213.60 74.03,213.59 74.63,213.57 75.23,213.56 75.83,213.55 76.44,213.53 77.04,213.51 77.64,213.48 78.24,213.46 78.84,213.42 79.45,213.38 80.05,213.34 80.65,213.28 81.25,213.21 81.86,213.13 82.46,213.03 83.06,212.91 83.67,212.75 84.27,212.55 84.87,212.29 85.47,211.96 86.08,211.52 86.68,210.94 87.28,210.15 87.88,209.10 88.48,207.67 89.09,205.78 89.69,203.34 90.29,200.43 90.90,197.40 91.50,194.98 92.10,194.03 92.70,194.98 93.31,197.40 93.91,200.43 94.51,203.34 95.11,205.78 95.72,207.67 96.32,209.10 96.92,210.15 97.52,210.94 98.12,211.52 98.73,211.96 99.33,212.29 99.93,212.55 100.53,212.75 101.14,212.91 101.74,213.03 102.34,213.13 102.95,213.21 103.55,213.28 104.15,213.34 104.75,213.38 105.36,213.42 105.96,213.46 106.56,213.48 107.16,213.51 107.77,213.53 108.37,213.55 108.97,213.56 109.57,213.57 110.17,213.59 110.78,213.60 111.38,213.61 111.98,213.61 112.59,213.62 113.19,213.63 113.79,213.63 114.39,213.64 115.00,213.64 115.60,213.65 116.20,213.65" fill="none" stroke="#6a7088" stroke-width="0.9" stroke-linejoin="round"/>
<polyline points="68.00,212.15 68.60,212.14 69.20,212.14 69.81,212.13 70.41,212.13 71.01,212.12 71.61,212.11 72.22,212.10 72.82,212.10 73.42,212.09 74.03,212.07 74.63,212.06 75.23,212.05 75.83,212.03 76.44,212.01 77.04,211.99 77.64,211.97 78.24,211.94 78.84,211.91 79.45,211.87 80.05,211.82 80.65,211.77 81.25,211.70 81.86,211.63 82.46,211.53 83.06,211.42 83.67,211.29 84.27,211.12 84.87,210.91 85.47,210.66 86.08,210.34 86.68,209.94 87.28,209.46 87.88,208.86 88.48,208.15 89.09,207.32 89.69,206.41 90.29,205.48 90.90,204.66 91.50,204.08 92.10,203.87 92.70,204.08 93.31,204.66 93.91,205.48 94.51,206.41 95.11,207.32 95.72,208.15 96.32,208.86 96.92,209.46 97.52,209.94 98.12,210.34 98.73,210.66 99.33,210.91 99.93,211.12 100.53,211.29 101.14,211.42 101.74,211.53 102.34,211.63 102.95,211.70 103.55,211.77 104.15,211.82 104.75,211.87 105.36,211.91 105.96,211.94 106.56,211.97 107.16,211.99 107.77,212.01 108.37,212.03 108.97,212.05 109.57,212.06 110.17,212.07 110.78,212.09 111.38,212.10 111.98,212.10 112.59,212.11 113.19,212.12 113.79,212.13 114.39,212.13 115.00,212.14 115.60,212.14 116.20,212.15" fill="none" stroke="#c0408a" stroke-width="1.2" stroke-linejoin="round"/>
<polyline points="118.00,213.70 118.60,213.70 119.20,213.70 119.81,213.70 120.41,213.70 121.01,213.70 121.61,213.70 122.22,213.70 122.82,213.70 123.42,213.70 124.03,213.70 124.63,213.70 125.23,213.70 125.83,213.70 126.44,213.70 127.04,213.70 127.64,213.70 128.24,213.70 128.84,213.70 129.45,213.70 130.05,213.70 130.65,213.70 131.25,213.70 131.86,213.70 132.46,213.70 133.06,213.70 133.66,213.70 134.27,213.70 134.87,213.70 135.47,213.70 136.07,213.70 136.68,213.70 137.28,213.70 137.88,213.70 138.49,213.70 139.09,213.70 139.69,213.70 140.29,213.70 140.90,213.70 141.50,213.70 142.10,213.70 142.70,213.70 143.31,213.70 143.91,213.70 144.51,213.70 145.11,213.70 145.72,213.70 146.32,213.70 146.92,213.70 147.52,213.70 148.12,213.70 148.73,213.70 149.33,213.70 149.93,213.70 150.53,213.70 151.14,213.70 151.74,213.70 152.34,213.70 152.94,213.70 153.55,213.70 154.15,213.70 154.75,213.70 155.36,213.70 155.96,213.70 156.56,213.70 157.16,213.70 157.76,213.70 158.37,213.70 158.97,213.70 159.57,213.70 160.18,213.70 160.78,213.70 161.38,213.70 161.98,213.70 162.59,213.70 163.19,213.70 163.79,213.70 164.39,213.70 165.00,213.70 165.60,213.70 166.20,213.70" fill="none" stroke="#3d4a6b" stroke-width="0.7" stroke-linejoin="round"/>
<polyline points="118.00,212.37 118.60,212.37 119.20,212.37 119.81,212.37 120.41,212.37 121.01,212.37 121.61,212.37 122.22,212.37 122.82,212.37 123.42,212.37 124.03,212.37 124.63,212.37 125.23,212.37 125.83,212.37 126.44,212.37 127.04,212.37 127.64,212.37 128.24,212.37 128.84,212.37 129.45,212.37 130.05,212.37 130.65,212.37 131.25,212.37 131.86,212.37 132.46,212.37 133.06,212.37 133.66,212.37 134.27,212.37 134.87,212.37 135.47,212.37 136.07,212.37 136.68,212.37 137.28,212.37 137.88,212.37 138.49,212.37 139.09,212.37 139.69,212.37 140.29,212.37 140.90,212.37 141.50,212.37 142.10,212.37 142.70,212.37 143.31,212.37 143.91,212.37 144.51,212.37 145.11,212.37 145.72,212.37 146.32,212.37 146.92,212.37 147.52,212.37 148.12,212.37 148.73,212.37 149.33,212.37 149.93,212.37 150.53,212.37 151.14,212.37 151.74,212.37 152.34,212.37 152.94,212.37 153.55,212.37 154.15,212.37 154.75,212.37 155.36,212.37 155.96,212.37 156.56,212.37 157.16,212.37 157.76,212.37 158.37,212.37 158.97,212.37 159.57,212.37 160.18,212.37 160.78,212.37 161.38,212.37 161.98,212.37 162.59,212.37 163.19,212.37 163.79,212.37 164.39,212.37 165.00,212.37 165.60,212.37 166.20,212.37" fill="none" stroke="#d0358a" stroke-width="1.0" stroke-linejoin="round"/>
<polyline points="168.00,213.70 168.60,213.70 169.21,213.70 169.81,213.70 170.41,213.70 171.01,213.70 171.62,213.70 172.22,213.70 172.82,213.70 173.42,213.70 174.03,213.70 174.63,213.70 175.23,213.70 175.83,213.70 176.44,213.70 177.04,213.70 177.64,213.70 178.24,213.70 178.84,213.70 179.45,213.70 180.05,213.70 180.65,213.70 181.25,213.70 181.86,213.70 182.46,213.70 183.06,213.70 183.66,213.70 184.27,213.70 184.87,213.70 185.47,213.70 186.07,213.70 186.68,213.70 187.28,213.70 187.88,213.70 188.49,213.70 189.09,213.70 189.69,213.70 190.29,213.70 190.90,213.70 191.50,213.70 192.10,213.70 192.70,213.70 193.31,213.70 193.91,213.70 194.51,213.70 195.11,213.70 195.72,213.70 196.32,213.70 196.92,213.70 197.52,213.70 198.12,213.70 198.73,213.70 199.33,213.70 199.93,213.70 200.53,213.70 201.14,213.70 201.74,213.70 202.34,213.70 202.94,213.70 203.55,213.70 204.15,213.70 204.75,213.70 205.36,213.70 205.96,213.70 206.56,213.70 207.16,213.70 207.76,213.70 208.37,213.70 208.97,213.70 209.57,213.70 210.18,213.70 210.78,213.70 211.38,213.70 211.98,213.70 212.59,213.70 213.19,213.70 213.79,213.70 214.39,213.70 215.00,213.70 215.60,213.70 216.20,213.70" fill="none" stroke="#3d4a6b" stroke-width="0.7" stroke-linejoin="round"/>
<polyline points="168.00,212.20 168.60,212.20 169.21,212.20 169.81,212.20 170.41,212.20 171.01,212.20 171.62,212.20 172.22,212.20 172.82,212.20 173.42,212.20 174.03,212.20 174.63,212.20 175.23,212.20 175.83,212.20 176.44,212.20 177.04,212.20 177.64,212.20 178.24,212.20 178.84,212.20 179.45,212.20 180.05,212.20 180.65,212.20 181.25,212.20 181.86,212.20 182.46,212.20 183.06,212.20 183.66,212.20 184.27,212.20 184.87,212.20 185.47,212.20 186.07,212.20 186.68,212.20 187.28,212.20 187.88,212.20 188.49,212.20 189.09,212.20 189.69,212.20 190.29,212.20 190.90,212.20 191.50,212.20 192.10,212.20 192.70,212.20 193.31,212.20 193.91,212.20 194.51,212.20 195.11,212.20 195.72,212.20 196.32,212.20 196.92,212.20 197.52,212.20 198.12,212.20 198.73,212.20 199.33,212.20 199.93,212.20 200.53,212.20 201.14,212.20 201.74,212.20 202.34,212.20 202.94,212.20 203.55,212.20 204.15,212.20 204.75,212.20 205.36,212.20 205.96,212.20 206.56,212.20 207.16,212.20 207.76,212.20 208.37,212.20 208.97,212.20 209.57,212.20 210.18,212.20 210.78,212.20 211.38,212.20 211.98,212.20 212.59,212.20 213.19,212.20 213.79,212.20 214.39,212.20 215.00,212.20 215.60,212.20 216.20,212.20" fill="none" stroke="#d0358a" stroke-width="1.0" stroke-linejoin="round"/>
<rect x="18.00" y="191.20" width="48.20" height="23.30" fill="none" stroke="#828282" stroke-width="1"/>
<rect x="68.00" y="191.20" width="48.20" height="23.30" fill="none" stroke="#828282" stroke-width="1"/>
<rect x="118.00" y="191.20" width="48.20" height="23.30" fill="none" stroke="#828282" stroke-width="1"/>
<rect x="168.00" y="191.20" width="48.20" height="23.30" fill="none" stroke="#828282" stroke-width="1"/>
<svg x="18" y="215.5" width="48.2" height="25" viewBox="18 215.5 48.2 25" overflow="hidden">
<rect x="18.00" y="215.50" width="48.20" height="25.00" fill="url(#g6)" />
<g filter="url(#bl3)"><rect x="62.6" y="215.5" width="3.6" height="1.2" fill="#d43a28" opacity="0.39"/><rect x="43.1" y="215.5" width="5.3" height="1.2" fill="#fff6f0" opacity="0.09"/><rect x="31.3" y="215.5" width="10.9" height="1.2" fill="#fff6f0" opacity="0.19"/><rect x="44.4" y="216.7" width="10.9" height="0.6" fill="#d43a28" opacity="0.58"/><rect x="18.0" y="216.7" width="2.1" height="0.6" fill="#d43a28" opacity="0.25"/><rect x="46.5" y="216.7" width="2.8" height="0.6" fill="#d43a28" opacity="0.37"/><rect x="43.3" y="216.7" width="2.2" height="0.6" fill="#d43a28" opacity="0.52"/><rect x="33.5" y="217.3" width="12.6" height="0.8" fill="#d43a28" opacity="0.49"/><rect x="55.1" y="217.3" width="2.4" height="0.8" fill="#d43a28" opacity="0.52"/><rect x="62.0" y="217.3" width="4.2" height="0.8" fill="#d43a28" opacity="0.33"/><rect x="45.4" y="217.3" width="5.1" height="0.8" fill="#d43a28" opacity="0.20"/><rect x="46.6" y="217.3" width="15.2" height="0.8" fill="#fff6f0" opacity="0.11"/><rect x="35.1" y="217.3" width="14.4" height="0.8" fill="#fff6f0" opacity="0.09"/><rect x="36.1" y="218.1" width="6.3" height="1.2" fill="#d43a28" opacity="0.40"/><rect x="22.5" y="218.1" width="16.8" height="1.2" fill="#fff6f0" opacity="0.23"/><rect x="36.2" y="219.3" width="4.4" height="0.6" fill="#d43a28" opacity="0.12"/><rect x="20.8" y="219.3" width="11.3" height="0.6" fill="#fff6f0" opacity="0.26"/><rect x="63.9" y="220.5" width="2.3" height="1.0" fill="#d43a28" opacity="0.37"/><rect x="34.8" y="220.5" width="3.0" height="1.0" fill="#d43a28" opacity="0.33"/><rect x="33.7" y="220.5" width="16.8" height="1.0" fill="#fff6f0" opacity="0.21"/><rect x="42.5" y="221.5" width="4.2" height="0.8" fill="#d43a28" opacity="0.11"/><rect x="58.9" y="221.5" width="7.3" height="0.8" fill="#d43a28" opacity="0.31"/><rect x="41.5" y="221.5" width="15.0" height="0.8" fill="#fff6f0" opacity="0.15"/><rect x="55.2" y="221.5" width="11.0" height="0.8" fill="#fff6f0" opacity="0.14"/><rect x="61.4" y="222.3" width="4.8" height="1.2" fill="#d43a28" opacity="0.53"/><rect x="62.8" y="222.3" width="3.4" height="1.2" fill="#d43a28" opacity="0.19"/><rect x="29.5" y="222.3" width="10.5" height="1.2" fill="#d43a28" opacity="0.40"/><rect x="56.4" y="222.3" width="9.8" height="1.2" fill="#fff6f0" opacity="0.13"/><rect x="48.0" y="222.3" width="13.6" height="1.2" fill="#fff6f0" opacity="0.25"/><rect x="31.6" y="223.5" width="9.1" height="1.0" fill="#d43a28" opacity="0.20"/><rect x="32.2" y="223.5" width="9.8" height="1.0" fill="#d43a28" opacity="0.20"/><rect x="60.3" y="223.5" width="5.7" height="1.0" fill="#d43a28" opacity="0.13"/><rect x="28.3" y="223.5" width="8.8" height="1.0" fill="#fff6f0" opacity="0.18"/><rect x="24.7" y="224.5" width="4.2" height="0.8" fill="#d43a28" opacity="0.42"/><rect x="45.0" y="224.5" width="2.3" height="0.8" fill="#d43a28" opacity="0.15"/><rect x="34.2" y="224.5" width="3.4" height="0.8" fill="#d43a28" opacity="0.13"/><rect x="25.4" y="224.5" width="11.7" height="0.8" fill="#d43a28" opacity="0.22"/><rect x="20.2" y="225.3" width="6.2" height="0.6" fill="#d43a28" opacity="0.28"/><rect x="20.7" y="225.3" width="7.0" height="0.6" fill="#d43a28" opacity="0.17"/><rect x="49.2" y="225.3" width="3.1" height="0.6" fill="#d43a28" opacity="0.17"/><rect x="21.7" y="225.3" width="2.9" height="0.6" fill="#d43a28" opacity="0.33"/><rect x="18.0" y="225.9" width="3.6" height="1.0" fill="#d43a28" opacity="0.50"/><rect x="53.8" y="225.9" width="12.4" height="1.0" fill="#d43a28" opacity="0.14"/><rect x="55.5" y="226.9" width="6.6" height="0.8" fill="#fff6f0" opacity="0.22"/><rect x="34.3" y="227.7" width="6.8" height="1.0" fill="#d43a28" opacity="0.47"/><rect x="42.1" y="228.7" width="7.5" height="1.0" fill="#d43a28" opacity="0.09"/><rect x="48.2" y="228.7" width="11.0" height="1.0" fill="#fff6f0" opacity="0.26"/><rect x="46.0" y="228.7" width="4.2" height="1.0" fill="#fff6f0" opacity="0.13"/><rect x="18.0" y="229.7" width="1.8" height="0.8" fill="#d43a28" opacity="0.45"/><rect x="39.4" y="229.7" width="14.1" height="0.8" fill="#fff6f0" opacity="0.14"/><rect x="52.4" y="230.5" width="6.6" height="1.2" fill="#d43a28" opacity="0.30"/><rect x="20.3" y="230.5" width="12.9" height="1.2" fill="#d43a28" opacity="0.39"/><rect x="26.1" y="230.5" width="8.9" height="1.2" fill="#d43a28" opacity="0.16"/><rect x="34.7" y="230.5" width="9.3" height="1.2" fill="#d43a28" opacity="0.18"/><rect x="38.1" y="230.5" width="12.7" height="1.2" fill="#d43a28" opacity="0.41"/><rect x="57.3" y="230.5" width="6.7" height="1.2" fill="#fff6f0" opacity="0.18"/><rect x="18.0" y="231.7" width="14.4" height="1.2" fill="#fff6f0" opacity="0.15"/><rect x="54.9" y="231.7" width="3.2" height="1.2" fill="#fff6f0" opacity="0.14"/><rect x="48.8" y="232.9" width="5.9" height="0.6" fill="#d43a28" opacity="0.39"/><rect x="45.2" y="232.9" width="12.1" height="0.6" fill="#d43a28" opacity="0.18"/><rect x="37.9" y="232.9" width="16.3" height="0.6" fill="#fff6f0" opacity="0.23"/><rect x="20.8" y="232.9" width="9.6" height="0.6" fill="#fff6f0" opacity="0.14"/><rect x="30.6" y="233.5" width="9.3" height="0.8" fill="#d43a28" opacity="0.14"/><rect x="18.0" y="233.5" width="9.2" height="0.8" fill="#d43a28" opacity="0.31"/><rect x="18.0" y="233.5" width="9.6" height="0.8" fill="#d43a28" opacity="0.34"/><rect x="35.4" y="233.5" width="7.3" height="0.8" fill="#d43a28" opacity="0.07"/><rect x="61.4" y="233.5" width="4.8" height="0.8" fill="#d43a28" opacity="0.23"/><rect x="27.4" y="234.3" width="11.3" height="1.0" fill="#d43a28" opacity="0.20"/><rect x="34.7" y="234.3" width="8.3" height="1.0" fill="#d43a28" opacity="0.19"/><rect x="39.4" y="234.3" width="12.8" height="1.0" fill="#d43a28" opacity="0.33"/><rect x="30.9" y="234.3" width="2.8" height="1.0" fill="#d43a28" opacity="0.32"/><rect x="18.0" y="235.3" width="3.6" height="1.2" fill="#d43a28" opacity="0.08"/><rect x="37.6" y="236.5" width="13.1" height="1.0" fill="#d43a28" opacity="0.06"/><rect x="49.2" y="236.5" width="4.3" height="1.0" fill="#d43a28" opacity="0.19"/><rect x="21.1" y="236.5" width="4.7" height="1.0" fill="#fff6f0" opacity="0.20"/><rect x="18.5" y="238.1" width="2.8" height="1.2" fill="#d43a28" opacity="0.26"/><rect x="33.8" y="238.1" width="11.8" height="1.2" fill="#d43a28" opacity="0.11"/><rect x="38.7" y="238.1" width="12.6" height="1.2" fill="#d43a28" opacity="0.14"/><rect x="18.3" y="239.3" width="4.8" height="0.6" fill="#d43a28" opacity="0.24"/><rect x="36.6" y="239.3" width="5.3" height="0.6" fill="#d43a28" opacity="0.13"/><rect x="47.5" y="239.3" width="4.6" height="0.6" fill="#d43a28" opacity="0.16"/><rect x="18.0" y="239.3" width="9.8" height="0.6" fill="#d43a28" opacity="0.11"/><rect x="49.8" y="239.3" width="4.9" height="0.6" fill="#d43a28" opacity="0.14"/><rect x="42.1" y="239.9" width="10.8" height="0.6" fill="#d43a28" opacity="0.11"/></g>
<polygon points="38.10,213.50 37.90,214.71 38.16,215.92 38.32,217.12 38.34,218.33 38.18,219.54 38.22,220.75 37.78,221.96 38.18,223.17 38.41,224.38 38.18,225.58 38.39,226.79 38.40,228.00 37.79,229.21 38.13,230.42 38.55,231.62 38.62,232.83 37.97,234.04 38.03,235.25 38.34,236.46 38.50,237.67 38.65,238.88 38.22,240.08 38.73,241.29 38.82,242.50 44.63,242.50 44.48,241.29 44.39,240.08 44.77,238.88 44.45,237.67 44.32,236.46 44.79,235.25 44.56,234.04 44.82,232.83 44.91,231.62 45.19,230.42 44.72,229.21 45.06,228.00 44.85,226.79 45.28,225.58 44.91,224.38 45.18,223.17 45.03,221.96 45.23,220.75 44.77,219.54 45.12,218.33 45.15,217.12 45.01,215.92 45.06,214.71 45.20,213.50" fill="#ee6248" opacity="0.45" filter="url(#bl2)"/>
<polygon points="40.24,213.50 40.46,214.71 40.47,215.92 40.59,217.12 40.29,218.33 40.07,219.54 40.22,220.75 40.54,221.96 40.37,223.17 40.72,224.38 40.25,225.58 40.27,226.79 40.64,228.00 40.76,229.21 40.27,230.42 40.32,231.62 40.63,232.83 40.99,234.04 40.87,235.25 40.75,236.46 40.95,237.67 40.41,238.88 40.38,240.08 40.82,241.29 40.53,242.50 43.87,242.50 43.11,241.29 43.48,240.08 43.81,238.88 43.23,237.67 43.20,236.46 43.69,235.25 43.65,234.04 43.31,232.83 43.58,231.62 43.52,230.42 43.60,229.21 43.89,228.00 43.72,226.79 43.83,225.58 43.84,224.38 44.01,223.17 43.29,221.96 43.51,220.75 43.75,219.54 43.75,218.33 43.62,217.12 43.27,215.92 43.71,214.71 44.00,213.50" fill="#dc1a10" opacity="1.0" filter="url(#bl1)"/>
</svg>
<rect x="18.00" y="215.50" width="48.20" height="25.00" fill="none" stroke="#828282" stroke-width="1.4"/>
<svg x="68" y="215.5" width="48.2" height="25" viewBox="68 215.5 48.2 25" overflow="hidden">
<rect x="68.00" y="215.50" width="48.20" height="25.00" fill="url(#g7)" />
<g filter="url(#bl3)"><rect x="109.7" y="215.5" width="6.5" height="1.0" fill="#d43a28" opacity="0.45"/><rect x="111.7" y="215.5" width="4.5" height="1.0" fill="#d43a28" opacity="0.16"/><rect x="110.0" y="215.5" width="6.2" height="1.0" fill="#d43a28" opacity="0.17"/><rect x="113.8" y="215.5" width="2.4" height="1.0" fill="#fff6f0" opacity="0.19"/><rect x="105.4" y="215.5" width="3.5" height="1.0" fill="#fff6f0" opacity="0.20"/><rect x="92.4" y="216.5" width="5.7" height="0.8" fill="#d43a28" opacity="0.35"/><rect x="102.9" y="216.5" width="13.3" height="0.8" fill="#fff6f0" opacity="0.06"/><rect x="68.5" y="217.3" width="7.2" height="0.6" fill="#d43a28" opacity="0.20"/><rect x="81.8" y="217.3" width="10.8" height="0.6" fill="#d43a28" opacity="0.39"/><rect x="94.9" y="217.3" width="12.1" height="0.6" fill="#d43a28" opacity="0.42"/><rect x="68.0" y="217.3" width="4.9" height="0.6" fill="#d43a28" opacity="0.30"/><rect x="112.7" y="217.9" width="3.5" height="1.0" fill="#d43a28" opacity="0.45"/><rect x="106.9" y="217.9" width="9.3" height="1.0" fill="#d43a28" opacity="0.24"/><rect x="86.2" y="217.9" width="3.0" height="1.0" fill="#d43a28" opacity="0.25"/><rect x="75.1" y="217.9" width="8.1" height="1.0" fill="#d43a28" opacity="0.31"/><rect x="109.0" y="217.9" width="5.2" height="1.0" fill="#fff6f0" opacity="0.14"/><rect x="68.4" y="218.9" width="11.0" height="1.0" fill="#d43a28" opacity="0.15"/><rect x="100.7" y="218.9" width="2.5" height="1.0" fill="#d43a28" opacity="0.24"/><rect x="78.0" y="218.9" width="10.2" height="1.0" fill="#d43a28" opacity="0.45"/><rect x="68.0" y="218.9" width="9.7" height="1.0" fill="#d43a28" opacity="0.30"/><rect x="81.4" y="218.9" width="10.1" height="1.0" fill="#d43a28" opacity="0.17"/><rect x="80.6" y="219.9" width="3.9" height="1.0" fill="#d43a28" opacity="0.15"/><rect x="76.9" y="219.9" width="15.0" height="1.0" fill="#fff6f0" opacity="0.20"/><rect x="68.0" y="220.9" width="11.2" height="0.6" fill="#d43a28" opacity="0.10"/><rect x="85.4" y="220.9" width="11.6" height="0.6" fill="#d43a28" opacity="0.35"/><rect x="109.7" y="220.9" width="6.5" height="0.6" fill="#d43a28" opacity="0.46"/><rect x="72.1" y="221.5" width="12.7" height="1.0" fill="#d43a28" opacity="0.33"/><rect x="106.8" y="221.5" width="9.4" height="1.0" fill="#d43a28" opacity="0.13"/><rect x="68.0" y="221.5" width="3.8" height="1.0" fill="#fff6f0" opacity="0.22"/><rect x="89.8" y="222.5" width="2.4" height="1.0" fill="#d43a28" opacity="0.19"/><rect x="79.4" y="222.5" width="9.0" height="1.0" fill="#d43a28" opacity="0.30"/><rect x="85.4" y="222.5" width="5.9" height="1.0" fill="#d43a28" opacity="0.45"/><rect x="101.7" y="223.5" width="11.1" height="0.8" fill="#d43a28" opacity="0.15"/><rect x="93.3" y="223.5" width="10.7" height="0.8" fill="#d43a28" opacity="0.41"/><rect x="80.2" y="223.5" width="13.0" height="0.8" fill="#d43a28" opacity="0.48"/><rect x="80.4" y="223.5" width="9.7" height="0.8" fill="#d43a28" opacity="0.16"/><rect x="75.5" y="223.5" width="4.4" height="0.8" fill="#fff6f0" opacity="0.07"/><rect x="73.1" y="224.3" width="7.5" height="1.0" fill="#d43a28" opacity="0.17"/><rect x="99.4" y="224.3" width="4.6" height="1.0" fill="#d43a28" opacity="0.47"/><rect x="92.9" y="224.3" width="13.4" height="1.0" fill="#d43a28" opacity="0.49"/><rect x="97.3" y="224.3" width="2.2" height="1.0" fill="#d43a28" opacity="0.25"/><rect x="91.5" y="224.3" width="11.4" height="1.0" fill="#fff6f0" opacity="0.09"/><rect x="95.1" y="225.3" width="5.3" height="0.6" fill="#d43a28" opacity="0.21"/><rect x="89.4" y="225.3" width="8.6" height="0.6" fill="#d43a28" opacity="0.19"/><rect x="112.3" y="225.9" width="3.9" height="0.8" fill="#d43a28" opacity="0.50"/><rect x="80.6" y="225.9" width="6.9" height="0.8" fill="#d43a28" opacity="0.22"/><rect x="113.5" y="225.9" width="2.7" height="0.8" fill="#d43a28" opacity="0.33"/><rect x="93.7" y="225.9" width="2.6" height="0.8" fill="#d43a28" opacity="0.39"/><rect x="109.9" y="225.9" width="6.3" height="0.8" fill="#fff6f0" opacity="0.16"/><rect x="95.4" y="226.7" width="11.6" height="0.8" fill="#d43a28" opacity="0.23"/><rect x="90.2" y="226.7" width="5.5" height="0.8" fill="#fff6f0" opacity="0.08"/><rect x="112.4" y="227.5" width="3.8" height="1.0" fill="#d43a28" opacity="0.12"/><rect x="108.4" y="227.5" width="7.8" height="1.0" fill="#d43a28" opacity="0.48"/><rect x="79.4" y="228.5" width="2.8" height="0.8" fill="#d43a28" opacity="0.38"/><rect x="77.5" y="229.3" width="9.7" height="1.0" fill="#d43a28" opacity="0.25"/><rect x="101.4" y="230.3" width="6.6" height="1.0" fill="#d43a28" opacity="0.27"/><rect x="74.0" y="230.3" width="2.7" height="1.0" fill="#d43a28" opacity="0.35"/><rect x="73.4" y="230.3" width="10.6" height="1.0" fill="#d43a28" opacity="0.41"/><rect x="68.0" y="230.3" width="4.9" height="1.0" fill="#d43a28" opacity="0.12"/><rect x="96.5" y="231.3" width="6.4" height="1.2" fill="#d43a28" opacity="0.30"/><rect x="89.8" y="231.3" width="4.4" height="1.2" fill="#d43a28" opacity="0.16"/><rect x="76.1" y="231.3" width="5.5" height="1.2" fill="#d43a28" opacity="0.25"/><rect x="72.4" y="231.3" width="7.0" height="1.2" fill="#fff6f0" opacity="0.21"/><rect x="102.0" y="232.5" width="10.5" height="1.2" fill="#d43a28" opacity="0.39"/><rect x="112.8" y="232.5" width="3.4" height="1.2" fill="#fff6f0" opacity="0.15"/><rect x="81.7" y="232.5" width="6.0" height="1.2" fill="#fff6f0" opacity="0.07"/><rect x="68.0" y="233.7" width="11.6" height="1.0" fill="#d43a28" opacity="0.30"/><rect x="96.5" y="234.7" width="3.7" height="0.6" fill="#d43a28" opacity="0.11"/><rect x="103.7" y="234.7" width="8.4" height="0.6" fill="#d43a28" opacity="0.22"/><rect x="95.9" y="234.7" width="6.5" height="0.6" fill="#d43a28" opacity="0.11"/><rect x="75.8" y="235.3" width="12.0" height="1.0" fill="#d43a28" opacity="0.35"/><rect x="88.1" y="235.3" width="2.2" height="1.0" fill="#d43a28" opacity="0.35"/><rect x="104.3" y="235.3" width="11.5" height="1.0" fill="#d43a28" opacity="0.27"/><rect x="99.5" y="235.3" width="3.5" height="1.0" fill="#d43a28" opacity="0.08"/><rect x="96.5" y="235.3" width="11.5" height="1.0" fill="#fff6f0" opacity="0.20"/><rect x="74.4" y="235.3" width="13.8" height="1.0" fill="#fff6f0" opacity="0.25"/><rect x="105.7" y="237.3" width="5.3" height="0.8" fill="#d43a28" opacity="0.14"/><rect x="75.1" y="237.3" width="13.0" height="0.8" fill="#d43a28" opacity="0.33"/><rect x="107.9" y="238.1" width="2.4" height="0.8" fill="#d43a28" opacity="0.25"/><rect x="105.9" y="238.1" width="7.5" height="0.8" fill="#d43a28" opacity="0.13"/><rect x="99.0" y="238.1" width="3.4" height="0.8" fill="#fff6f0" opacity="0.07"/><rect x="107.2" y="238.1" width="3.3" height="0.8" fill="#fff6f0" opacity="0.20"/><rect x="100.9" y="238.9" width="13.5" height="1.0" fill="#d43a28" opacity="0.22"/><rect x="103.1" y="238.9" width="6.7" height="1.0" fill="#fff6f0" opacity="0.17"/><rect x="79.0" y="238.9" width="15.3" height="1.0" fill="#fff6f0" opacity="0.16"/><rect x="86.9" y="239.9" width="12.6" height="0.6" fill="#d43a28" opacity="0.28"/><rect x="100.4" y="239.9" width="12.7" height="0.6" fill="#fff6f0" opacity="0.24"/></g>
<polygon points="86.99,213.50 87.18,214.71 87.17,215.92 87.32,217.12 87.07,218.33 86.88,219.54 87.01,220.75 87.30,221.96 87.22,223.17 87.54,224.38 87.12,225.58 87.14,226.79 87.51,228.00 87.61,229.21 87.17,230.42 87.23,231.62 87.51,232.83 87.88,234.04 87.79,235.25 87.65,236.46 87.85,237.67 87.42,238.88 87.38,240.08 87.76,241.29 87.57,242.50 95.62,242.50 94.96,241.29 95.28,240.08 95.60,238.88 95.13,237.67 95.10,236.46 95.57,235.25 95.56,234.04 95.23,232.83 95.47,231.62 95.42,230.42 95.55,229.21 95.82,228.00 95.65,226.79 95.76,225.58 95.82,224.38 95.96,223.17 95.33,221.96 95.52,220.75 95.74,219.54 95.77,218.33 95.69,217.12 95.37,215.92 95.79,214.71 96.05,213.50" fill="#ee6248" opacity="0.45" filter="url(#bl2)"/>
<polygon points="90.32,213.50 90.24,214.71 89.43,215.92 89.76,217.12 90.03,218.33 89.52,219.54 89.92,220.75 89.61,221.96 89.93,223.17 89.78,224.38 89.67,225.58 89.49,226.79 89.83,228.00 90.00,229.21 89.96,230.42 89.88,231.62 90.31,232.83 89.76,234.04 89.84,235.25 89.86,236.46 89.88,237.67 90.37,238.88 90.14,240.08 89.75,241.29 90.16,242.50 94.09,242.50 94.44,241.29 94.20,240.08 94.17,238.88 94.52,237.67 94.60,236.46 94.74,235.25 94.67,234.04 94.35,232.83 94.47,231.62 94.57,230.42 94.49,229.21 94.03,228.00 94.44,226.79 94.31,225.58 94.74,224.38 94.26,223.17 94.21,221.96 94.47,220.75 94.43,219.54 94.46,218.33 94.33,217.12 94.53,215.92 94.46,214.71 94.35,213.50" fill="#dc1a10" opacity="1.0" filter="url(#bl1)"/>
</svg>
<rect x="68.00" y="215.50" width="48.20" height="25.00" fill="none" stroke="#828282" stroke-width="1.4"/>
<svg x="118" y="215.5" width="48.2" height="25" viewBox="118 215.5 48.2 25" overflow="hidden">
<rect x="118.00" y="215.50" width="48.20" height="25.00" fill="#fbe4dd" />
<g filter="url(#bl3)"><rect x="118.0" y="215.5" width="2.3" height="0.8" fill="#e8907a" opacity="0.25"/><rect x="124.5" y="215.5" width="9.9" height="0.8" fill="#e8907a" opacity="0.14"/><rect x="131.4" y="216.3" width="3.8" height="1.0" fill="#e8907a" opacity="0.11"/><rect x="157.1" y="216.3" width="9.1" height="1.0" fill="#e8907a" opacity="0.20"/><rect x="122.4" y="217.3" width="2.5" height="0.8" fill="#e8907a" opacity="0.11"/><rect x="130.7" y="217.3" width="3.3" height="0.8" fill="#e8907a" opacity="0.12"/><rect x="125.6" y="217.3" width="2.4" height="0.8" fill="#e8907a" opacity="0.14"/><rect x="136.9" y="218.1" width="4.2" height="1.2" fill="#e8907a" opacity="0.17"/><rect x="148.9" y="219.3" width="3.9" height="0.8" fill="#e8907a" opacity="0.17"/><rect x="144.4" y="219.3" width="4.2" height="0.8" fill="#e8907a" opacity="0.22"/><rect x="124.7" y="219.3" width="10.4" height="0.8" fill="#e8907a" opacity="0.18"/><rect x="125.6" y="220.1" width="5.5" height="0.6" fill="#e8907a" opacity="0.19"/><rect x="152.7" y="220.1" width="7.8" height="0.6" fill="#e8907a" opacity="0.17"/><rect x="132.6" y="220.1" width="11.6" height="0.6" fill="#e8907a" opacity="0.20"/><rect x="144.0" y="220.7" width="3.4" height="0.6" fill="#e8907a" opacity="0.22"/><rect x="131.4" y="221.3" width="12.5" height="0.6" fill="#e8907a" opacity="0.18"/><rect x="129.2" y="221.9" width="10.1" height="0.8" fill="#e8907a" opacity="0.23"/><rect x="119.6" y="221.9" width="5.6" height="0.8" fill="#e8907a" opacity="0.08"/><rect x="152.8" y="224.7" width="3.6" height="0.6" fill="#e8907a" opacity="0.15"/><rect x="124.3" y="225.3" width="8.4" height="1.0" fill="#e8907a" opacity="0.20"/><rect x="151.0" y="226.3" width="5.1" height="1.2" fill="#e8907a" opacity="0.21"/><rect x="125.7" y="226.3" width="5.2" height="1.2" fill="#e8907a" opacity="0.16"/><rect x="140.9" y="226.3" width="8.0" height="1.2" fill="#e8907a" opacity="0.15"/><rect x="123.3" y="227.5" width="10.7" height="1.2" fill="#e8907a" opacity="0.04"/><rect x="154.2" y="228.7" width="4.5" height="0.8" fill="#e8907a" opacity="0.06"/><rect x="131.5" y="229.5" width="10.0" height="1.2" fill="#e8907a" opacity="0.13"/><rect x="137.0" y="229.5" width="6.0" height="1.2" fill="#e8907a" opacity="0.22"/><rect x="122.2" y="229.5" width="6.1" height="1.2" fill="#e8907a" opacity="0.10"/><rect x="127.9" y="231.7" width="6.7" height="1.0" fill="#e8907a" opacity="0.16"/><rect x="140.2" y="232.7" width="8.9" height="0.6" fill="#e8907a" opacity="0.10"/><rect x="118.0" y="232.7" width="9.3" height="0.6" fill="#e8907a" opacity="0.09"/><rect x="137.5" y="233.3" width="6.2" height="0.6" fill="#e8907a" opacity="0.18"/><rect x="130.3" y="233.9" width="9.2" height="1.0" fill="#e8907a" opacity="0.19"/><rect x="132.7" y="233.9" width="2.9" height="1.0" fill="#e8907a" opacity="0.14"/><rect x="138.6" y="234.9" width="7.1" height="0.6" fill="#e8907a" opacity="0.09"/><rect x="120.7" y="235.5" width="12.8" height="0.8" fill="#e8907a" opacity="0.05"/><rect x="127.5" y="235.5" width="4.6" height="0.8" fill="#e8907a" opacity="0.11"/><rect x="118.0" y="237.1" width="2.6" height="0.8" fill="#e8907a" opacity="0.19"/><rect x="125.3" y="237.1" width="5.0" height="0.8" fill="#e8907a" opacity="0.11"/><rect x="150.7" y="237.9" width="3.2" height="1.0" fill="#e8907a" opacity="0.05"/><rect x="139.7" y="237.9" width="2.0" height="1.0" fill="#e8907a" opacity="0.18"/><rect x="158.0" y="238.9" width="8.2" height="1.2" fill="#e8907a" opacity="0.07"/></g>
<line x1="142.10" y1="215.50" x2="142.10" y2="240.50" stroke="#e6b3a5" stroke-width="0.6" />
</svg>
<rect x="118.00" y="215.50" width="48.20" height="25.00" fill="none" stroke="#828282" stroke-width="1.4"/>
<svg x="168" y="215.5" width="48.2" height="25" viewBox="168 215.5 48.2 25" overflow="hidden">
<rect x="168.00" y="215.50" width="48.20" height="25.00" fill="#f9ddd4" />
<g filter="url(#bl3)"><rect x="168.0" y="216.7" width="9.5" height="1.0" fill="#e8907a" opacity="0.05"/><rect x="188.2" y="218.7" width="6.6" height="1.0" fill="#e8907a" opacity="0.19"/><rect x="182.0" y="218.7" width="3.0" height="1.0" fill="#e8907a" opacity="0.04"/><rect x="189.7" y="218.7" width="11.3" height="1.0" fill="#e8907a" opacity="0.13"/><rect x="168.0" y="219.7" width="11.1" height="1.0" fill="#e8907a" opacity="0.21"/><rect x="214.2" y="219.7" width="2.0" height="1.0" fill="#e8907a" opacity="0.12"/><rect x="195.5" y="219.7" width="5.3" height="1.0" fill="#e8907a" opacity="0.23"/><rect x="190.3" y="220.7" width="12.9" height="0.8" fill="#e8907a" opacity="0.21"/><rect x="208.1" y="220.7" width="2.5" height="0.8" fill="#e8907a" opacity="0.22"/><rect x="202.6" y="220.7" width="2.6" height="0.8" fill="#e8907a" opacity="0.20"/><rect x="210.3" y="221.5" width="4.0" height="0.6" fill="#e8907a" opacity="0.14"/><rect x="193.0" y="221.5" width="2.8" height="0.6" fill="#e8907a" opacity="0.18"/><rect x="172.7" y="221.5" width="10.7" height="0.6" fill="#e8907a" opacity="0.14"/><rect x="178.1" y="222.1" width="2.0" height="1.2" fill="#e8907a" opacity="0.12"/><rect x="206.8" y="222.1" width="9.4" height="1.2" fill="#e8907a" opacity="0.08"/><rect x="168.3" y="223.3" width="4.2" height="1.2" fill="#e8907a" opacity="0.18"/><rect x="186.5" y="223.3" width="9.2" height="1.2" fill="#e8907a" opacity="0.08"/><rect x="190.9" y="225.7" width="12.4" height="1.2" fill="#e8907a" opacity="0.18"/><rect x="182.6" y="225.7" width="8.9" height="1.2" fill="#e8907a" opacity="0.08"/><rect x="188.8" y="227.7" width="10.6" height="0.8" fill="#e8907a" opacity="0.09"/><rect x="209.6" y="227.7" width="6.5" height="0.8" fill="#e8907a" opacity="0.05"/><rect x="178.5" y="229.5" width="12.1" height="1.0" fill="#e8907a" opacity="0.23"/><rect x="182.2" y="229.5" width="2.0" height="1.0" fill="#e8907a" opacity="0.09"/><rect x="189.2" y="229.5" width="5.6" height="1.0" fill="#e8907a" opacity="0.19"/><rect x="177.4" y="231.3" width="2.0" height="0.6" fill="#e8907a" opacity="0.05"/><rect x="188.4" y="231.3" width="5.9" height="0.6" fill="#e8907a" opacity="0.13"/><rect x="181.3" y="232.9" width="7.2" height="0.6" fill="#e8907a" opacity="0.19"/><rect x="212.9" y="234.3" width="3.3" height="1.0" fill="#e8907a" opacity="0.20"/><rect x="210.8" y="234.3" width="5.4" height="1.0" fill="#e8907a" opacity="0.05"/><rect x="169.6" y="234.3" width="5.7" height="1.0" fill="#e8907a" opacity="0.13"/><rect x="173.6" y="235.3" width="5.6" height="0.6" fill="#e8907a" opacity="0.14"/><rect x="177.1" y="235.3" width="12.4" height="0.6" fill="#e8907a" opacity="0.16"/><rect x="206.9" y="235.9" width="9.3" height="1.2" fill="#e8907a" opacity="0.06"/><rect x="168.0" y="235.9" width="3.1" height="1.2" fill="#e8907a" opacity="0.17"/><rect x="178.1" y="238.3" width="9.3" height="0.6" fill="#e8907a" opacity="0.16"/><rect x="186.7" y="238.9" width="12.6" height="0.8" fill="#e8907a" opacity="0.16"/></g>
<line x1="192.10" y1="215.50" x2="192.10" y2="240.50" stroke="#e6b3a5" stroke-width="0.6" />
</svg>
<rect x="168.00" y="215.50" width="48.20" height="25.00" fill="none" stroke="#828282" stroke-width="1.4"/>
<svg x="18" y="242" width="48.2" height="4.3" viewBox="18 242 48.2 4.3" overflow="hidden">
<rect x="18.00" y="242.00" width="48.20" height="4.30" fill="url(#g8)" />
<g filter="url(#bl3)"><rect x="19.4" y="242.0" width="8.3" height="1.0" fill="#e06a55" opacity="0.03"/><rect x="28.4" y="242.0" width="10.5" height="1.0" fill="#e06a55" opacity="0.10"/><rect x="26.6" y="243.0" width="10.7" height="1.0" fill="#e06a55" opacity="0.10"/><rect x="39.4" y="243.0" width="4.7" height="1.0" fill="#e06a55" opacity="0.04"/><rect x="38.3" y="243.0" width="10.5" height="1.0" fill="#e06a55" opacity="0.03"/><rect x="46.1" y="244.0" width="11.8" height="0.8" fill="#e06a55" opacity="0.05"/><rect x="63.8" y="245.4" width="2.4" height="0.9" fill="#e06a55" opacity="0.05"/><rect x="60.9" y="245.4" width="5.3" height="0.9" fill="#e06a55" opacity="0.05"/><rect x="56.4" y="245.4" width="9.8" height="0.9" fill="#e06a55" opacity="0.03"/><rect x="22.3" y="245.4" width="2.2" height="0.9" fill="#e06a55" opacity="0.06"/><rect x="36.5" y="245.4" width="9.0" height="0.9" fill="#e06a55" opacity="0.03"/></g>
<polygon points="37.93,240.00 37.94,241.38 38.01,242.77 37.76,244.15 37.95,245.53 37.90,246.92 38.07,248.30 45.33,248.30 44.82,246.92 45.22,245.53 45.19,244.15 45.47,242.77 45.00,241.38 44.70,240.00" fill="#ee6248" opacity="0.45" filter="url(#bl2)"/>
<polygon points="40.43,240.00 40.33,241.38 40.88,242.77 40.55,244.15 40.63,245.53 40.53,246.92 40.84,248.30 43.69,248.30 43.40,246.92 43.88,245.53 43.34,244.15 43.82,242.77 43.43,241.38 44.08,240.00" fill="#d81e12" opacity="0.9" filter="url(#bl1)"/>
</svg>
<rect x="18.00" y="242.00" width="48.20" height="4.30" fill="none" stroke="#828282" stroke-width="1.3"/>
<svg x="68" y="242" width="48.2" height="4.3" viewBox="68 242 48.2 4.3" overflow="hidden">
<rect x="68.00" y="242.00" width="48.20" height="4.30" fill="url(#g9)" />
<g filter="url(#bl3)"><rect x="83.4" y="242.0" width="13.0" height="1.0" fill="#e06a55" opacity="0.06"/><rect x="100.5" y="242.0" width="4.8" height="1.0" fill="#e06a55" opacity="0.09"/><rect x="97.7" y="243.0" width="6.9" height="1.0" fill="#e06a55" opacity="0.04"/><rect x="102.6" y="243.0" width="12.4" height="1.0" fill="#e06a55" opacity="0.11"/><rect x="110.3" y="243.0" width="5.9" height="1.0" fill="#e06a55" opacity="0.02"/><rect x="93.6" y="243.0" width="13.1" height="1.0" fill="#e06a55" opacity="0.06"/><rect x="112.0" y="244.0" width="4.2" height="0.6" fill="#e06a55" opacity="0.09"/><rect x="77.4" y="244.6" width="10.4" height="1.2" fill="#e06a55" opacity="0.08"/><rect x="92.3" y="245.8" width="4.7" height="0.5" fill="#e06a55" opacity="0.01"/><rect x="83.4" y="245.8" width="13.5" height="0.5" fill="#e06a55" opacity="0.03"/><rect x="91.0" y="245.8" width="3.3" height="0.5" fill="#e06a55" opacity="0.05"/></g>
<polygon points="87.97,240.00 87.82,241.38 88.35,242.77 88.02,244.15 88.13,245.53 88.00,246.92 88.31,248.30 95.02,248.30 94.73,246.92 95.18,245.53 94.67,244.15 95.14,242.77 94.74,241.38 95.34,240.00" fill="#ee6248" opacity="0.45" filter="url(#bl2)"/>
<polygon points="90.47,240.00 90.62,241.38 90.56,242.77 90.49,244.15 90.76,245.53 90.40,246.92 90.66,248.30 93.30,248.30 93.50,246.92 93.74,245.53 94.17,244.15 93.81,242.77 93.39,241.38 93.95,240.00" fill="#d81e12" opacity="0.9" filter="url(#bl1)"/>
</svg>
<rect x="68.00" y="242.00" width="48.20" height="4.30" fill="none" stroke="#828282" stroke-width="1.3"/>
<svg x="118" y="242" width="48.2" height="4.3" viewBox="118 242 48.2 4.3" overflow="hidden">
<rect x="118.00" y="242.00" width="48.20" height="4.30" fill="#fbe8e2" />
<g filter="url(#bl3)"><rect x="152.7" y="242.0" width="6.8" height="0.8" fill="#e8907a" opacity="0.10"/></g>
<line x1="142.10" y1="242.00" x2="142.10" y2="246.30" stroke="#e6b3a5" stroke-width="0.6" />
</svg>
<rect x="118.00" y="242.00" width="48.20" height="4.30" fill="none" stroke="#828282" stroke-width="1.3"/>
<svg x="168" y="242" width="48.2" height="4.3" viewBox="168 242 48.2 4.3" overflow="hidden">
<rect x="168.00" y="242.00" width="48.20" height="4.30" fill="#fbe8e2" />
<g filter="url(#bl3)"><rect x="175.6" y="242.0" width="6.6" height="1.2" fill="#e8907a" opacity="0.06"/><rect x="177.4" y="243.2" width="13.0" height="1.2" fill="#e8907a" opacity="0.07"/><rect x="169.6" y="244.4" width="2.6" height="0.8" fill="#e8907a" opacity="0.05"/><rect x="184.0" y="244.4" width="7.5" height="0.8" fill="#e8907a" opacity="0.13"/><rect x="212.8" y="244.4" width="3.4" height="0.8" fill="#e8907a" opacity="0.08"/><rect x="178.5" y="245.2" width="5.3" height="1.0" fill="#e8907a" opacity="0.07"/><rect x="200.8" y="245.2" width="3.2" height="1.0" fill="#e8907a" opacity="0.04"/></g>
<line x1="192.10" y1="242.00" x2="192.10" y2="246.30" stroke="#e6b3a5" stroke-width="0.6" />
</svg>
<rect x="168.00" y="242.00" width="48.20" height="4.30" fill="none" stroke="#828282" stroke-width="1.3"/>
<line x1="18.00" y1="247.70" x2="66.20" y2="247.70" stroke="#666" stroke-width="0.9" stroke-dasharray="0.7,1.1"/>
<line x1="42.10" y1="247.20" x2="42.10" y2="249.50" stroke="#555" stroke-width="0.7" />
<line x1="68.00" y1="247.70" x2="116.20" y2="247.70" stroke="#666" stroke-width="0.9" stroke-dasharray="0.7,1.1"/>
<line x1="92.10" y1="247.20" x2="92.10" y2="249.50" stroke="#555" stroke-width="0.7" />
<line x1="118.00" y1="247.70" x2="166.20" y2="247.70" stroke="#666" stroke-width="0.9" stroke-dasharray="0.7,1.1"/>
<line x1="142.10" y1="247.20" x2="142.10" y2="249.50" stroke="#555" stroke-width="0.7" />
<line x1="168.00" y1="247.70" x2="216.20" y2="247.70" stroke="#666" stroke-width="0.9" stroke-dasharray="0.7,1.1"/>
<line x1="192.10" y1="247.20" x2="192.10" y2="249.50" stroke="#555" stroke-width="0.7" />
<text x="13.10" y="199.90" font-size="6.3" text-anchor="end" fill="#231f20" font-weight="normal" >1</text>
<line x1="16.00" y1="197.70" x2="18.00" y2="197.70" stroke="#555" stroke-width="0.6" />
<text x="13.10" y="208.40" font-size="6.3" text-anchor="end" fill="#231f20" font-weight="normal" >0.5</text>
<line x1="16.00" y1="206.20" x2="18.00" y2="206.20" stroke="#555" stroke-width="0.6" />
<text x="13.10" y="216.40" font-size="6.3" text-anchor="end" fill="#231f20" font-weight="normal" >0</text>
<line x1="16.00" y1="214.20" x2="18.00" y2="214.20" stroke="#555" stroke-width="0.6" />
<rect x="10.80" y="216.80" width="1.40" height="23.50" fill="#3c4a6b" />
<rect x="10.80" y="242.30" width="1.40" height="3.80" fill="#d0207a" />
<text x="43.70" y="258.80" font-size="6.5" text-anchor="middle" fill="#231f20" font-weight="normal" >start</text>
<text x="93.70" y="258.80" font-size="6.5" text-anchor="middle" fill="#231f20" font-weight="normal" >start</text>
<text x="143.70" y="258.80" font-size="6.5" text-anchor="middle" fill="#231f20" font-weight="normal" >start</text>
<text x="193.70" y="258.80" font-size="6.5" text-anchor="middle" fill="#231f20" font-weight="normal" >start</text>
<text x="0" y="0" font-size="6.6" fill="#231f20" stroke="#231f20" stroke-width="0.15" text-anchor="end" textLength="12.8" lengthAdjust="spacingAndGlyphs" transform="translate(21.38,253.30) rotate(-90)">−550</text>
<text x="0" y="0" font-size="6.6" fill="#231f20" stroke="#231f20" stroke-width="0.15" text-anchor="end" textLength="9.3" lengthAdjust="spacingAndGlyphs" transform="translate(66.68,253.30) rotate(-90)">550</text>
<text x="0" y="0" font-size="6.6" fill="#231f20" stroke="#231f20" stroke-width="0.15" text-anchor="end" textLength="12.8" lengthAdjust="spacingAndGlyphs" transform="translate(72.38,253.30) rotate(-90)">−550</text>
<text x="0" y="0" font-size="6.6" fill="#231f20" stroke="#231f20" stroke-width="0.15" text-anchor="end" textLength="9.3" lengthAdjust="spacingAndGlyphs" transform="translate(116.68,253.30) rotate(-90)">550</text>
<text x="0" y="0" font-size="6.6" fill="#231f20" stroke="#231f20" stroke-width="0.15" text-anchor="end" textLength="12.8" lengthAdjust="spacingAndGlyphs" transform="translate(122.38,253.30) rotate(-90)">−550</text>
<text x="0" y="0" font-size="6.6" fill="#231f20" stroke="#231f20" stroke-width="0.15" text-anchor="end" textLength="9.3" lengthAdjust="spacingAndGlyphs" transform="translate(166.38,253.30) rotate(-90)">550</text>
<text x="0" y="0" font-size="6.6" fill="#231f20" stroke="#231f20" stroke-width="0.15" text-anchor="end" textLength="12.8" lengthAdjust="spacingAndGlyphs" transform="translate(171.88,253.30) rotate(-90)">−550</text>
<text x="0" y="0" font-size="6.6" fill="#231f20" stroke="#231f20" stroke-width="0.15" text-anchor="end" textLength="9.3" lengthAdjust="spacingAndGlyphs" transform="translate(218.18,253.30) rotate(-90)">550</text>
<text x="220.50" y="192.70" font-size="6.5" text-anchor="start" fill="#231f20" font-weight="normal" >dba</text>
<rect x="220.50" y="197.30" width="3.30" height="3.30" fill="#334155" />
<text x="225.80" y="201.20" font-size="6.5" text-anchor="start" fill="#231f20" font-weight="normal" >STAT3<tspan font-size="4.2" dy="-2.8">Y640F</tspan><tspan dy="2.8"> stronger</tspan></text>
<rect x="220.50" y="204.20" width="3.30" height="3.30" fill="#cc1f80" />
<text x="225.80" y="208.10" font-size="6.5" text-anchor="start" fill="#231f20" font-weight="normal" >STAT3 stronger</text>
<text x="220.50" y="217.00" font-size="6.5" text-anchor="start" fill="#231f20" font-weight="normal" >signal</text>
<rect x="220.50" y="222.50" width="3.60" height="20.00" fill="url(#g5)" />
<text x="226.10" y="225.70" font-size="6.3" text-anchor="start" fill="#231f20" font-weight="normal" >0.8</text>
<text x="226.10" y="230.90" font-size="6.3" text-anchor="start" fill="#231f20" font-weight="normal" >0.6</text>
<text x="226.10" y="236.10" font-size="6.3" text-anchor="start" fill="#231f20" font-weight="normal" >0.4</text>
<text x="226.10" y="241.30" font-size="6.3" text-anchor="start" fill="#231f20" font-weight="normal" >0.2</text>
<text x="226.10" y="246.50" font-size="6.3" text-anchor="start" fill="#231f20" font-weight="normal" >0</text>
<text x="398.30" y="23.20" font-size="8.75" text-anchor="middle" fill="#231f20" font-weight="normal" >Differentially bound peaks (DBA)</text>
<circle cx="398.4" cy="68.8" r="36" fill="#14a04a"/>
<path d="M398.4,68.8 L398.4,32.8 A36,36 0 0 0 388.12,34.30 Z" fill="#4b5472"/>
<path d="M398.4,68.8 L398.4,32.8 A36,36 0 0 1 400.10,32.84 Z" fill="#d6157e"/>
<text x="397.70" y="113.30" font-size="6.5" text-anchor="middle" fill="#231f20" font-weight="normal" >Total = 11025</text>
<rect x="346.50" y="122.00" width="6.20" height="3.00" fill="#d6157e" />
<text x="356.60" y="125.80" font-size="6.5" text-anchor="start" fill="#231f20" font-weight="normal" >STAT3 stronger bound (83)</text>
<rect x="346.50" y="131.85" width="6.20" height="3.00" fill="#14a04a" />
<text x="356.60" y="135.65" font-size="6.5" text-anchor="start" fill="#231f20" font-weight="normal" >same binding profile (10434)</text>
<rect x="346.50" y="141.70" width="6.20" height="3.00" fill="#4b5472" />
<text x="356.60" y="145.50" font-size="6.5" text-anchor="start" fill="#231f20" font-weight="normal" >STAT3<tspan font-size="4.2" dy="-2.8">Y640F</tspan><tspan dy="2.8"> stronger bound (508)</tspan></text>
<text x="295.80" y="192.60" font-size="7.2" text-anchor="start" fill="#231f20" font-weight="normal"  textLength="18" lengthAdjust="spacingAndGlyphs">STAT3</text>
<line x1="316.20" y1="183.50" x2="316.20" y2="198.00" stroke="#231f20" stroke-width="0.8" />
<text x="318.20" y="187.30" font-size="6.7" text-anchor="start" fill="#231f20" font-weight="normal"  textLength="48" lengthAdjust="spacingAndGlyphs">HPC7 STAT3<tspan font-size="3.9" dy="-2.6">Y640F</tspan></text>
<text x="318.20" y="198.80" font-size="6.7" text-anchor="start" fill="#231f20" font-weight="normal"  textLength="36.4" lengthAdjust="spacingAndGlyphs">HPC7 STAT3</text>
<text x="318.20" y="211.40" font-size="6.7" text-anchor="start" fill="#231f20" font-weight="normal"  textLength="14.8" lengthAdjust="spacingAndGlyphs">input</text>
<text x="318.20" y="221.10" font-size="6.7" text-anchor="start" fill="#231f20" font-weight="normal"  textLength="41.3" lengthAdjust="spacingAndGlyphs">RefSeq Genes</text>
<text x="370.00" y="182.80" font-size="6.6" text-anchor="start" fill="#231f20" font-weight="normal"  textLength="18.5" lengthAdjust="spacingAndGlyphs">0-3.83</text>
<text x="370.00" y="194.40" font-size="6.6" text-anchor="start" fill="#231f20" font-weight="normal"  textLength="18.5" lengthAdjust="spacingAndGlyphs">0-3.83</text>
<text x="370.00" y="207.00" font-size="6.6" text-anchor="start" fill="#231f20" font-weight="normal"  textLength="18.5" lengthAdjust="spacingAndGlyphs">0-3.83</text>
<polygon points="369.50,185.90 369.50,185.51 370.00,185.30 370.49,185.32 370.99,185.47 371.49,185.40 371.98,185.42 372.48,185.35 372.98,185.31 373.47,185.52 373.97,185.54 374.47,185.30 374.96,185.42 375.46,185.32 375.96,185.55 376.45,185.42 376.95,185.33 377.45,185.48 377.94,185.27 378.44,185.28 378.94,185.54 379.43,185.54 379.93,185.39 380.43,185.27 380.92,185.44 381.42,185.49 381.92,185.42 382.41,185.54 382.91,185.48 383.41,185.42 383.90,185.40 384.40,185.48 384.90,185.48 385.39,185.48 385.89,185.41 386.39,185.46 386.88,185.54 387.38,185.30 387.88,185.38 388.37,185.36 388.87,185.49 389.37,185.25 389.86,185.29 390.36,185.51 390.86,185.44 391.35,185.32 391.85,185.32 392.35,185.24 392.84,185.38 393.34,185.25 393.84,185.28 394.33,185.38 394.83,185.27 395.33,185.16 395.82,185.15 396.32,185.22 396.82,185.17 397.31,185.31 397.81,185.23 398.31,185.04 398.80,185.14 399.30,185.20 399.80,185.09 400.29,185.04 400.79,185.06 401.29,185.16 401.78,185.15 402.28,185.15 402.78,185.10 403.27,185.20 403.77,185.26 404.27,185.26 404.76,185.42 405.26,185.44 405.76,185.26 406.25,185.19 406.75,185.32 407.25,185.40 407.74,185.47 408.24,185.38 408.74,185.24 409.23,185.31 409.73,185.38 410.23,185.29 410.72,185.48 411.22,185.39 411.72,185.26 412.21,185.38 412.71,185.41 413.21,185.47 413.70,185.39 414.20,185.26 414.70,185.55 415.19,185.31 415.69,185.30 416.19,185.28 416.68,185.33 417.18,185.31 417.68,185.39 418.17,185.38 418.67,185.42 419.17,185.53 419.66,185.28 420.16,185.37 420.66,185.48 421.15,185.39 421.65,185.39 422.15,185.42 422.64,185.41 423.14,185.34 423.64,185.30 424.13,185.29 424.63,185.32 425.13,185.43 425.62,185.34 426.12,185.33 426.62,185.18 427.11,185.08 427.61,185.07 428.11,185.05 428.60,185.03 429.10,185.18 429.60,185.00 430.09,185.05 430.59,185.23 431.09,185.26 431.58,185.27 432.08,185.07 432.58,185.25 433.07,185.31 433.57,185.18 434.07,185.29 434.56,185.40 435.06,185.39 435.56,185.30 436.05,185.43 436.55,185.41 437.05,185.30 437.54,185.38 438.04,185.43 438.54,185.39 439.03,185.53 439.53,185.43 440.03,185.42 440.52,185.49 441.02,185.52 441.52,185.28 442.01,185.40 442.51,185.49 443.01,185.37 443.50,185.30 444.00,185.54 444.50,185.54 444.99,185.51 445.49,185.33 445.99,185.50 446.48,185.34 446.98,185.35 447.48,185.39 447.97,185.48 448.47,185.26 448.97,185.31 449.46,185.40 449.96,185.48 450.46,185.36 450.95,185.43 451.45,185.38 451.95,185.45 452.44,185.36 452.94,185.53 453.44,185.46 453.93,185.26 454.43,185.29 454.93,185.45 455.42,185.28 455.92,185.44 456.42,185.24 456.91,185.28 457.41,185.35 457.91,185.37 458.40,185.39 458.90,185.06 459.40,185.23 459.89,184.89 460.39,184.75 460.89,184.75 461.38,184.77 461.88,184.48 462.38,184.39 462.87,184.44 463.37,184.51 463.87,184.59 464.36,184.67 464.86,184.81 465.36,184.78 465.85,184.96 466.35,185.13 466.85,185.25 467.34,185.16 467.84,185.33 468.34,185.31 468.83,185.21 469.33,184.82 469.83,184.53 470.32,184.48 470.82,184.09 471.32,183.68 471.81,183.10 472.31,182.76 472.81,182.47 473.30,182.08 473.80,181.49 474.30,180.98 474.79,180.48 475.29,180.18 475.79,179.53 476.28,179.08 476.78,178.63 477.28,177.96 477.77,177.66 478.27,176.98 478.77,176.62 479.26,176.04 479.76,175.26 480.26,174.90 480.75,174.16 481.25,173.63 481.75,174.00 482.24,174.70 482.74,175.26 483.24,175.81 483.73,176.18 484.23,176.78 484.73,177.20 485.22,177.73 485.72,178.46 486.22,178.83 486.71,179.46 487.21,179.96 487.71,180.41 488.20,180.64 488.70,181.11 489.20,181.53 489.69,182.10 490.19,182.43 490.69,182.78 491.18,183.28 491.68,183.58 492.18,184.02 492.67,184.38 493.17,184.61 493.67,184.67 494.16,184.98 494.66,185.02 495.16,185.14 495.65,185.14 496.15,184.93 496.65,184.86 497.14,185.04 497.64,184.79 498.14,184.91 498.63,184.87 499.13,184.60 499.63,184.84 500.12,184.77 500.62,184.56 501.12,184.74 501.61,184.86 502.11,184.88 502.61,184.89 503.10,184.77 503.60,184.99 504.10,184.76 504.59,184.93 505.09,184.74 505.59,184.74 506.08,184.89 506.58,184.86 507.08,184.76 507.57,184.83 508.07,184.64 508.57,184.80 509.06,184.81 509.56,184.53 510.06,184.76 510.55,184.71 511.05,184.78 511.55,184.85 512.04,184.95 512.54,184.70 513.04,184.68 513.53,184.67 514.03,184.92 514.53,184.89 515.02,184.79 515.52,184.72 516.02,184.91 516.51,184.94 517.01,185.02 517.51,185.22 518.00,185.20 518.50,185.33 518.50,185.90" fill="#1c4f8a"/>
<polygon points="369.50,198.20 369.50,197.61 370.00,197.62 370.49,197.88 370.99,197.87 371.49,197.65 371.98,197.68 372.48,197.70 372.98,197.81 373.47,197.72 373.97,197.72 374.47,197.73 374.96,197.85 375.46,197.77 375.96,197.78 376.45,197.68 376.95,197.60 377.45,197.62 377.94,197.74 378.44,197.77 378.94,197.82 379.43,197.89 379.93,197.89 380.43,197.76 380.92,197.80 381.42,197.79 381.92,197.63 382.41,197.74 382.91,197.73 383.41,197.83 383.90,197.89 384.40,197.80 384.90,197.86 385.39,197.75 385.89,197.60 386.39,197.70 386.88,197.85 387.38,197.63 387.88,197.66 388.37,197.68 388.87,197.63 389.37,197.67 389.86,197.66 390.36,197.79 390.86,197.61 391.35,197.61 391.85,197.85 392.35,197.67 392.84,197.69 393.34,197.76 393.84,197.74 394.33,197.75 394.83,197.62 395.33,197.75 395.82,197.65 396.32,197.79 396.82,197.64 397.31,197.63 397.81,197.76 398.31,197.73 398.80,197.62 399.30,197.68 399.80,197.75 400.29,197.83 400.79,197.80 401.29,197.69 401.78,197.85 402.28,197.63 402.78,197.82 403.27,197.63 403.77,197.81 404.27,197.61 404.76,197.69 405.26,197.75 405.76,197.74 406.25,197.70 406.75,197.72 407.25,197.81 407.74,197.84 408.24,197.75 408.74,197.62 409.23,197.71 409.73,197.88 410.23,197.65 410.72,197.68 411.22,197.63 411.72,197.84 412.21,197.68 412.71,197.88 413.21,197.70 413.70,197.82 414.20,197.83 414.70,197.64 415.19,197.87 415.69,197.74 416.19,197.64 416.68,197.83 417.18,197.84 417.68,197.64 418.17,197.77 418.67,197.68 419.17,197.89 419.66,197.79 420.16,197.85 420.66,197.70 421.15,197.88 421.65,197.61 422.15,197.89 422.64,197.68 423.14,197.89 423.64,197.82 424.13,197.66 424.63,197.85 425.13,197.84 425.62,197.69 426.12,197.78 426.62,197.89 427.11,197.60 427.61,197.85 428.11,197.89 428.60,197.80 429.10,197.72 429.60,197.68 430.09,197.87 430.59,197.80 431.09,197.89 431.58,197.77 432.08,197.67 432.58,197.68 433.07,197.63 433.57,197.67 434.07,197.64 434.56,197.69 435.06,197.76 435.56,197.83 436.05,197.70 436.55,197.81 437.05,197.87 437.54,197.77 438.04,197.64 438.54,197.86 439.03,197.72 439.53,197.78 440.03,197.75 440.52,197.86 441.02,197.61 441.52,197.82 442.01,197.72 442.51,197.77 443.01,197.89 443.50,197.73 444.00,197.86 444.50,197.88 444.99,197.89 445.49,197.85 445.99,197.87 446.48,197.71 446.98,197.75 447.48,197.60 447.97,197.62 448.47,197.60 448.97,197.83 449.46,197.77 449.96,197.82 450.46,197.72 450.95,197.71 451.45,197.66 451.95,197.69 452.44,197.82 452.94,197.77 453.44,197.74 453.93,197.90 454.43,197.89 454.93,197.78 455.42,197.87 455.92,197.68 456.42,197.83 456.91,197.87 457.41,197.85 457.91,197.83 458.40,197.83 458.90,197.74 459.40,197.76 459.89,197.81 460.39,197.71 460.89,197.84 461.38,197.63 461.88,197.61 462.38,197.68 462.87,197.77 463.37,197.75 463.87,197.73 464.36,197.88 464.86,197.77 465.36,197.74 465.85,197.85 466.35,197.87 466.85,197.66 467.34,197.79 467.84,197.73 468.34,197.52 468.83,197.50 469.33,197.46 469.83,197.11 470.32,197.14 470.82,197.08 471.32,196.71 471.81,196.70 472.31,196.45 472.81,196.10 473.30,195.95 473.80,195.95 474.30,195.61 474.79,195.40 475.29,195.16 475.79,195.02 476.28,194.68 476.78,194.61 477.28,194.31 477.77,194.04 478.27,193.63 478.77,193.65 479.26,193.19 479.76,193.17 480.26,193.30 480.75,193.59 481.25,193.80 481.75,193.95 482.24,194.28 482.74,194.59 483.24,194.81 483.73,195.04 484.23,195.03 484.73,195.30 485.22,195.41 485.72,195.69 486.22,196.09 486.71,196.09 487.21,196.24 487.71,196.44 488.20,196.68 488.70,196.88 489.20,197.00 489.69,197.04 490.19,197.32 490.69,197.35 491.18,197.45 491.68,197.37 492.18,197.45 492.67,197.37 493.17,197.37 493.67,197.51 494.16,197.53 494.66,197.47 495.16,197.56 495.65,197.54 496.15,197.50 496.65,197.46 497.14,197.59 497.64,197.53 498.14,197.74 498.63,197.64 499.13,197.40 499.63,197.59 500.12,197.43 500.62,197.43 501.12,197.31 501.61,196.94 502.11,196.79 502.61,196.77 503.10,196.82 503.60,196.68 504.10,196.65 504.59,196.50 505.09,196.51 505.59,196.64 506.08,196.70 506.58,196.93 507.08,196.92 507.57,196.92 508.07,197.11 508.57,197.42 509.06,197.40 509.56,197.43 510.06,197.64 510.55,197.50 511.05,197.67 511.55,197.63 512.04,197.74 512.54,197.58 513.04,197.65 513.53,197.72 514.03,197.85 514.53,197.77 515.02,197.89 515.52,197.72 516.02,197.64 516.51,197.85 517.01,197.75 517.51,197.76 518.00,197.78 518.50,197.69 518.50,198.20" fill="#1c4f8a"/>
<polygon points="369.50,209.80 369.50,209.50 370.00,209.44 370.49,209.48 370.99,209.43 371.49,209.42 371.98,209.54 372.48,209.55 372.98,209.38 373.47,209.50 373.97,209.50 374.47,209.35 374.96,209.46 375.46,209.38 375.96,209.45 376.45,209.42 376.95,209.52 377.45,209.42 377.94,209.38 378.44,209.45 378.94,209.40 379.43,209.42 379.93,209.54 380.43,209.40 380.92,209.43 381.42,209.49 381.92,209.54 382.41,209.38 382.91,209.46 383.41,209.41 383.90,209.37 384.40,209.41 384.90,209.37 385.39,209.47 385.89,209.39 386.39,209.46 386.88,209.36 387.38,209.37 387.88,209.53 388.37,209.52 388.87,209.50 389.37,209.34 389.86,209.44 390.36,209.38 390.86,209.42 391.35,209.33 391.85,209.31 392.35,209.25 392.84,209.13 393.34,209.07 393.84,208.94 394.33,208.94 394.83,208.87 395.33,208.88 395.82,208.89 396.32,209.00 396.82,209.17 397.31,209.10 397.81,209.15 398.31,209.22 398.80,209.34 399.30,209.34 399.80,209.47 400.29,209.36 400.79,209.42 401.29,209.49 401.78,209.53 402.28,209.38 402.78,209.35 403.27,209.53 403.77,209.39 404.27,209.47 404.76,209.52 405.26,209.49 405.76,209.40 406.25,209.38 406.75,209.54 407.25,209.43 407.74,209.54 408.24,209.41 408.74,209.48 409.23,209.37 409.73,209.35 410.23,209.45 410.72,209.35 411.22,209.49 411.72,209.53 412.21,209.43 412.71,209.54 413.21,209.51 413.70,209.46 414.20,209.42 414.70,209.50 415.19,209.50 415.69,209.31 416.19,209.39 416.68,209.21 417.18,209.16 417.68,209.20 418.17,209.11 418.67,209.04 419.17,208.96 419.66,208.94 420.16,208.94 420.66,208.95 421.15,208.93 421.65,209.08 422.15,209.16 422.64,209.18 423.14,209.34 423.64,209.37 424.13,209.28 424.63,209.40 425.13,209.41 425.62,209.53 426.12,209.46 426.62,209.43 427.11,209.54 427.61,209.43 428.11,209.42 428.60,209.54 429.10,209.42 429.60,209.46 430.09,209.41 430.59,209.48 431.09,209.41 431.58,209.40 432.08,209.55 432.58,209.54 433.07,209.41 433.57,209.36 434.07,209.50 434.56,209.46 435.06,209.43 435.56,209.49 436.05,209.48 436.55,209.49 437.05,209.48 437.54,209.43 438.04,209.49 438.54,209.47 439.03,209.40 439.53,209.54 440.03,209.44 440.52,209.40 441.02,209.49 441.52,209.51 442.01,209.39 442.51,209.50 443.01,209.51 443.50,209.46 444.00,209.41 444.50,209.53 444.99,209.49 445.49,209.48 445.99,209.38 446.48,209.46 446.98,209.38 447.48,209.52 447.97,209.48 448.47,209.42 448.97,209.37 449.46,209.45 449.96,209.48 450.46,209.49 450.95,209.38 451.45,209.41 451.95,209.25 452.44,209.19 452.94,209.26 453.44,209.19 453.93,209.04 454.43,209.04 454.93,208.99 455.42,209.09 455.92,209.16 456.42,209.17 456.91,209.12 457.41,209.29 457.91,209.32 458.40,209.36 458.90,209.39 459.40,209.42 459.89,209.34 460.39,209.50 460.89,209.54 461.38,209.36 461.88,209.37 462.38,209.35 462.87,209.46 463.37,209.36 463.87,209.36 464.36,209.50 464.86,209.38 465.36,209.36 465.85,209.37 466.35,209.38 466.85,209.39 467.34,209.34 467.84,209.33 468.34,209.32 468.83,209.17 469.33,209.21 469.83,209.09 470.32,209.24 470.82,209.09 471.32,209.16 471.81,209.16 472.31,209.20 472.81,209.25 473.30,209.35 473.80,209.49 474.30,209.36 474.79,209.49 475.29,209.48 475.79,209.41 476.28,209.44 476.78,209.47 477.28,209.36 477.77,209.43 478.27,209.48 478.77,209.50 479.26,209.38 479.76,209.45 480.26,209.39 480.75,209.48 481.25,209.51 481.75,209.44 482.24,209.39 482.74,209.52 483.24,209.39 483.73,209.37 484.23,209.39 484.73,209.39 485.22,209.55 485.72,209.42 486.22,209.38 486.71,209.54 487.21,209.50 487.71,209.50 488.20,209.44 488.70,209.47 489.20,209.46 489.69,209.39 490.19,209.55 490.69,209.54 491.18,209.52 491.68,209.53 492.18,209.54 492.67,209.36 493.17,209.38 493.67,209.53 494.16,209.45 494.66,209.49 495.16,209.49 495.65,209.48 496.15,209.42 496.65,209.43 497.14,209.48 497.64,209.51 498.14,209.48 498.63,209.52 499.13,209.43 499.63,209.39 500.12,209.44 500.62,209.47 501.12,209.42 501.61,209.34 502.11,209.23 502.61,209.13 503.10,209.14 503.60,208.99 504.10,208.97 504.59,208.97 505.09,208.98 505.59,208.97 506.08,208.97 506.58,209.09 507.08,209.10 507.57,209.22 508.07,209.33 508.57,209.32 509.06,209.33 509.56,209.49 510.06,209.44 510.55,209.45 511.05,209.37 511.55,209.36 512.04,209.47 512.54,209.37 513.04,209.39 513.53,209.50 514.03,209.46 514.53,209.53 515.02,209.39 515.52,209.42 516.02,209.37 516.51,209.39 517.01,209.42 517.51,209.40 518.00,209.44 518.50,209.53 518.50,209.80" fill="#4f78b0"/>
<rect x="475.30" y="213.30" width="14.00" height="1.30" fill="#d03050" />
<rect x="369.50" y="217.80" width="79.00" height="1.50" fill="#111" />
<rect x="421.60" y="216.90" width="23.30" height="3.40" fill="#111" />
<rect x="448.00" y="218.10" width="18.70" height="0.90" fill="#a0a0a0" />
<rect x="466.70" y="217.50" width="15.30" height="2.20" fill="#111" />
<rect x="482.00" y="218.10" width="16.80" height="0.90" fill="#a0a0a0" />
<rect x="498.80" y="217.50" width="12.70" height="2.20" fill="#111" />
<rect x="511.50" y="218.10" width="2.00" height="0.90" fill="#a0a0a0" />
<rect x="513.50" y="217.50" width="5.00" height="2.20" fill="#111" />
<rect x="451.00" y="217.70" width="1.00" height="1.60" fill="#888" />
<rect x="455.00" y="217.70" width="1.00" height="1.60" fill="#888" />
<rect x="459.00" y="217.70" width="1.00" height="1.60" fill="#888" />
<rect x="463.00" y="217.70" width="1.00" height="1.60" fill="#888" />
<rect x="485.00" y="217.70" width="1.00" height="1.60" fill="#888" />
<rect x="489.00" y="217.70" width="1.00" height="1.60" fill="#888" />
<rect x="493.00" y="217.70" width="1.00" height="1.60" fill="#888" />
<text x="519.00" y="226.90" font-size="6.7" text-anchor="end" fill="#231f20" font-weight="normal" font-style="italic" textLength="17.4" lengthAdjust="spacingAndGlyphs">Socs3</text>
<text x="36.40" y="304.00" font-size="6.8" text-anchor="middle" fill="#231f20" font-weight="normal"  textLength="38.4" lengthAdjust="spacingAndGlyphs">empty vector</text>
<text x="90.20" y="304.00" font-size="6.8" text-anchor="middle" fill="#231f20" font-weight="normal"  textLength="18" lengthAdjust="spacingAndGlyphs">STAT3</text>
<text x="145.10" y="304.00" font-size="6.8" text-anchor="middle" fill="#231f20" font-weight="normal"  textLength="30.5" lengthAdjust="spacingAndGlyphs">STAT3<tspan font-size="4.1" dy="-2.8">Y640F</tspan></text>
<g shape-rendering="crispEdges"><rect x="6" y="308" width="19" height="1" fill="#9d8dcc"/><rect x="25" y="308" width="18" height="1" fill="#a393cf"/><rect x="43" y="308" width="18" height="1" fill="#aea0d4"/><rect x="61" y="308" width="18" height="1" fill="#e0b3d5"/><rect x="79" y="308" width="18" height="1" fill="#daaed3"/><rect x="97" y="308" width="18" height="1" fill="#e6bbd9"/><rect x="115" y="308" width="18" height="1" fill="#f3826b"/><rect x="133" y="308" width="18" height="1" fill="#f3856e"/><rect x="151" y="308" width="19" height="1" fill="#f37d65"/><rect x="6" y="309" width="19" height="2" fill="#9483c6"/><rect x="25" y="309" width="18" height="2" fill="#9888c9"/><rect x="43" y="309" width="18" height="2" fill="#9585c7"/><rect x="61" y="309" width="18" height="2" fill="#d4a9d0"/><rect x="79" y="309" width="18" height="2" fill="#e3b5d6"/><rect x="97" y="309" width="18" height="2" fill="#d8acd2"/><rect x="115" y="309" width="18" height="2" fill="#f3826b"/><rect x="133" y="309" width="18" height="2" fill="#f1765d"/><rect x="151" y="309" width="19" height="2" fill="#ef725b"/><rect x="6" y="311" width="19" height="1" fill="#9b8bcb"/><rect x="25" y="311" width="18" height="1" fill="#a192ce"/><rect x="43" y="311" width="18" height="1" fill="#9d8dcc"/><rect x="61" y="311" width="18" height="1" fill="#e3b5d6"/><rect x="79" y="311" width="18" height="1" fill="#e4b6d7"/><rect x="97" y="311" width="18" height="1" fill="#e4b7d7"/><rect x="115" y="311" width="18" height="1" fill="#f0735b"/><rect x="133" y="311" width="18" height="1" fill="#f27d64"/><rect x="151" y="311" width="19" height="1" fill="#ef715a"/><rect x="6" y="312" width="19" height="2" fill="#ab9dd3"/><rect x="25" y="312" width="18" height="2" fill="#aa9cd3"/><rect x="43" y="312" width="18" height="2" fill="#ab9cd3"/><rect x="61" y="312" width="18" height="2" fill="#e1b4d5"/><rect x="79" y="312" width="18" height="2" fill="#e3b5d6"/><rect x="97" y="312" width="18" height="2" fill="#e4b8d7"/><rect x="115" y="312" width="18" height="2" fill="#f38872"/><rect x="133" y="312" width="18" height="2" fill="#f4907c"/><rect x="151" y="312" width="19" height="2" fill="#f38872"/><rect x="6" y="314" width="19" height="1" fill="#a192ce"/><rect x="25" y="314" width="18" height="1" fill="#ac9dd3"/><rect x="43" y="314" width="18" height="1" fill="#a596d0"/><rect x="61" y="314" width="18" height="1" fill="#e1b3d5"/><rect x="79" y="314" width="18" height="1" fill="#e8c0dc"/><rect x="97" y="314" width="18" height="1" fill="#e7bdda"/><rect x="115" y="314" width="18" height="1" fill="#f48d78"/><rect x="133" y="314" width="18" height="1" fill="#f3816a"/><rect x="151" y="314" width="19" height="1" fill="#f27a61"/><rect x="6" y="315" width="19" height="1" fill="#9787c9"/><rect x="25" y="315" width="18" height="1" fill="#9c8bcb"/><rect x="43" y="315" width="18" height="1" fill="#9b8bcb"/><rect x="61" y="315" width="18" height="1" fill="#cda3cd"/><rect x="79" y="315" width="18" height="1" fill="#e7bedb"/><rect x="97" y="315" width="18" height="1" fill="#d7abd1"/><rect x="115" y="315" width="18" height="1" fill="#ef745c"/><rect x="133" y="315" width="18" height="1" fill="#f0765d"/><rect x="151" y="315" width="19" height="1" fill="#ee7059"/><rect x="6" y="316" width="19" height="1" fill="#9c8bcb"/><rect x="25" y="316" width="18" height="1" fill="#9c8ccc"/><rect x="43" y="316" width="18" height="1" fill="#a596d0"/><rect x="61" y="316" width="18" height="1" fill="#e4b7d7"/><rect x="79" y="316" width="18" height="1" fill="#e8c1dc"/><rect x="97" y="316" width="18" height="1" fill="#e4b7d7"/><rect x="115" y="316" width="18" height="1" fill="#f1785f"/><rect x="133" y="316" width="18" height="1" fill="#f1785f"/><rect x="151" y="316" width="19" height="1" fill="#f0765e"/><rect x="6" y="317" width="19" height="1" fill="#9d8dcc"/><rect x="25" y="317" width="18" height="1" fill="#9f8fcd"/><rect x="43" y="317" width="18" height="1" fill="#9b8bcb"/><rect x="61" y="317" width="18" height="1" fill="#e4b6d6"/><rect x="79" y="317" width="18" height="1" fill="#dfb1d4"/><rect x="97" y="317" width="18" height="1" fill="#ddb0d3"/><rect x="115" y="317" width="18" height="1" fill="#f17960"/><rect x="133" y="317" width="18" height="1" fill="#f3826b"/><rect x="151" y="317" width="19" height="1" fill="#f27b62"/><rect x="6" y="318" width="19" height="1" fill="#9c8ccc"/><rect x="25" y="318" width="18" height="1" fill="#a697d1"/><rect x="43" y="318" width="18" height="1" fill="#a798d1"/><rect x="61" y="318" width="18" height="1" fill="#e4b7d7"/><rect x="79" y="318" width="18" height="1" fill="#dfb1d4"/><rect x="97" y="318" width="18" height="1" fill="#e5b9d8"/><rect x="115" y="318" width="18" height="1" fill="#f27f67"/><rect x="133" y="318" width="18" height="1" fill="#f38871"/><rect x="151" y="318" width="19" height="1" fill="#f27b61"/><rect x="6" y="319" width="19" height="2" fill="#9a8acb"/><rect x="25" y="319" width="18" height="2" fill="#9d8dcc"/><rect x="43" y="319" width="18" height="2" fill="#9a89ca"/><rect x="61" y="319" width="18" height="2" fill="#ddb0d3"/><rect x="79" y="319" width="18" height="2" fill="#e4b5d6"/><rect x="97" y="319" width="18" height="2" fill="#e0b2d4"/><rect x="115" y="319" width="18" height="2" fill="#f17960"/><rect x="133" y="319" width="18" height="2" fill="#f0775f"/><rect x="151" y="319" width="19" height="2" fill="#f27e65"/><rect x="6" y="321" width="19" height="1" fill="#a090ce"/><rect x="25" y="321" width="18" height="1" fill="#a394cf"/><rect x="43" y="321" width="18" height="1" fill="#a99ad2"/><rect x="61" y="321" width="18" height="1" fill="#e3b4d5"/><rect x="79" y="321" width="18" height="1" fill="#e4b5d6"/><rect x="97" y="321" width="18" height="1" fill="#e4b7d6"/><rect x="115" y="321" width="18" height="1" fill="#f3866f"/><rect x="133" y="321" width="18" height="1" fill="#f3846c"/><rect x="151" y="321" width="19" height="1" fill="#f38972"/><rect x="6" y="322" width="19" height="2" fill="#9c8ccc"/><rect x="25" y="322" width="18" height="2" fill="#a191ce"/><rect x="43" y="322" width="18" height="2" fill="#a798d1"/><rect x="61" y="322" width="18" height="2" fill="#dbadd2"/><rect x="79" y="322" width="18" height="2" fill="#eac4de"/><rect x="97" y="322" width="18" height="2" fill="#e5b9d8"/><rect x="115" y="322" width="18" height="2" fill="#f27d64"/><rect x="133" y="322" width="18" height="2" fill="#f3856d"/><rect x="151" y="322" width="19" height="2" fill="#f48d77"/><rect x="6" y="324" width="19" height="1" fill="#a292cf"/><rect x="25" y="324" width="18" height="1" fill="#ad9ed4"/><rect x="43" y="324" width="18" height="1" fill="#aa9bd3"/><rect x="61" y="324" width="18" height="1" fill="#e5b8d7"/><rect x="79" y="324" width="18" height="1" fill="#e4b7d6"/><rect x="97" y="324" width="18" height="1" fill="#deb0d3"/><rect x="115" y="324" width="18" height="1" fill="#f3846c"/><rect x="133" y="324" width="18" height="1" fill="#f2826a"/><rect x="151" y="324" width="19" height="1" fill="#f4927d"/><rect x="6" y="325" width="19" height="1" fill="#a191cf"/><rect x="25" y="325" width="18" height="1" fill="#aa9bd3"/><rect x="43" y="325" width="18" height="1" fill="#a292cf"/><rect x="61" y="325" width="18" height="1" fill="#e6bbd9"/><rect x="79" y="325" width="18" height="1" fill="#e5b9d8"/><rect x="97" y="325" width="18" height="1" fill="#e5b9d8"/><rect x="115" y="325" width="18" height="1" fill="#f3846c"/><rect x="133" y="325" width="18" height="1" fill="#f4947f"/><rect x="151" y="325" width="19" height="1" fill="#f3846c"/><rect x="6" y="326" width="19" height="1" fill="#a090ce"/><rect x="25" y="326" width="18" height="1" fill="#9c8bcc"/><rect x="43" y="326" width="18" height="1" fill="#9f8fcd"/><rect x="61" y="326" width="18" height="1" fill="#e4b5d5"/><rect x="79" y="326" width="18" height="1" fill="#e5b8d7"/><rect x="97" y="326" width="18" height="1" fill="#dfb0d3"/><rect x="115" y="326" width="18" height="1" fill="#f17b61"/><rect x="133" y="326" width="18" height="1" fill="#f38c76"/><rect x="151" y="326" width="19" height="1" fill="#f0785f"/><rect x="6" y="327" width="19" height="1" fill="#9887c9"/><rect x="25" y="327" width="18" height="1" fill="#9685c8"/><rect x="43" y="327" width="18" height="1" fill="#9e8dcd"/><rect x="61" y="327" width="18" height="1" fill="#dbadd2"/><rect x="79" y="327" width="18" height="1" fill="#cea3cd"/><rect x="97" y="327" width="18" height="1" fill="#d7aad0"/><rect x="115" y="327" width="18" height="1" fill="#f07960"/><rect x="133" y="327" width="18" height="1" fill="#ef765e"/><rect x="151" y="327" width="19" height="1" fill="#f17a61"/><rect x="6" y="328" width="19" height="1" fill="#a292cf"/><rect x="25" y="328" width="18" height="1" fill="#9d8ccc"/><rect x="43" y="328" width="18" height="1" fill="#a999d2"/><rect x="61" y="328" width="18" height="1" fill="#e4b6d6"/><rect x="79" y="328" width="18" height="1" fill="#dfb0d3"/><rect x="97" y="328" width="18" height="1" fill="#e5b9d7"/><rect x="115" y="328" width="18" height="1" fill="#f28269"/><rect x="133" y="328" width="18" height="1" fill="#f27e64"/><rect x="151" y="328" width="19" height="1" fill="#f3866e"/><rect x="6" y="329" width="19" height="1" fill="#9e8dcd"/><rect x="25" y="329" width="18" height="1" fill="#9a89ca"/><rect x="43" y="329" width="18" height="1" fill="#a393d0"/><rect x="61" y="329" width="18" height="1" fill="#e2b3d4"/><rect x="79" y="329" width="18" height="1" fill="#e5b9d7"/><rect x="97" y="329" width="18" height="1" fill="#e5b8d7"/><rect x="115" y="329" width="18" height="1" fill="#f17b62"/><rect x="133" y="329" width="18" height="1" fill="#f2856d"/><rect x="151" y="329" width="19" height="1" fill="#f07860"/><rect x="6" y="330" width="19" height="1" fill="#9584c7"/><rect x="25" y="330" width="18" height="1" fill="#9e8dcd"/><rect x="43" y="330" width="18" height="1" fill="#9e8dcd"/><rect x="61" y="330" width="18" height="1" fill="#dfb0d3"/><rect x="79" y="330" width="18" height="1" fill="#daadd1"/><rect x="97" y="330" width="18" height="1" fill="#d5a8cf"/><rect x="115" y="330" width="18" height="1" fill="#f27e64"/><rect x="133" y="330" width="18" height="1" fill="#f2866d"/><rect x="151" y="330" width="19" height="1" fill="#ed735c"/><rect x="6" y="331" width="19" height="1" fill="#9d8ccc"/><rect x="25" y="331" width="18" height="1" fill="#9786c8"/><rect x="43" y="331" width="18" height="1" fill="#a292cf"/><rect x="61" y="331" width="18" height="1" fill="#cca1cc"/><rect x="79" y="331" width="18" height="1" fill="#daacd1"/><rect x="97" y="331" width="18" height="1" fill="#e6bad8"/><rect x="115" y="331" width="18" height="1" fill="#ed735b"/><rect x="133" y="331" width="18" height="1" fill="#ec715a"/><rect x="151" y="331" width="19" height="1" fill="#ed745c"/><rect x="6" y="332" width="19" height="1" fill="#9f8fce"/><rect x="25" y="332" width="18" height="1" fill="#a99ad3"/><rect x="43" y="332" width="18" height="1" fill="#a697d1"/><rect x="61" y="332" width="18" height="1" fill="#e5b8d7"/><rect x="79" y="332" width="18" height="1" fill="#e5b8d6"/><rect x="97" y="332" width="18" height="1" fill="#e6b9d7"/><rect x="115" y="332" width="18" height="1" fill="#f28369"/><rect x="133" y="332" width="18" height="1" fill="#f38a72"/><rect x="151" y="332" width="19" height="1" fill="#f17c62"/><rect x="6" y="333" width="19" height="1" fill="#9c8ccc"/><rect x="25" y="333" width="18" height="1" fill="#a494d0"/><rect x="43" y="333" width="18" height="1" fill="#ab9cd3"/><rect x="61" y="333" width="18" height="1" fill="#e3b4d4"/><rect x="79" y="333" width="18" height="1" fill="#e3b3d4"/><rect x="97" y="333" width="18" height="1" fill="#e7bcd9"/><rect x="115" y="333" width="18" height="1" fill="#f38d76"/><rect x="133" y="333" width="18" height="1" fill="#f28269"/><rect x="151" y="333" width="19" height="1" fill="#f38b73"/><rect x="6" y="334" width="19" height="2" fill="#a595d1"/><rect x="25" y="334" width="18" height="2" fill="#a08fce"/><rect x="43" y="334" width="18" height="2" fill="#a596d1"/><rect x="61" y="334" width="18" height="2" fill="#e5b8d7"/><rect x="79" y="334" width="18" height="2" fill="#e9c1db"/><rect x="97" y="334" width="18" height="2" fill="#e4b6d6"/><rect x="115" y="334" width="18" height="2" fill="#f38d76"/><rect x="133" y="334" width="18" height="2" fill="#f3907a"/><rect x="151" y="334" width="19" height="2" fill="#f38e77"/><rect x="6" y="336" width="19" height="1" fill="#a090ce"/><rect x="25" y="336" width="18" height="1" fill="#a191cf"/><rect x="43" y="336" width="18" height="1" fill="#a191cf"/><rect x="61" y="336" width="18" height="1" fill="#e9c1db"/><rect x="79" y="336" width="18" height="1" fill="#e1b2d3"/><rect x="97" y="336" width="18" height="1" fill="#e3b3d4"/><rect x="115" y="336" width="18" height="1" fill="#f17e64"/><rect x="133" y="336" width="18" height="1" fill="#f07c62"/><rect x="151" y="336" width="19" height="1" fill="#f38c75"/><rect x="6" y="337" width="19" height="1" fill="#9b8acb"/><rect x="25" y="337" width="18" height="1" fill="#a999d2"/><rect x="43" y="337" width="18" height="1" fill="#afa0d5"/><rect x="61" y="337" width="18" height="1" fill="#e4b4d4"/><rect x="79" y="337" width="18" height="1" fill="#dfb0d2"/><rect x="97" y="337" width="18" height="1" fill="#e7bcd9"/><rect x="115" y="337" width="18" height="1" fill="#f28369"/><rect x="133" y="337" width="18" height="1" fill="#f4947e"/><rect x="151" y="337" width="19" height="1" fill="#f2836a"/><rect x="6" y="338" width="19" height="1" fill="#9c8ccc"/><rect x="25" y="338" width="18" height="1" fill="#a495d0"/><rect x="43" y="338" width="18" height="1" fill="#a090ce"/><rect x="61" y="338" width="18" height="1" fill="#e6bbd8"/><rect x="79" y="338" width="18" height="1" fill="#e0b0d3"/><rect x="97" y="338" width="18" height="1" fill="#e5b6d6"/><rect x="115" y="338" width="18" height="1" fill="#f2886f"/><rect x="133" y="338" width="18" height="1" fill="#f2856c"/><rect x="151" y="338" width="19" height="1" fill="#f28870"/><rect x="6" y="339" width="19" height="1" fill="#9988ca"/><rect x="25" y="339" width="18" height="1" fill="#9d8dcd"/><rect x="43" y="339" width="18" height="1" fill="#9d8dcd"/><rect x="61" y="339" width="18" height="1" fill="#d3a7ce"/><rect x="79" y="339" width="18" height="1" fill="#d4a7ce"/><rect x="97" y="339" width="18" height="1" fill="#e4b4d4"/><rect x="115" y="339" width="18" height="1" fill="#f17e64"/><rect x="133" y="339" width="18" height="1" fill="#f38c74"/><rect x="151" y="339" width="19" height="1" fill="#f38a72"/><rect x="6" y="340" width="19" height="1" fill="#9685c8"/><rect x="25" y="340" width="18" height="1" fill="#9e8dcd"/><rect x="43" y="340" width="18" height="1" fill="#a191cf"/><rect x="61" y="340" width="18" height="1" fill="#e7bcd9"/><rect x="79" y="340" width="18" height="1" fill="#e6b9d7"/><rect x="97" y="340" width="18" height="1" fill="#e5b7d6"/><rect x="115" y="340" width="18" height="1" fill="#f07d63"/><rect x="133" y="340" width="18" height="1" fill="#f2866d"/><rect x="151" y="340" width="19" height="1" fill="#ef7a61"/><rect x="6" y="341" width="19" height="1" fill="#9b8bcc"/><rect x="25" y="341" width="18" height="1" fill="#9786c9"/><rect x="43" y="341" width="18" height="1" fill="#ab9cd4"/><rect x="61" y="341" width="18" height="1" fill="#e4b4d4"/><rect x="79" y="341" width="18" height="1" fill="#e4b3d4"/><rect x="97" y="341" width="18" height="1" fill="#d8aad0"/><rect x="115" y="341" width="18" height="1" fill="#f2886f"/><rect x="133" y="341" width="18" height="1" fill="#f07e64"/><rect x="151" y="341" width="19" height="1" fill="#ef7b62"/><rect x="6" y="342" width="19" height="2" fill="#9b8bcc"/><rect x="25" y="342" width="18" height="2" fill="#a08fce"/><rect x="43" y="342" width="18" height="2" fill="#a393d0"/><rect x="61" y="342" width="18" height="2" fill="#e8bfda"/><rect x="79" y="342" width="18" height="2" fill="#e4b3d4"/><rect x="97" y="342" width="18" height="2" fill="#e8beda"/><rect x="115" y="342" width="18" height="2" fill="#f28369"/><rect x="133" y="342" width="18" height="2" fill="#f2886f"/><rect x="151" y="342" width="19" height="2" fill="#f28369"/><rect x="6" y="344" width="19" height="1" fill="#9887ca"/><rect x="25" y="344" width="18" height="1" fill="#9c8ccc"/><rect x="43" y="344" width="18" height="1" fill="#9b8bcc"/><rect x="61" y="344" width="18" height="1" fill="#e4b4d4"/><rect x="79" y="344" width="18" height="1" fill="#e6b8d6"/><rect x="97" y="344" width="18" height="1" fill="#e1b1d3"/><rect x="115" y="344" width="18" height="1" fill="#f07d63"/><rect x="133" y="344" width="18" height="1" fill="#f38c74"/><rect x="151" y="344" width="19" height="1" fill="#f28369"/><rect x="6" y="345" width="19" height="1" fill="#9988ca"/><rect x="25" y="345" width="18" height="1" fill="#9e8dcd"/><rect x="43" y="345" width="18" height="1" fill="#afa0d6"/><rect x="61" y="345" width="18" height="1" fill="#e4b5d4"/><rect x="79" y="345" width="18" height="1" fill="#e5b7d6"/><rect x="97" y="345" width="18" height="1" fill="#e5b5d5"/><rect x="115" y="345" width="18" height="1" fill="#f28b72"/><rect x="133" y="345" width="18" height="1" fill="#f3937c"/><rect x="151" y="345" width="19" height="1" fill="#ee7960"/><rect x="6" y="346" width="19" height="1" fill="#9e8dcd"/><rect x="25" y="346" width="18" height="1" fill="#9988ca"/><rect x="43" y="346" width="18" height="1" fill="#9786c9"/><rect x="61" y="346" width="18" height="1" fill="#deaed1"/><rect x="79" y="346" width="18" height="1" fill="#e3b3d3"/><rect x="97" y="346" width="18" height="1" fill="#e2b2d3"/><rect x="115" y="346" width="18" height="1" fill="#ef7c63"/><rect x="133" y="346" width="18" height="1" fill="#ec745c"/><rect x="151" y="346" width="19" height="1" fill="#ee785f"/><rect x="6" y="347" width="19" height="1" fill="#a393d0"/><rect x="25" y="347" width="18" height="1" fill="#a392d0"/><rect x="43" y="347" width="18" height="1" fill="#a090cf"/><rect x="61" y="347" width="18" height="1" fill="#e1b1d2"/><rect x="79" y="347" width="18" height="1" fill="#e4b4d4"/><rect x="97" y="347" width="18" height="1" fill="#e0b0d2"/><rect x="115" y="347" width="18" height="1" fill="#f38e76"/><rect x="133" y="347" width="18" height="1" fill="#f2886e"/><rect x="151" y="347" width="19" height="1" fill="#f3927b"/><rect x="6" y="348" width="19" height="1" fill="#9584c8"/><rect x="25" y="348" width="18" height="1" fill="#9584c8"/><rect x="43" y="348" width="18" height="1" fill="#9280c5"/><rect x="61" y="348" width="18" height="1" fill="#d7a9cf"/><rect x="79" y="348" width="18" height="1" fill="#d4a7ce"/><rect x="97" y="348" width="18" height="1" fill="#c299c8"/><rect x="115" y="348" width="18" height="1" fill="#f18065"/><rect x="133" y="348" width="18" height="1" fill="#f18267"/><rect x="151" y="348" width="19" height="1" fill="#ed785f"/><rect x="6" y="349" width="19" height="1" fill="#9887ca"/><rect x="25" y="349" width="18" height="1" fill="#9d8ccd"/><rect x="43" y="349" width="18" height="1" fill="#a797d2"/><rect x="61" y="349" width="18" height="1" fill="#ddadd1"/><rect x="79" y="349" width="18" height="1" fill="#e5b6d5"/><rect x="97" y="349" width="18" height="1" fill="#e5b5d4"/><rect x="115" y="349" width="18" height="1" fill="#f2876d"/><rect x="133" y="349" width="18" height="1" fill="#f38e75"/><rect x="151" y="349" width="19" height="1" fill="#f07e64"/><rect x="6" y="350" width="19" height="1" fill="#9887c9"/><rect x="25" y="350" width="18" height="1" fill="#9d8ccd"/><rect x="43" y="350" width="18" height="1" fill="#9f8ece"/><rect x="61" y="350" width="18" height="1" fill="#ddaed1"/><rect x="79" y="350" width="18" height="1" fill="#e5b7d5"/><rect x="97" y="350" width="18" height="1" fill="#d3a6cd"/><rect x="115" y="350" width="18" height="1" fill="#ef7d63"/><rect x="133" y="350" width="18" height="1" fill="#ef7c62"/><rect x="151" y="350" width="19" height="1" fill="#f18166"/><rect x="6" y="351" width="19" height="1" fill="#9685c8"/><rect x="25" y="351" width="18" height="1" fill="#a090cf"/><rect x="43" y="351" width="18" height="1" fill="#9988cb"/><rect x="61" y="351" width="18" height="1" fill="#d4a6cd"/><rect x="79" y="351" width="18" height="1" fill="#d4a6cd"/><rect x="97" y="351" width="18" height="1" fill="#d0a3cc"/><rect x="115" y="351" width="18" height="1" fill="#ed775e"/><rect x="133" y="351" width="18" height="1" fill="#f2896f"/><rect x="151" y="351" width="19" height="1" fill="#f18267"/><rect x="6" y="352" width="19" height="1" fill="#9887ca"/><rect x="25" y="352" width="18" height="1" fill="#9f8ece"/><rect x="43" y="352" width="18" height="1" fill="#a291d0"/><rect x="61" y="352" width="18" height="1" fill="#e2b1d2"/><rect x="79" y="352" width="18" height="1" fill="#e6b8d6"/><rect x="97" y="352" width="18" height="1" fill="#e2b1d2"/><rect x="115" y="352" width="18" height="1" fill="#f08066"/><rect x="133" y="352" width="18" height="1" fill="#ef7d63"/><rect x="151" y="352" width="19" height="1" fill="#f2866b"/><rect x="6" y="353" width="19" height="1" fill="#9886c9"/><rect x="25" y="353" width="18" height="1" fill="#9d8ccd"/><rect x="43" y="353" width="18" height="1" fill="#a393d0"/><rect x="61" y="353" width="18" height="1" fill="#dbacd0"/><rect x="79" y="353" width="18" height="1" fill="#d4a6cd"/><rect x="97" y="353" width="18" height="1" fill="#e6b8d6"/><rect x="115" y="353" width="18" height="1" fill="#ee7b62"/><rect x="133" y="353" width="18" height="1" fill="#f18469"/><rect x="151" y="353" width="19" height="1" fill="#ef7f64"/><rect x="6" y="354" width="19" height="2" fill="#9988cb"/><rect x="25" y="354" width="18" height="2" fill="#9d8ccd"/><rect x="43" y="354" width="18" height="2" fill="#9c8bcc"/><rect x="61" y="354" width="18" height="2" fill="#e2b1d2"/><rect x="79" y="354" width="18" height="2" fill="#e4b3d3"/><rect x="97" y="354" width="18" height="2" fill="#cfa2cb"/><rect x="115" y="354" width="18" height="2" fill="#ef7e64"/><rect x="133" y="354" width="18" height="2" fill="#ef7c63"/><rect x="151" y="354" width="19" height="2" fill="#f2876c"/><rect x="6" y="356" width="19" height="1" fill="#9483c7"/><rect x="25" y="356" width="18" height="1" fill="#9382c7"/><rect x="43" y="356" width="18" height="1" fill="#9d8ccd"/><rect x="61" y="356" width="18" height="1" fill="#c99eca"/><rect x="79" y="356" width="18" height="1" fill="#d8aacf"/><rect x="97" y="356" width="18" height="1" fill="#daabcf"/><rect x="115" y="356" width="18" height="1" fill="#ee7a61"/><rect x="133" y="356" width="18" height="1" fill="#f08065"/><rect x="151" y="356" width="19" height="1" fill="#f18267"/><rect x="6" y="357" width="19" height="1" fill="#9887ca"/><rect x="25" y="357" width="18" height="1" fill="#9e8dcd"/><rect x="43" y="357" width="18" height="1" fill="#9f8fce"/><rect x="61" y="357" width="18" height="1" fill="#e5b6d5"/><rect x="79" y="357" width="18" height="1" fill="#e5b6d5"/><rect x="97" y="357" width="18" height="1" fill="#e2b1d2"/><rect x="115" y="357" width="18" height="1" fill="#f28c72"/><rect x="133" y="357" width="18" height="1" fill="#f18368"/><rect x="151" y="357" width="19" height="1" fill="#f18368"/><rect x="6" y="358" width="19" height="1" fill="#9d8ccd"/><rect x="25" y="358" width="18" height="1" fill="#9f8ece"/><rect x="43" y="358" width="18" height="1" fill="#a797d2"/><rect x="61" y="358" width="18" height="1" fill="#dcacd0"/><rect x="79" y="358" width="18" height="1" fill="#e6b7d5"/><rect x="97" y="358" width="18" height="1" fill="#e6b8d6"/><rect x="115" y="358" width="18" height="1" fill="#f1886d"/><rect x="133" y="358" width="18" height="1" fill="#ee7d63"/><rect x="151" y="358" width="19" height="1" fill="#f2896f"/><rect x="6" y="359" width="19" height="1" fill="#9a89cb"/><rect x="25" y="359" width="18" height="1" fill="#a494d1"/><rect x="43" y="359" width="18" height="1" fill="#a898d3"/><rect x="61" y="359" width="18" height="1" fill="#e2b1d2"/><rect x="79" y="359" width="18" height="1" fill="#e8bed9"/><rect x="97" y="359" width="18" height="1" fill="#e8bdd8"/><rect x="115" y="359" width="18" height="1" fill="#ef7f65"/><rect x="133" y="359" width="18" height="1" fill="#f08267"/><rect x="151" y="359" width="19" height="1" fill="#f29078"/><rect x="6" y="360" width="19" height="2" fill="#9685c9"/><rect x="25" y="360" width="18" height="2" fill="#9f8ece"/><rect x="43" y="360" width="18" height="2" fill="#a696d2"/><rect x="61" y="360" width="18" height="2" fill="#e0afd1"/><rect x="79" y="360" width="18" height="2" fill="#e6b6d5"/><rect x="97" y="360" width="18" height="2" fill="#e0afd1"/><rect x="115" y="360" width="18" height="2" fill="#ef8065"/><rect x="133" y="360" width="18" height="2" fill="#f1886d"/><rect x="151" y="360" width="19" height="2" fill="#ee7e64"/><rect x="6" y="362" width="19" height="1" fill="#a190cf"/><rect x="25" y="362" width="18" height="1" fill="#ad9ed5"/><rect x="43" y="362" width="18" height="1" fill="#a494d1"/><rect x="61" y="362" width="18" height="1" fill="#e5b6d4"/><rect x="79" y="362" width="18" height="1" fill="#e6b6d5"/><rect x="97" y="362" width="18" height="1" fill="#dbabcf"/><rect x="115" y="362" width="18" height="1" fill="#f3947b"/><rect x="133" y="362" width="18" height="1" fill="#f29178"/><rect x="151" y="362" width="19" height="1" fill="#f29178"/><rect x="6" y="363" width="19" height="1" fill="#a291d0"/><rect x="25" y="363" width="18" height="1" fill="#a191d0"/><rect x="43" y="363" width="18" height="1" fill="#9e8dce"/><rect x="61" y="363" width="18" height="1" fill="#e4b3d3"/><rect x="79" y="363" width="18" height="1" fill="#d7a8ce"/><rect x="97" y="363" width="18" height="1" fill="#e4b2d2"/><rect x="115" y="363" width="18" height="1" fill="#f28a6f"/><rect x="133" y="363" width="18" height="1" fill="#f29279"/><rect x="151" y="363" width="19" height="1" fill="#f1876c"/><rect x="6" y="366" width="19" height="1" fill="#9282c6"/><rect x="25" y="366" width="18" height="1" fill="#9c8dcc"/><rect x="43" y="366" width="18" height="1" fill="#9686c8"/><rect x="61" y="366" width="18" height="1" fill="#eab7d3"/><rect x="79" y="366" width="18" height="1" fill="#e8b3d1"/><rect x="97" y="366" width="18" height="1" fill="#e9b4d1"/><rect x="115" y="366" width="18" height="1" fill="#ee8d75"/><rect x="133" y="366" width="18" height="1" fill="#f0977e"/><rect x="151" y="366" width="19" height="1" fill="#f19d85"/><rect x="6" y="367" width="19" height="1" fill="#8f7ec4"/><rect x="25" y="367" width="18" height="1" fill="#9584c7"/><rect x="43" y="367" width="18" height="1" fill="#8f7ec4"/><rect x="61" y="367" width="18" height="1" fill="#e9b3d0"/><rect x="79" y="367" width="18" height="1" fill="#e9b4d1"/><rect x="97" y="367" width="18" height="1" fill="#e1accd"/><rect x="115" y="367" width="18" height="1" fill="#ee8f76"/><rect x="133" y="367" width="18" height="1" fill="#f19a82"/><rect x="151" y="367" width="19" height="1" fill="#ec856e"/><rect x="6" y="368" width="19" height="1" fill="#8977bf"/><rect x="25" y="368" width="18" height="1" fill="#8d7bc2"/><rect x="43" y="368" width="18" height="1" fill="#8e7dc3"/><rect x="61" y="368" width="18" height="1" fill="#cd9cc6"/><rect x="79" y="368" width="18" height="1" fill="#e8b0cf"/><rect x="97" y="368" width="18" height="1" fill="#dba6ca"/><rect x="115" y="368" width="18" height="1" fill="#f0937a"/><rect x="133" y="368" width="18" height="1" fill="#ee8f77"/><rect x="151" y="368" width="19" height="1" fill="#ed8971"/><rect x="6" y="369" width="19" height="1" fill="#9281c5"/><rect x="25" y="369" width="18" height="1" fill="#b0a1d4"/><rect x="43" y="369" width="18" height="1" fill="#ab9cd2"/><rect x="61" y="369" width="18" height="1" fill="#e9b4d1"/><rect x="79" y="369" width="18" height="1" fill="#e5adcd"/><rect x="97" y="369" width="18" height="1" fill="#e3abcc"/><rect x="115" y="369" width="18" height="1" fill="#f19c85"/><rect x="133" y="369" width="18" height="1" fill="#f0957c"/><rect x="151" y="369" width="19" height="1" fill="#f19a82"/><rect x="6" y="370" width="19" height="1" fill="#9482c5"/><rect x="25" y="370" width="18" height="1" fill="#a899d1"/><rect x="43" y="370" width="18" height="1" fill="#9987c9"/><rect x="61" y="370" width="18" height="1" fill="#e9b4d0"/><rect x="79" y="370" width="18" height="1" fill="#dca6c9"/><rect x="97" y="370" width="18" height="1" fill="#d9a3c8"/><rect x="115" y="370" width="18" height="1" fill="#f19b83"/><rect x="133" y="370" width="18" height="1" fill="#f19e87"/><rect x="151" y="370" width="19" height="1" fill="#f0977e"/><rect x="6" y="371" width="19" height="2" fill="#9280c4"/><rect x="25" y="371" width="18" height="2" fill="#a493ce"/><rect x="43" y="371" width="18" height="2" fill="#9785c7"/><rect x="61" y="371" width="18" height="2" fill="#e7adcc"/><rect x="79" y="371" width="18" height="2" fill="#e9b1ce"/><rect x="97" y="371" width="18" height="2" fill="#e8b0ce"/><rect x="115" y="371" width="18" height="2" fill="#f0957c"/><rect x="133" y="371" width="18" height="2" fill="#ee8f77"/><rect x="151" y="371" width="19" height="2" fill="#f19c84"/><rect x="6" y="373" width="19" height="2" fill="#9380c4"/><rect x="25" y="373" width="18" height="2" fill="#aa99d0"/><rect x="43" y="373" width="18" height="2" fill="#9c89c9"/><rect x="61" y="373" width="18" height="2" fill="#e7abca"/><rect x="79" y="373" width="18" height="2" fill="#e7abca"/><rect x="97" y="373" width="18" height="2" fill="#e2a7c8"/><rect x="115" y="373" width="18" height="2" fill="#ee8f77"/><rect x="133" y="373" width="18" height="2" fill="#f19d86"/><rect x="151" y="373" width="19" height="2" fill="#ee8e77"/><rect x="6" y="375" width="19" height="1" fill="#9480c4"/><rect x="25" y="375" width="18" height="1" fill="#9f8cca"/><rect x="43" y="375" width="18" height="1" fill="#9e8bca"/><rect x="61" y="375" width="18" height="1" fill="#d89ec4"/><rect x="79" y="375" width="18" height="1" fill="#e5a7c8"/><rect x="97" y="375" width="18" height="1" fill="#dda2c6"/><rect x="115" y="375" width="18" height="1" fill="#f19a82"/><rect x="133" y="375" width="18" height="1" fill="#ef937c"/><rect x="151" y="375" width="19" height="1" fill="#ed8d77"/><rect x="6" y="376" width="19" height="1" fill="#9e8ac9"/><rect x="25" y="376" width="18" height="1" fill="#a592cd"/><rect x="43" y="376" width="18" height="1" fill="#9f8bca"/><rect x="61" y="376" width="18" height="1" fill="#e4a6c7"/><rect x="79" y="376" width="18" height="1" fill="#e6a7c7"/><rect x="97" y="376" width="18" height="1" fill="#dfa2c5"/><rect x="115" y="376" width="18" height="1" fill="#f19b83"/><rect x="133" y="376" width="18" height="1" fill="#f19e87"/><rect x="151" y="376" width="19" height="1" fill="#f0977f"/><rect x="6" y="377" width="19" height="1" fill="#9e8ac9"/><rect x="25" y="377" width="18" height="1" fill="#a794ce"/><rect x="43" y="377" width="18" height="1" fill="#a490cc"/><rect x="61" y="377" width="18" height="1" fill="#e8adca"/><rect x="79" y="377" width="18" height="1" fill="#e8abc9"/><rect x="97" y="377" width="18" height="1" fill="#e4a5c6"/><rect x="115" y="377" width="18" height="1" fill="#ef957e"/><rect x="133" y="377" width="18" height="1" fill="#f19c85"/><rect x="151" y="377" width="19" height="1" fill="#f2a18b"/><rect x="6" y="378" width="19" height="2" fill="#a08bca"/><rect x="25" y="378" width="18" height="2" fill="#ab98d0"/><rect x="43" y="378" width="18" height="2" fill="#ab98d0"/><rect x="61" y="378" width="18" height="2" fill="#e9aecb"/><rect x="79" y="378" width="18" height="2" fill="#e9afcb"/><rect x="97" y="378" width="18" height="2" fill="#e8aac8"/><rect x="115" y="378" width="18" height="2" fill="#f1a18b"/><rect x="133" y="378" width="18" height="2" fill="#f19d86"/><rect x="151" y="378" width="19" height="2" fill="#f1a089"/><rect x="6" y="380" width="19" height="1" fill="#9782c4"/><rect x="25" y="380" width="18" height="1" fill="#a995ce"/><rect x="43" y="380" width="18" height="1" fill="#a691cc"/><rect x="61" y="380" width="18" height="1" fill="#cc92be"/><rect x="79" y="380" width="18" height="1" fill="#dd9dc2"/><rect x="97" y="380" width="18" height="1" fill="#d095bf"/><rect x="115" y="380" width="18" height="1" fill="#ee907a"/><rect x="133" y="380" width="18" height="1" fill="#ee927b"/><rect x="151" y="380" width="19" height="1" fill="#ef967f"/><rect x="6" y="381" width="19" height="1" fill="#a995ce"/><rect x="25" y="381" width="18" height="1" fill="#aa96ce"/><rect x="43" y="381" width="18" height="1" fill="#a791cc"/><rect x="61" y="381" width="18" height="1" fill="#e49bbd"/><rect x="79" y="381" width="18" height="1" fill="#e6a2c3"/><rect x="97" y="381" width="18" height="1" fill="#e59ec0"/><rect x="115" y="381" width="18" height="1" fill="#f09881"/><rect x="133" y="381" width="18" height="1" fill="#f2a38d"/><rect x="151" y="381" width="19" height="1" fill="#ed8e78"/><rect x="6" y="382" width="19" height="1" fill="#a28cc9"/><rect x="25" y="382" width="18" height="1" fill="#ad98cf"/><rect x="43" y="382" width="18" height="1" fill="#a28cc9"/><rect x="61" y="382" width="18" height="1" fill="#e7a6c5"/><rect x="79" y="382" width="18" height="1" fill="#e59fc0"/><rect x="97" y="382" width="18" height="1" fill="#e49abd"/><rect x="115" y="382" width="18" height="1" fill="#f19d87"/><rect x="133" y="382" width="18" height="1" fill="#ef947e"/><rect x="151" y="382" width="19" height="1" fill="#f2a48e"/><rect x="6" y="383" width="19" height="1" fill="#a68fcb"/><rect x="25" y="383" width="18" height="1" fill="#a28cc9"/><rect x="43" y="383" width="18" height="1" fill="#a18ac8"/><rect x="61" y="383" width="18" height="1" fill="#e7a3c3"/><rect x="79" y="383" width="18" height="1" fill="#e59cbe"/><rect x="97" y="383" width="18" height="1" fill="#e59ebf"/><rect x="115" y="383" width="18" height="1" fill="#f2a38e"/><rect x="133" y="383" width="18" height="1" fill="#f19e87"/><rect x="151" y="383" width="19" height="1" fill="#f19e88"/><rect x="6" y="384" width="19" height="1" fill="#a992cc"/><rect x="25" y="384" width="18" height="1" fill="#ac96ce"/><rect x="43" y="384" width="18" height="1" fill="#a58fcb"/><rect x="61" y="384" width="18" height="1" fill="#e8a8c6"/><rect x="79" y="384" width="18" height="1" fill="#e7a3c3"/><rect x="97" y="384" width="18" height="1" fill="#e59dbf"/><rect x="115" y="384" width="18" height="1" fill="#f3ac99"/><rect x="133" y="384" width="18" height="1" fill="#f2a591"/><rect x="151" y="384" width="19" height="1" fill="#f1a28d"/><rect x="6" y="385" width="19" height="1" fill="#9e87c6"/><rect x="25" y="385" width="18" height="1" fill="#a790cb"/><rect x="43" y="385" width="18" height="1" fill="#a18ac8"/><rect x="61" y="385" width="18" height="1" fill="#e49abc"/><rect x="79" y="385" width="18" height="1" fill="#e7a3c3"/><rect x="97" y="385" width="18" height="1" fill="#e395b8"/><rect x="115" y="385" width="18" height="1" fill="#ee947e"/><rect x="133" y="385" width="18" height="1" fill="#f1a28c"/><rect x="151" y="385" width="19" height="1" fill="#f19e87"/><rect x="6" y="386" width="19" height="1" fill="#9f88c7"/><rect x="25" y="386" width="18" height="1" fill="#b5a0d3"/><rect x="43" y="386" width="18" height="1" fill="#a28ac8"/><rect x="61" y="386" width="18" height="1" fill="#e49abc"/><rect x="79" y="386" width="18" height="1" fill="#e6a1c1"/><rect x="97" y="386" width="18" height="1" fill="#e59bbd"/><rect x="115" y="386" width="18" height="1" fill="#f2a591"/><rect x="133" y="386" width="18" height="1" fill="#f1a08a"/><rect x="151" y="386" width="19" height="1" fill="#f2a894"/><rect x="6" y="387" width="19" height="1" fill="#a78fca"/><rect x="25" y="387" width="18" height="1" fill="#ab93cd"/><rect x="43" y="387" width="18" height="1" fill="#af97cf"/><rect x="61" y="387" width="18" height="1" fill="#e69fc0"/><rect x="79" y="387" width="18" height="1" fill="#e6a0c0"/><rect x="97" y="387" width="18" height="1" fill="#e8a7c5"/><rect x="115" y="387" width="18" height="1" fill="#f09d87"/><rect x="133" y="387" width="18" height="1" fill="#ee937e"/><rect x="151" y="387" width="19" height="1" fill="#ef9984"/><rect x="6" y="388" width="19" height="1" fill="#9c84c4"/><rect x="25" y="388" width="18" height="1" fill="#ac94cd"/><rect x="43" y="388" width="18" height="1" fill="#ac94cd"/><rect x="61" y="388" width="18" height="1" fill="#e290b4"/><rect x="79" y="388" width="18" height="1" fill="#e395b8"/><rect x="97" y="388" width="18" height="1" fill="#e498bb"/><rect x="115" y="388" width="18" height="1" fill="#ef9782"/><rect x="133" y="388" width="18" height="1" fill="#f1a08a"/><rect x="151" y="388" width="19" height="1" fill="#eb8875"/><rect x="6" y="389" width="19" height="1" fill="#a990cb"/><rect x="25" y="389" width="18" height="1" fill="#a991cb"/><rect x="43" y="389" width="18" height="1" fill="#a28ac8"/><rect x="61" y="389" width="18" height="1" fill="#e394b7"/><rect x="79" y="389" width="18" height="1" fill="#e6a0c0"/><rect x="97" y="389" width="18" height="1" fill="#e391b5"/><rect x="115" y="389" width="18" height="1" fill="#f3ab98"/><rect x="133" y="389" width="18" height="1" fill="#f1a28c"/><rect x="151" y="389" width="19" height="1" fill="#ee9681"/><rect x="6" y="390" width="19" height="1" fill="#ad93cc"/><rect x="25" y="390" width="18" height="1" fill="#bba5d5"/><rect x="43" y="390" width="18" height="1" fill="#b8a1d3"/><rect x="61" y="390" width="18" height="1" fill="#e8a6c4"/><rect x="79" y="390" width="18" height="1" fill="#e393b6"/><rect x="97" y="390" width="18" height="1" fill="#e9a7c5"/><rect x="115" y="390" width="18" height="1" fill="#f1a38e"/><rect x="133" y="390" width="18" height="1" fill="#f1a38e"/><rect x="151" y="390" width="19" height="1" fill="#f2a490"/><rect x="6" y="391" width="19" height="2" fill="#ab92cb"/><rect x="25" y="391" width="18" height="2" fill="#a88fca"/><rect x="43" y="391" width="18" height="2" fill="#a58cc8"/><rect x="61" y="391" width="18" height="2" fill="#e496b9"/><rect x="79" y="391" width="18" height="2" fill="#e59abc"/><rect x="97" y="391" width="18" height="2" fill="#e497b9"/><rect x="115" y="391" width="18" height="2" fill="#ef9783"/><rect x="133" y="391" width="18" height="2" fill="#f09b86"/><rect x="151" y="391" width="19" height="2" fill="#ef9884"/><rect x="6" y="393" width="19" height="2" fill="#a58bc8"/><rect x="25" y="393" width="18" height="2" fill="#b69dd1"/><rect x="43" y="393" width="18" height="2" fill="#b49bd0"/><rect x="61" y="393" width="18" height="2" fill="#e496b9"/><rect x="79" y="393" width="18" height="2" fill="#e69bbc"/><rect x="97" y="393" width="18" height="2" fill="#e598ba"/><rect x="115" y="393" width="18" height="2" fill="#f1a18c"/><rect x="133" y="393" width="18" height="2" fill="#f3ad9b"/><rect x="151" y="393" width="19" height="2" fill="#f1a28c"/><rect x="6" y="395" width="19" height="1" fill="#a68cc8"/><rect x="25" y="395" width="18" height="1" fill="#ac91ca"/><rect x="43" y="395" width="18" height="1" fill="#ad92cb"/><rect x="61" y="395" width="18" height="1" fill="#e597b9"/><rect x="79" y="395" width="18" height="1" fill="#de7da5"/><rect x="97" y="395" width="18" height="1" fill="#e28aaf"/><rect x="115" y="395" width="18" height="1" fill="#f1a28d"/><rect x="133" y="395" width="18" height="1" fill="#ec907d"/><rect x="151" y="395" width="19" height="1" fill="#f1a590"/><rect x="6" y="396" width="19" height="2" fill="#aa90ca"/><rect x="25" y="396" width="18" height="2" fill="#bfa7d5"/><rect x="43" y="396" width="18" height="2" fill="#b89ed1"/><rect x="61" y="396" width="18" height="2" fill="#e598ba"/><rect x="79" y="396" width="18" height="2" fill="#e38eb2"/><rect x="97" y="396" width="18" height="2" fill="#e492b5"/><rect x="115" y="396" width="18" height="2" fill="#f09d89"/><rect x="133" y="396" width="18" height="2" fill="#f3ae9c"/><rect x="151" y="396" width="19" height="2" fill="#f1a48f"/><rect x="6" y="398" width="19" height="2" fill="#a68bc7"/><rect x="25" y="398" width="18" height="2" fill="#b89cd0"/><rect x="43" y="398" width="18" height="2" fill="#ac91ca"/><rect x="61" y="398" width="18" height="2" fill="#e187ac"/><rect x="79" y="398" width="18" height="2" fill="#e28bb0"/><rect x="97" y="398" width="18" height="2" fill="#e289ae"/><rect x="115" y="398" width="18" height="2" fill="#ee9683"/><rect x="133" y="398" width="18" height="2" fill="#f2aa97"/><rect x="151" y="398" width="19" height="2" fill="#ee9885"/><rect x="6" y="400" width="19" height="1" fill="#ac91ca"/><rect x="25" y="400" width="18" height="1" fill="#b99dd0"/><rect x="43" y="400" width="18" height="1" fill="#b498cd"/><rect x="61" y="400" width="18" height="1" fill="#e38db1"/><rect x="79" y="400" width="18" height="1" fill="#e082a9"/><rect x="97" y="400" width="18" height="1" fill="#e38cb0"/><rect x="115" y="400" width="18" height="1" fill="#ef9b88"/><rect x="133" y="400" width="18" height="1" fill="#ef9c89"/><rect x="151" y="400" width="19" height="1" fill="#ee9784"/><rect x="6" y="401" width="19" height="1" fill="#b194cc"/><rect x="25" y="401" width="18" height="1" fill="#b497cd"/><rect x="43" y="401" width="18" height="1" fill="#b99bcf"/><rect x="61" y="401" width="18" height="1" fill="#e698b9"/><rect x="79" y="401" width="18" height="1" fill="#e183aa"/><rect x="97" y="401" width="18" height="1" fill="#e184aa"/><rect x="115" y="401" width="18" height="1" fill="#f1a793"/><rect x="133" y="401" width="18" height="1" fill="#ef9b88"/><rect x="151" y="401" width="19" height="1" fill="#f2a794"/><rect x="6" y="402" width="19" height="1" fill="#b094cb"/><rect x="25" y="402" width="18" height="1" fill="#cbb3db"/><rect x="43" y="402" width="18" height="1" fill="#c5abd7"/><rect x="61" y="402" width="18" height="1" fill="#e698b8"/><rect x="79" y="402" width="18" height="1" fill="#e8a1bf"/><rect x="97" y="402" width="18" height="1" fill="#e492b5"/><rect x="115" y="402" width="18" height="1" fill="#f3af9e"/><rect x="133" y="402" width="18" height="1" fill="#f2ab99"/><rect x="151" y="402" width="19" height="1" fill="#f4b6a6"/><rect x="6" y="403" width="19" height="2" fill="#b597cd"/><rect x="25" y="403" width="18" height="2" fill="#bb9ccf"/><rect x="43" y="403" width="18" height="2" fill="#af92ca"/><rect x="61" y="403" width="18" height="2" fill="#e38baf"/><rect x="79" y="403" width="18" height="2" fill="#e287ad"/><rect x="97" y="403" width="18" height="2" fill="#e48fb2"/><rect x="115" y="403" width="18" height="2" fill="#f1a793"/><rect x="133" y="403" width="18" height="2" fill="#f4b6a6"/><rect x="151" y="403" width="19" height="2" fill="#ee9886"/><rect x="6" y="405" width="19" height="1" fill="#b597cd"/><rect x="25" y="405" width="18" height="1" fill="#b799cd"/><rect x="43" y="405" width="18" height="1" fill="#b395cb"/><rect x="61" y="405" width="18" height="1" fill="#e081a7"/><rect x="79" y="405" width="18" height="1" fill="#e38aaf"/><rect x="97" y="405" width="18" height="1" fill="#e287ac"/><rect x="115" y="405" width="18" height="1" fill="#f0a491"/><rect x="133" y="405" width="18" height="1" fill="#f2a895"/><rect x="151" y="405" width="19" height="1" fill="#f0a08e"/><rect x="6" y="406" width="19" height="1" fill="#b697cc"/><rect x="25" y="406" width="18" height="1" fill="#b799cd"/><rect x="43" y="406" width="18" height="1" fill="#c0a1d2"/><rect x="61" y="406" width="18" height="1" fill="#e288ad"/><rect x="79" y="406" width="18" height="1" fill="#e288ad"/><rect x="97" y="406" width="18" height="1" fill="#e07fa6"/><rect x="115" y="406" width="18" height="1" fill="#ef9f8d"/><rect x="133" y="406" width="18" height="1" fill="#f0a290"/><rect x="151" y="406" width="19" height="1" fill="#ef9d8b"/><rect x="6" y="407" width="19" height="2" fill="#c1a1d1"/><rect x="25" y="407" width="18" height="2" fill="#c5a7d4"/><rect x="43" y="407" width="18" height="2" fill="#c6a8d5"/><rect x="61" y="407" width="18" height="2" fill="#e79bba"/><rect x="79" y="407" width="18" height="2" fill="#e38caf"/><rect x="97" y="407" width="18" height="2" fill="#e592b4"/><rect x="115" y="407" width="18" height="2" fill="#f1a693"/><rect x="133" y="407" width="18" height="2" fill="#f3b09f"/><rect x="151" y="407" width="19" height="2" fill="#f3b1a0"/><rect x="6" y="409" width="19" height="1" fill="#be9ecf"/><rect x="25" y="409" width="18" height="1" fill="#cdb2d9"/><rect x="43" y="409" width="18" height="1" fill="#c3a4d2"/><rect x="61" y="409" width="18" height="1" fill="#e286ab"/><rect x="79" y="409" width="18" height="1" fill="#e48caf"/><rect x="97" y="409" width="18" height="1" fill="#e697b7"/><rect x="115" y="409" width="18" height="1" fill="#f2ad9b"/><rect x="133" y="409" width="18" height="1" fill="#f3b2a2"/><rect x="151" y="409" width="19" height="1" fill="#f3b1a0"/><rect x="6" y="410" width="19" height="1" fill="#a386c3"/><rect x="25" y="410" width="18" height="1" fill="#b495cb"/><rect x="43" y="410" width="18" height="1" fill="#c5a5d3"/><rect x="61" y="410" width="18" height="1" fill="#df78a0"/><rect x="79" y="410" width="18" height="1" fill="#de759e"/><rect x="97" y="410" width="18" height="1" fill="#dc709a"/><rect x="115" y="410" width="18" height="1" fill="#ed9584"/><rect x="133" y="410" width="18" height="1" fill="#ee9c8a"/><rect x="151" y="410" width="19" height="1" fill="#ed9887"/><rect x="6" y="411" width="19" height="2" fill="#af90c8"/><rect x="25" y="411" width="18" height="2" fill="#ccaed7"/><rect x="43" y="411" width="18" height="2" fill="#be9dcf"/><rect x="61" y="411" width="18" height="2" fill="#e386ab"/><rect x="79" y="411" width="18" height="2" fill="#e590b2"/><rect x="97" y="411" width="18" height="2" fill="#e182a8"/><rect x="115" y="411" width="18" height="2" fill="#f2ad9c"/><rect x="133" y="411" width="18" height="2" fill="#f2ab9a"/><rect x="151" y="411" width="19" height="2" fill="#f3b4a4"/><rect x="6" y="413" width="19" height="1" fill="#ab8dc6"/><rect x="25" y="413" width="18" height="1" fill="#bf9ecf"/><rect x="43" y="413" width="18" height="1" fill="#ba99cd"/><rect x="61" y="413" width="18" height="1" fill="#df769f"/><rect x="79" y="413" width="18" height="1" fill="#e07da4"/><rect x="97" y="413" width="18" height="1" fill="#df79a1"/><rect x="115" y="413" width="18" height="1" fill="#ef9f8e"/><rect x="133" y="413" width="18" height="1" fill="#efa190"/><rect x="151" y="413" width="19" height="1" fill="#f2ae9d"/><rect x="6" y="414" width="19" height="1" fill="#caaad5"/><rect x="25" y="414" width="18" height="1" fill="#cdafd7"/><rect x="43" y="414" width="18" height="1" fill="#c6a4d2"/><rect x="61" y="414" width="18" height="1" fill="#e17fa6"/><rect x="79" y="414" width="18" height="1" fill="#e283a8"/><rect x="97" y="414" width="18" height="1" fill="#e48aad"/><rect x="115" y="414" width="18" height="1" fill="#f4b8a9"/><rect x="133" y="414" width="18" height="1" fill="#f4bcaf"/><rect x="151" y="414" width="19" height="1" fill="#f1a998"/><rect x="6" y="415" width="19" height="1" fill="#b998cc"/><rect x="25" y="415" width="18" height="1" fill="#d1b4da"/><rect x="43" y="415" width="18" height="1" fill="#ceafd7"/><rect x="61" y="415" width="18" height="1" fill="#e58eb0"/><rect x="79" y="415" width="18" height="1" fill="#e58fb1"/><rect x="97" y="415" width="18" height="1" fill="#e384a9"/><rect x="115" y="415" width="18" height="1" fill="#efa392"/><rect x="133" y="415" width="18" height="1" fill="#f4bbad"/><rect x="151" y="415" width="19" height="1" fill="#f1ab99"/><rect x="6" y="416" width="19" height="2" fill="#c4a1d0"/><rect x="25" y="416" width="18" height="2" fill="#ccabd5"/><rect x="43" y="416" width="18" height="2" fill="#c4a1d0"/><rect x="61" y="416" width="18" height="2" fill="#de749d"/><rect x="79" y="416" width="18" height="2" fill="#e07ba2"/><rect x="97" y="416" width="18" height="2" fill="#df759e"/><rect x="115" y="416" width="18" height="2" fill="#ee9d8d"/><rect x="133" y="416" width="18" height="2" fill="#f2af9e"/><rect x="151" y="416" width="19" height="2" fill="#ed9787"/><rect x="6" y="418" width="19" height="1" fill="#b997cb"/><rect x="25" y="418" width="18" height="1" fill="#c19ecf"/><rect x="43" y="418" width="18" height="1" fill="#bd9bcd"/><rect x="61" y="418" width="18" height="1" fill="#e078a0"/><rect x="79" y="418" width="18" height="1" fill="#e282a7"/><rect x="97" y="418" width="18" height="1" fill="#df749d"/><rect x="115" y="418" width="18" height="1" fill="#efa292"/><rect x="133" y="418" width="18" height="1" fill="#efa191"/><rect x="151" y="418" width="19" height="1" fill="#f2ae9d"/><rect x="6" y="419" width="19" height="1" fill="#c6a3d1"/><rect x="25" y="419" width="18" height="1" fill="#dabede"/><rect x="43" y="419" width="18" height="1" fill="#d0add6"/><rect x="61" y="419" width="18" height="1" fill="#e383a8"/><rect x="79" y="419" width="18" height="1" fill="#e280a6"/><rect x="97" y="419" width="18" height="1" fill="#df759e"/><rect x="115" y="419" width="18" height="1" fill="#f2ae9d"/><rect x="133" y="419" width="18" height="1" fill="#f0a595"/><rect x="151" y="419" width="19" height="1" fill="#f4b9aa"/><rect x="6" y="420" width="19" height="2" fill="#c29fcf"/><rect x="25" y="420" width="18" height="2" fill="#cda9d4"/><rect x="43" y="420" width="18" height="2" fill="#cca7d3"/><rect x="61" y="420" width="18" height="2" fill="#e17aa1"/><rect x="79" y="420" width="18" height="2" fill="#e0779f"/><rect x="97" y="420" width="18" height="2" fill="#dc6a95"/><rect x="115" y="420" width="18" height="2" fill="#f2b09f"/><rect x="133" y="420" width="18" height="2" fill="#f2af9f"/><rect x="151" y="420" width="19" height="2" fill="#f0a998"/><rect x="6" y="422" width="19" height="1" fill="#c4a0cf"/><rect x="25" y="422" width="18" height="1" fill="#c39fcf"/><rect x="43" y="422" width="18" height="1" fill="#d5b3d8"/><rect x="61" y="422" width="18" height="1" fill="#de7099"/><rect x="79" y="422" width="18" height="1" fill="#e280a5"/><rect x="97" y="422" width="18" height="1" fill="#df739b"/><rect x="115" y="422" width="18" height="1" fill="#f0a999"/><rect x="133" y="422" width="18" height="1" fill="#f1aa9a"/><rect x="151" y="422" width="19" height="1" fill="#f4baad"/><rect x="6" y="425" width="19" height="1" fill="#e9a5c2"/><rect x="25" y="425" width="18" height="1" fill="#e69bbb"/><rect x="43" y="425" width="18" height="1" fill="#eaabc6"/><rect x="61" y="425" width="18" height="1" fill="#e0729a"/><rect x="79" y="425" width="18" height="1" fill="#e07199"/><rect x="97" y="425" width="18" height="1" fill="#e381a4"/><rect x="115" y="425" width="18" height="1" fill="#ddb4d9"/><rect x="133" y="425" width="18" height="1" fill="#dfb8db"/><rect x="151" y="425" width="19" height="1" fill="#e2bede"/><rect x="6" y="426" width="19" height="2" fill="#e9a6c3"/><rect x="25" y="426" width="18" height="2" fill="#eaa9c5"/><rect x="43" y="426" width="18" height="2" fill="#ecb2cb"/><rect x="61" y="426" width="18" height="2" fill="#e0749b"/><rect x="79" y="426" width="18" height="2" fill="#e27ca1"/><rect x="97" y="426" width="18" height="2" fill="#e380a4"/><rect x="115" y="426" width="18" height="2" fill="#dcb3d9"/><rect x="133" y="426" width="18" height="2" fill="#deb5da"/><rect x="151" y="426" width="19" height="2" fill="#deb6da"/><rect x="6" y="428" width="19" height="1" fill="#e7a0be"/><rect x="25" y="428" width="18" height="1" fill="#eaa9c4"/><rect x="43" y="428" width="18" height="1" fill="#edb5cc"/><rect x="61" y="428" width="18" height="1" fill="#dd6791"/><rect x="79" y="428" width="18" height="1" fill="#e27a9f"/><rect x="97" y="428" width="18" height="1" fill="#df6d96"/><rect x="115" y="428" width="18" height="1" fill="#dbb2d8"/><rect x="133" y="428" width="18" height="1" fill="#dcb3d9"/><rect x="151" y="428" width="19" height="1" fill="#ddb6db"/><rect x="6" y="429" width="19" height="1" fill="#e598b7"/><rect x="25" y="429" width="18" height="1" fill="#e491b3"/><rect x="43" y="429" width="18" height="1" fill="#ecb1ca"/><rect x="61" y="429" width="18" height="1" fill="#dc6490"/><rect x="79" y="429" width="18" height="1" fill="#dd6792"/><rect x="97" y="429" width="18" height="1" fill="#da608c"/><rect x="115" y="429" width="18" height="1" fill="#d0a8d4"/><rect x="133" y="429" width="18" height="1" fill="#ddb5da"/><rect x="151" y="429" width="19" height="1" fill="#d7aed7"/><rect x="6" y="430" width="19" height="2" fill="#eaaac5"/><rect x="25" y="430" width="18" height="2" fill="#eeb9cf"/><rect x="43" y="430" width="18" height="2" fill="#eeb9cf"/><rect x="61" y="430" width="18" height="2" fill="#de6c96"/><rect x="79" y="430" width="18" height="2" fill="#dd6893"/><rect x="97" y="430" width="18" height="2" fill="#e1769d"/><rect x="115" y="430" width="18" height="2" fill="#dcb4da"/><rect x="133" y="430" width="18" height="2" fill="#caa3d2"/><rect x="151" y="430" width="19" height="2" fill="#dcb5da"/><rect x="6" y="432" width="19" height="1" fill="#e8a2bf"/><rect x="25" y="432" width="18" height="1" fill="#e9a6c2"/><rect x="43" y="432" width="18" height="1" fill="#efbfd3"/><rect x="61" y="432" width="18" height="1" fill="#dd6893"/><rect x="79" y="432" width="18" height="1" fill="#de6c95"/><rect x="97" y="432" width="18" height="1" fill="#e1789f"/><rect x="115" y="432" width="18" height="1" fill="#d8afd8"/><rect x="133" y="432" width="18" height="1" fill="#d0a9d5"/><rect x="151" y="432" width="19" height="1" fill="#dbb3da"/><rect x="6" y="433" width="19" height="1" fill="#e8a3bf"/><rect x="25" y="433" width="18" height="1" fill="#e8a3bf"/><rect x="43" y="433" width="18" height="1" fill="#ebb1c9"/><rect x="61" y="433" width="18" height="1" fill="#dc6691"/><rect x="79" y="433" width="18" height="1" fill="#de6c96"/><rect x="97" y="433" width="18" height="1" fill="#dd6893"/><rect x="115" y="433" width="18" height="1" fill="#dcb6db"/><rect x="133" y="433" width="18" height="1" fill="#d0a9d5"/><rect x="151" y="433" width="19" height="1" fill="#ddb8dc"/><rect x="6" y="434" width="19" height="1" fill="#e9a6c2"/><rect x="25" y="434" width="18" height="1" fill="#e79fbc"/><rect x="43" y="434" width="18" height="1" fill="#eebcd1"/><rect x="61" y="434" width="18" height="1" fill="#de6b94"/><rect x="79" y="434" width="18" height="1" fill="#df7098"/><rect x="97" y="434" width="18" height="1" fill="#e07099"/><rect x="115" y="434" width="18" height="1" fill="#d6aed8"/><rect x="133" y="434" width="18" height="1" fill="#dab2da"/><rect x="151" y="434" width="19" height="1" fill="#d6aed8"/><rect x="6" y="435" width="19" height="1" fill="#e7a0bd"/><rect x="25" y="435" width="18" height="1" fill="#eaadc6"/><rect x="43" y="435" width="18" height="1" fill="#eebcd1"/><rect x="61" y="435" width="18" height="1" fill="#e1779d"/><rect x="79" y="435" width="18" height="1" fill="#df6e97"/><rect x="97" y="435" width="18" height="1" fill="#df6e97"/><rect x="115" y="435" width="18" height="1" fill="#d2aad6"/><rect x="133" y="435" width="18" height="1" fill="#debade"/><rect x="151" y="435" width="19" height="1" fill="#cea7d4"/><rect x="6" y="436" width="19" height="1" fill="#e9a6be"/><rect x="25" y="436" width="18" height="1" fill="#edb8ce"/><rect x="43" y="436" width="18" height="1" fill="#efbed2"/><rect x="61" y="436" width="18" height="1" fill="#df6e97"/><rect x="79" y="436" width="18" height="1" fill="#e381a5"/><rect x="97" y="436" width="18" height="1" fill="#e27ca1"/><rect x="115" y="436" width="18" height="1" fill="#dfbcdf"/><rect x="133" y="436" width="18" height="1" fill="#dcb6dc"/><rect x="151" y="436" width="19" height="1" fill="#ddb8dd"/><rect x="6" y="437" width="19" height="2" fill="#eaacc5"/><rect x="25" y="437" width="18" height="2" fill="#e79baf"/><rect x="43" y="437" width="18" height="2" fill="#ecb3ca"/><rect x="61" y="437" width="18" height="2" fill="#e0729a"/><rect x="79" y="437" width="18" height="2" fill="#dc6490"/><rect x="97" y="437" width="18" height="2" fill="#df7098"/><rect x="115" y="437" width="18" height="2" fill="#c7a2d2"/><rect x="133" y="437" width="18" height="2" fill="#d3abd7"/><rect x="151" y="437" width="19" height="2" fill="#d2abd7"/><rect x="6" y="439" width="19" height="1" fill="#ebb0c7"/><rect x="25" y="439" width="18" height="1" fill="#ebb3ca"/><rect x="43" y="439" width="18" height="1" fill="#ecb5cb"/><rect x="61" y="439" width="18" height="1" fill="#e07199"/><rect x="79" y="439" width="18" height="1" fill="#e27ca1"/><rect x="97" y="439" width="18" height="1" fill="#e381a5"/><rect x="115" y="439" width="18" height="1" fill="#ddb9de"/><rect x="133" y="439" width="18" height="1" fill="#debcdf"/><rect x="151" y="439" width="19" height="1" fill="#dcb8dd"/><rect x="6" y="442" width="19" height="1" fill="#f1a5ae"/><rect x="25" y="442" width="18" height="1" fill="#f09ca6"/><rect x="43" y="442" width="18" height="1" fill="#f2a9b1"/><rect x="61" y="442" width="18" height="1" fill="#e79ebb"/><rect x="79" y="442" width="18" height="1" fill="#e8a1be"/><rect x="97" y="442" width="18" height="1" fill="#e593b4"/><rect x="115" y="442" width="18" height="1" fill="#c3b0dd"/><rect x="133" y="442" width="18" height="1" fill="#b59fd6"/><rect x="151" y="442" width="19" height="1" fill="#b7a1d7"/><rect x="6" y="443" width="19" height="1" fill="#f2a7b0"/><rect x="25" y="443" width="18" height="1" fill="#f09ea7"/><rect x="43" y="443" width="18" height="1" fill="#f09ea8"/><rect x="61" y="443" width="18" height="1" fill="#e595b5"/><rect x="79" y="443" width="18" height="1" fill="#e595b5"/><rect x="97" y="443" width="18" height="1" fill="#e594b4"/><rect x="115" y="443" width="18" height="1" fill="#b9a4d8"/><rect x="133" y="443" width="18" height="1" fill="#bda8da"/><rect x="151" y="443" width="19" height="1" fill="#b9a3d8"/><rect x="6" y="444" width="19" height="1" fill="#f2a8b1"/><rect x="25" y="444" width="18" height="1" fill="#f09ca5"/><rect x="43" y="444" width="18" height="1" fill="#f1a1aa"/><rect x="61" y="444" width="18" height="1" fill="#e79ab8"/><rect x="79" y="444" width="18" height="1" fill="#e9a2be"/><rect x="97" y="444" width="18" height="1" fill="#e89ebb"/><rect x="115" y="444" width="18" height="1" fill="#b9a3d8"/><rect x="133" y="444" width="18" height="1" fill="#c1addc"/><rect x="151" y="444" width="19" height="1" fill="#c7b5e0"/><rect x="6" y="445" width="19" height="1" fill="#ef98a1"/><rect x="25" y="445" width="18" height="1" fill="#f1a3ac"/><rect x="43" y="445" width="18" height="1" fill="#f1a5ae"/><rect x="61" y="445" width="18" height="1" fill="#e593b3"/><rect x="79" y="445" width="18" height="1" fill="#e79ab8"/><rect x="97" y="445" width="18" height="1" fill="#e592b2"/><rect x="115" y="445" width="18" height="1" fill="#b39ed5"/><rect x="133" y="445" width="18" height="1" fill="#b19cd4"/><rect x="151" y="445" width="19" height="1" fill="#b59fd6"/><rect x="6" y="446" width="19" height="1" fill="#f2abb4"/><rect x="25" y="446" width="18" height="1" fill="#f2a7b0"/><rect x="43" y="446" width="18" height="1" fill="#f2a9b1"/><rect x="61" y="446" width="18" height="1" fill="#ebabc4"/><rect x="79" y="446" width="18" height="1" fill="#e79bb9"/><rect x="97" y="446" width="18" height="1" fill="#e698b6"/><rect x="115" y="446" width="18" height="1" fill="#b7a3d8"/><rect x="133" y="446" width="18" height="1" fill="#beaadb"/><rect x="151" y="446" width="19" height="1" fill="#b9a4d9"/><rect x="6" y="447" width="19" height="1" fill="#f09ca5"/><rect x="25" y="447" width="18" height="1" fill="#ef9aa3"/><rect x="43" y="447" width="18" height="1" fill="#f1a3ac"/><rect x="61" y="447" width="18" height="1" fill="#e182a6"/><rect x="79" y="447" width="18" height="1" fill="#e590b1"/><rect x="97" y="447" width="18" height="1" fill="#e287aa"/><rect x="115" y="447" width="18" height="1" fill="#ad99d3"/><rect x="133" y="447" width="18" height="1" fill="#b39ed6"/><rect x="151" y="447" width="19" height="1" fill="#b09cd5"/><rect x="6" y="448" width="19" height="1" fill="#ee98a0"/><rect x="25" y="448" width="18" height="1" fill="#ee979e"/><rect x="43" y="448" width="18" height="1" fill="#f0a1aa"/><rect x="61" y="448" width="18" height="1" fill="#e590b0"/><rect x="79" y="448" width="18" height="1" fill="#e797b6"/><rect x="97" y="448" width="18" height="1" fill="#e48eaf"/><rect x="115" y="448" width="18" height="1" fill="#ad99d3"/><rect x="133" y="448" width="18" height="1" fill="#a792cf"/><rect x="151" y="448" width="19" height="1" fill="#b19cd5"/><rect x="6" y="449" width="19" height="1" fill="#f1a4ac"/><rect x="25" y="449" width="18" height="1" fill="#ed949b"/><rect x="43" y="449" width="18" height="1" fill="#ee979e"/><rect x="61" y="449" width="18" height="1" fill="#e693b3"/><rect x="79" y="449" width="18" height="1" fill="#e694b4"/><rect x="97" y="449" width="18" height="1" fill="#e591b1"/><rect x="115" y="449" width="18" height="1" fill="#ae99d3"/><rect x="133" y="449" width="18" height="1" fill="#b19cd5"/><rect x="151" y="449" width="19" height="1" fill="#ac98d3"/><rect x="6" y="450" width="19" height="1" fill="#ef9aa2"/><rect x="25" y="450" width="18" height="1" fill="#ec8f95"/><rect x="43" y="450" width="18" height="1" fill="#ee969d"/><rect x="61" y="450" width="18" height="1" fill="#e797b6"/><rect x="79" y="450" width="18" height="1" fill="#e48cae"/><rect x="97" y="450" width="18" height="1" fill="#e796b5"/><rect x="115" y="450" width="18" height="1" fill="#ab97d2"/><rect x="133" y="450" width="18" height="1" fill="#b6a2d8"/><rect x="151" y="450" width="19" height="1" fill="#ae9ad4"/><rect x="6" y="451" width="19" height="1" fill="#f1a6ae"/><rect x="25" y="451" width="18" height="1" fill="#f1a2aa"/><rect x="43" y="451" width="18" height="1" fill="#f2abb3"/><rect x="61" y="451" width="18" height="1" fill="#eaa4bf"/><rect x="79" y="451" width="18" height="1" fill="#eaa1bd"/><rect x="97" y="451" width="18" height="1" fill="#e89ab7"/><rect x="115" y="451" width="18" height="1" fill="#baa7db"/><rect x="133" y="451" width="18" height="1" fill="#c3b2df"/><rect x="151" y="451" width="19" height="1" fill="#bca9db"/><rect x="6" y="452" width="19" height="1" fill="#ea888c"/><rect x="25" y="452" width="18" height="1" fill="#f09ea6"/><rect x="43" y="452" width="18" height="1" fill="#f09ea6"/><rect x="61" y="452" width="18" height="1" fill="#e389ab"/><rect x="79" y="452" width="18" height="1" fill="#e796b5"/><rect x="97" y="452" width="18" height="1" fill="#e899b7"/><rect x="115" y="452" width="18" height="1" fill="#a692cf"/><rect x="133" y="452" width="18" height="1" fill="#b9a7db"/><rect x="151" y="452" width="19" height="1" fill="#b09cd5"/><rect x="6" y="453" width="19" height="1" fill="#ee989f"/><rect x="25" y="453" width="18" height="1" fill="#ee99a0"/><rect x="43" y="453" width="18" height="1" fill="#f0a0a8"/><rect x="61" y="453" width="18" height="1" fill="#e898b6"/><rect x="79" y="453" width="18" height="1" fill="#e898b6"/><rect x="97" y="453" width="18" height="1" fill="#e89ab7"/><rect x="115" y="453" width="18" height="1" fill="#aa97d2"/><rect x="133" y="453" width="18" height="1" fill="#b19ed7"/><rect x="151" y="453" width="19" height="1" fill="#ab97d3"/><rect x="6" y="456" width="19" height="1" fill="#f19fa2"/><rect x="25" y="456" width="18" height="1" fill="#f2a0a4"/><rect x="43" y="456" width="18" height="1" fill="#f3a9ad"/><rect x="61" y="456" width="18" height="1" fill="#e8adcb"/><rect x="79" y="456" width="18" height="1" fill="#e9b0cc"/><rect x="97" y="456" width="18" height="1" fill="#ecb8d2"/><rect x="115" y="456" width="18" height="1" fill="#a090ce"/><rect x="133" y="456" width="18" height="1" fill="#aea0d5"/><rect x="151" y="456" width="19" height="1" fill="#a494d0"/><rect x="6" y="457" width="19" height="1" fill="#ee8d8f"/><rect x="25" y="457" width="18" height="1" fill="#f09497"/><rect x="43" y="457" width="18" height="1" fill="#f2a4a7"/><rect x="61" y="457" width="18" height="1" fill="#e5aac9"/><rect x="79" y="457" width="18" height="1" fill="#e5aaca"/><rect x="97" y="457" width="18" height="1" fill="#e8aecb"/><rect x="115" y="457" width="18" height="1" fill="#9787c9"/><rect x="133" y="457" width="18" height="1" fill="#b2a3d7"/><rect x="151" y="457" width="19" height="1" fill="#a191cf"/><rect x="6" y="458" width="19" height="1" fill="#f19fa1"/><rect x="25" y="458" width="18" height="1" fill="#f19b9d"/><rect x="43" y="458" width="18" height="1" fill="#f2a4a7"/><rect x="61" y="458" width="18" height="1" fill="#e7accb"/><rect x="79" y="458" width="18" height="1" fill="#e7accb"/><rect x="97" y="458" width="18" height="1" fill="#ecb9d3"/><rect x="115" y="458" width="18" height="1" fill="#a798d2"/><rect x="133" y="458" width="18" height="1" fill="#b3a4d7"/><rect x="151" y="458" width="19" height="1" fill="#b0a1d6"/><rect x="6" y="459" width="19" height="1" fill="#ee8d8e"/><rect x="25" y="459" width="18" height="1" fill="#f09799"/><rect x="43" y="459" width="18" height="1" fill="#f1999b"/><rect x="61" y="459" width="18" height="1" fill="#e5abca"/><rect x="79" y="459" width="18" height="1" fill="#e3a9ca"/><rect x="97" y="459" width="18" height="1" fill="#e8adcb"/><rect x="115" y="459" width="18" height="1" fill="#9b8acb"/><rect x="133" y="459" width="18" height="1" fill="#a595d1"/><rect x="151" y="459" width="19" height="1" fill="#ad9ed5"/><rect x="6" y="460" width="19" height="1" fill="#f09496"/><rect x="25" y="460" width="18" height="1" fill="#f09394"/><rect x="43" y="460" width="18" height="1" fill="#f2a0a1"/><rect x="61" y="460" width="18" height="1" fill="#e9b2cf"/><rect x="79" y="460" width="18" height="1" fill="#e9b1ce"/><rect x="97" y="460" width="18" height="1" fill="#e9b0cd"/><rect x="115" y="460" width="18" height="1" fill="#a99ad3"/><rect x="133" y="460" width="18" height="1" fill="#a393d0"/><rect x="151" y="460" width="19" height="1" fill="#aa9ad3"/><rect x="6" y="461" width="19" height="2" fill="#f19798"/><rect x="25" y="461" width="18" height="2" fill="#f09293"/><rect x="43" y="461" width="18" height="2" fill="#f2a0a0"/><rect x="61" y="461" width="18" height="2" fill="#e8adcc"/><rect x="79" y="461" width="18" height="2" fill="#eab4d0"/><rect x="97" y="461" width="18" height="2" fill="#ebb7d2"/><rect x="115" y="461" width="18" height="2" fill="#9988ca"/><rect x="133" y="461" width="18" height="2" fill="#ab9cd4"/><rect x="151" y="461" width="19" height="2" fill="#a797d2"/><rect x="6" y="463" width="19" height="1" fill="#f19796"/><rect x="25" y="463" width="18" height="1" fill="#ef8e8d"/><rect x="43" y="463" width="18" height="1" fill="#f09190"/><rect x="61" y="463" width="18" height="1" fill="#e0a8ca"/><rect x="79" y="463" width="18" height="1" fill="#e6adcc"/><rect x="97" y="463" width="18" height="1" fill="#eab4d0"/><rect x="115" y="463" width="18" height="1" fill="#9d8ccc"/><rect x="133" y="463" width="18" height="1" fill="#ab9cd4"/><rect x="151" y="463" width="19" height="1" fill="#baaddb"/><rect x="6" y="464" width="19" height="1" fill="#f0908e"/><rect x="25" y="464" width="18" height="1" fill="#ee8c89"/><rect x="43" y="464" width="18" height="1" fill="#f19896"/><rect x="61" y="464" width="18" height="1" fill="#dba5c9"/><rect x="79" y="464" width="18" height="1" fill="#eab4d1"/><rect x="97" y="464" width="18" height="1" fill="#e9b3d0"/><rect x="115" y="464" width="18" height="1" fill="#9989ca"/><rect x="133" y="464" width="18" height="1" fill="#a596d1"/><rect x="151" y="464" width="19" height="1" fill="#aa9bd3"/><rect x="6" y="465" width="19" height="1" fill="#ef8d8a"/><rect x="25" y="465" width="18" height="1" fill="#ef8d8a"/><rect x="43" y="465" width="18" height="1" fill="#f3a8a6"/><rect x="61" y="465" width="18" height="1" fill="#e9b2d0"/><rect x="79" y="465" width="18" height="1" fill="#e2abcc"/><rect x="97" y="465" width="18" height="1" fill="#ebb9d3"/><rect x="115" y="465" width="18" height="1" fill="#a393d0"/><rect x="133" y="465" width="18" height="1" fill="#aa9bd3"/><rect x="151" y="465" width="19" height="1" fill="#a393d0"/><rect x="6" y="466" width="19" height="1" fill="#f29b99"/><rect x="25" y="466" width="18" height="1" fill="#ef8e8a"/><rect x="43" y="466" width="18" height="1" fill="#f2a09e"/><rect x="61" y="466" width="18" height="1" fill="#e8b0ce"/><rect x="79" y="466" width="18" height="1" fill="#e5adcd"/><rect x="97" y="466" width="18" height="1" fill="#e0a9cb"/><rect x="115" y="466" width="18" height="1" fill="#9d8dcc"/><rect x="133" y="466" width="18" height="1" fill="#a697d1"/><rect x="151" y="466" width="19" height="1" fill="#a595d1"/><rect x="6" y="467" width="19" height="2" fill="#f08f8b"/><rect x="25" y="467" width="18" height="2" fill="#ef8b87"/><rect x="43" y="467" width="18" height="2" fill="#f29a97"/><rect x="61" y="467" width="18" height="2" fill="#dfa8cb"/><rect x="79" y="467" width="18" height="2" fill="#e8afce"/><rect x="97" y="467" width="18" height="2" fill="#e4accd"/><rect x="115" y="467" width="18" height="2" fill="#9686c8"/><rect x="133" y="467" width="18" height="2" fill="#a494d0"/><rect x="151" y="467" width="19" height="2" fill="#a494d0"/><rect x="6" y="469" width="19" height="1" fill="#ee8983"/><rect x="25" y="469" width="18" height="1" fill="#ee8781"/><rect x="43" y="469" width="18" height="1" fill="#f1928d"/><rect x="61" y="469" width="18" height="1" fill="#e8b0cf"/><rect x="79" y="469" width="18" height="1" fill="#e8b0cf"/><rect x="97" y="469" width="18" height="1" fill="#e8b0cf"/><rect x="115" y="469" width="18" height="1" fill="#a596d1"/><rect x="133" y="469" width="18" height="1" fill="#9e8dcc"/><rect x="151" y="469" width="19" height="1" fill="#a393cf"/><rect x="6" y="470" width="19" height="2" fill="#ef8a83"/><rect x="25" y="470" width="18" height="2" fill="#ed837c"/><rect x="43" y="470" width="18" height="2" fill="#f1958f"/><rect x="61" y="470" width="18" height="2" fill="#dba7cb"/><rect x="79" y="470" width="18" height="2" fill="#e9b2d0"/><rect x="97" y="470" width="18" height="2" fill="#dda8cc"/><rect x="115" y="470" width="18" height="2" fill="#9686c8"/><rect x="133" y="470" width="18" height="2" fill="#a393d0"/><rect x="151" y="470" width="19" height="2" fill="#9b8bcb"/><rect x="6" y="472" width="19" height="2" fill="#f1928b"/><rect x="25" y="472" width="18" height="2" fill="#f08d86"/><rect x="43" y="472" width="18" height="2" fill="#f3a49e"/><rect x="61" y="472" width="18" height="2" fill="#e3adce"/><rect x="79" y="472" width="18" height="2" fill="#ebb9d5"/><rect x="97" y="472" width="18" height="2" fill="#eab7d4"/><rect x="115" y="472" width="18" height="2" fill="#a797d2"/><rect x="133" y="472" width="18" height="2" fill="#ab9bd3"/><rect x="151" y="472" width="19" height="2" fill="#aa9ad3"/><rect x="6" y="474" width="19" height="1" fill="#f1938b"/><rect x="25" y="474" width="18" height="1" fill="#eb7c72"/><rect x="43" y="474" width="18" height="1" fill="#f29d96"/><rect x="61" y="474" width="18" height="1" fill="#e5afd0"/><rect x="79" y="474" width="18" height="1" fill="#e9b5d3"/><rect x="97" y="474" width="18" height="1" fill="#e6b0d0"/><rect x="115" y="474" width="18" height="1" fill="#a292cf"/><rect x="133" y="474" width="18" height="1" fill="#b0a2d6"/><rect x="151" y="474" width="19" height="1" fill="#ab9cd4"/><rect x="6" y="475" width="19" height="1" fill="#f08a80"/><rect x="25" y="475" width="18" height="1" fill="#ee867c"/><rect x="43" y="475" width="18" height="1" fill="#f3a199"/><rect x="61" y="475" width="18" height="1" fill="#e9b4d3"/><rect x="79" y="475" width="18" height="1" fill="#e9b5d3"/><rect x="97" y="475" width="18" height="1" fill="#e8b2d1"/><rect x="115" y="475" width="18" height="1" fill="#9a89ca"/><rect x="133" y="475" width="18" height="1" fill="#a292cf"/><rect x="151" y="475" width="19" height="1" fill="#aa9ad3"/><rect x="6" y="476" width="19" height="1" fill="#ee857a"/><rect x="25" y="476" width="18" height="1" fill="#f19086"/><rect x="43" y="476" width="18" height="1" fill="#f29a91"/><rect x="61" y="476" width="18" height="1" fill="#e9b4d3"/><rect x="79" y="476" width="18" height="1" fill="#eab8d5"/><rect x="97" y="476" width="18" height="1" fill="#e9b4d2"/><rect x="115" y="476" width="18" height="1" fill="#9584c7"/><rect x="133" y="476" width="18" height="1" fill="#ae9fd5"/><rect x="151" y="476" width="19" height="1" fill="#ab9cd3"/><rect x="6" y="477" width="19" height="1" fill="#ef887c"/><rect x="25" y="477" width="18" height="1" fill="#ef867a"/><rect x="43" y="477" width="18" height="1" fill="#f3a199"/><rect x="61" y="477" width="18" height="1" fill="#e9b5d4"/><rect x="79" y="477" width="18" height="1" fill="#e5b0d1"/><rect x="97" y="477" width="18" height="1" fill="#ebbdd8"/><rect x="115" y="477" width="18" height="1" fill="#a191ce"/><rect x="133" y="477" width="18" height="1" fill="#a797d1"/><rect x="151" y="477" width="19" height="1" fill="#b5a7d8"/><rect x="6" y="478" width="19" height="1" fill="#ef867a"/><rect x="25" y="478" width="18" height="1" fill="#f08b7f"/><rect x="43" y="478" width="18" height="1" fill="#f39e95"/><rect x="61" y="478" width="18" height="1" fill="#eab9d6"/><rect x="79" y="478" width="18" height="1" fill="#e4afd1"/><rect x="97" y="478" width="18" height="1" fill="#eabad6"/><rect x="115" y="478" width="18" height="1" fill="#9d8ccc"/><rect x="133" y="478" width="18" height="1" fill="#b0a2d6"/><rect x="151" y="478" width="19" height="1" fill="#a899d2"/><rect x="6" y="479" width="19" height="1" fill="#f0897c"/><rect x="25" y="479" width="18" height="1" fill="#ed7f72"/><rect x="43" y="479" width="18" height="1" fill="#f19185"/><rect x="61" y="479" width="18" height="1" fill="#d4a4cc"/><rect x="79" y="479" width="18" height="1" fill="#e5b1d2"/><rect x="97" y="479" width="18" height="1" fill="#e8b3d2"/><rect x="115" y="479" width="18" height="1" fill="#9988c9"/><rect x="133" y="479" width="18" height="1" fill="#a191ce"/><rect x="151" y="479" width="19" height="1" fill="#a494d0"/><rect x="6" y="480" width="19" height="1" fill="#ee8173"/><rect x="25" y="480" width="18" height="1" fill="#ed7d70"/><rect x="43" y="480" width="18" height="1" fill="#f18d80"/><rect x="61" y="480" width="18" height="1" fill="#dfacd0"/><rect x="79" y="480" width="18" height="1" fill="#deacd0"/><rect x="97" y="480" width="18" height="1" fill="#ebbcd8"/><rect x="115" y="480" width="18" height="1" fill="#9e8ecc"/><rect x="133" y="480" width="18" height="1" fill="#9a8aca"/><rect x="151" y="480" width="19" height="1" fill="#b6a8d9"/><rect x="6" y="481" width="19" height="1" fill="#ec7b6d"/><rect x="25" y="481" width="18" height="1" fill="#ef8577"/><rect x="43" y="481" width="18" height="1" fill="#f19184"/><rect x="61" y="481" width="18" height="1" fill="#d4a4cd"/><rect x="79" y="481" width="18" height="1" fill="#e7b3d3"/><rect x="97" y="481" width="18" height="1" fill="#e2afd1"/><rect x="115" y="481" width="18" height="1" fill="#9786c8"/><rect x="133" y="481" width="18" height="1" fill="#ad9ed4"/><rect x="151" y="481" width="19" height="1" fill="#a494d0"/><rect x="6" y="482" width="19" height="1" fill="#f08778"/><rect x="25" y="482" width="18" height="1" fill="#ef8575"/><rect x="43" y="482" width="18" height="1" fill="#f18f81"/><rect x="61" y="482" width="18" height="1" fill="#dfadd1"/><rect x="79" y="482" width="18" height="1" fill="#eabad7"/><rect x="97" y="482" width="18" height="1" fill="#e2afd2"/><rect x="115" y="482" width="18" height="1" fill="#9a8aca"/><rect x="133" y="482" width="18" height="1" fill="#ae9fd5"/><rect x="151" y="482" width="19" height="1" fill="#a697d1"/><rect x="6" y="485" width="19" height="1" fill="#eb7462"/><rect x="25" y="485" width="18" height="1" fill="#ec7865"/><rect x="43" y="485" width="18" height="1" fill="#f28f7d"/><rect x="61" y="485" width="18" height="1" fill="#e4b8d9"/><rect x="79" y="485" width="18" height="1" fill="#ebbedc"/><rect x="97" y="485" width="18" height="1" fill="#e3b8d8"/><rect x="115" y="485" width="18" height="1" fill="#9483c8"/><rect x="133" y="485" width="18" height="1" fill="#9e8dce"/><rect x="151" y="485" width="19" height="1" fill="#a697d3"/><rect x="6" y="486" width="19" height="1" fill="#eb7562"/><rect x="25" y="486" width="18" height="1" fill="#f08571"/><rect x="43" y="486" width="18" height="1" fill="#f39b8b"/><rect x="61" y="486" width="18" height="1" fill="#e2b7d8"/><rect x="79" y="486" width="18" height="1" fill="#d0a8d1"/><rect x="97" y="486" width="18" height="1" fill="#ecc0dd"/><rect x="115" y="486" width="18" height="1" fill="#a191d0"/><rect x="133" y="486" width="18" height="1" fill="#ab9cd5"/><rect x="151" y="486" width="19" height="1" fill="#a99ad5"/><rect x="6" y="487" width="19" height="1" fill="#f0826e"/><rect x="25" y="487" width="18" height="1" fill="#f4a496"/><rect x="43" y="487" width="18" height="1" fill="#f29685"/><rect x="61" y="487" width="18" height="1" fill="#edc2dd"/><rect x="79" y="487" width="18" height="1" fill="#ecc0dd"/><rect x="97" y="487" width="18" height="1" fill="#edc2dd"/><rect x="115" y="487" width="18" height="1" fill="#a393d1"/><rect x="133" y="487" width="18" height="1" fill="#aea0d7"/><rect x="151" y="487" width="19" height="1" fill="#b3a5d9"/><rect x="6" y="488" width="19" height="1" fill="#ec7765"/><rect x="25" y="488" width="18" height="1" fill="#f18774"/><rect x="43" y="488" width="18" height="1" fill="#f29584"/><rect x="61" y="488" width="18" height="1" fill="#eec5df"/><rect x="79" y="488" width="18" height="1" fill="#eec7e0"/><rect x="97" y="488" width="18" height="1" fill="#eec5df"/><rect x="115" y="488" width="18" height="1" fill="#a090cf"/><rect x="133" y="488" width="18" height="1" fill="#a292d0"/><rect x="151" y="488" width="19" height="1" fill="#b0a2d8"/><rect x="6" y="489" width="19" height="2" fill="#f18b79"/><rect x="25" y="489" width="18" height="2" fill="#f29280"/><rect x="43" y="489" width="18" height="2" fill="#f39b8c"/><rect x="61" y="489" width="18" height="2" fill="#edc3de"/><rect x="79" y="489" width="18" height="2" fill="#ecc0dd"/><rect x="97" y="489" width="18" height="2" fill="#ecc0dd"/><rect x="115" y="489" width="18" height="2" fill="#a696d3"/><rect x="133" y="489" width="18" height="2" fill="#ab9cd5"/><rect x="151" y="489" width="19" height="2" fill="#ac9dd6"/><rect x="6" y="491" width="19" height="1" fill="#eb7563"/><rect x="25" y="491" width="18" height="1" fill="#ee7e6b"/><rect x="43" y="491" width="18" height="1" fill="#f08571"/><rect x="61" y="491" width="18" height="1" fill="#ecc2de"/><rect x="79" y="491" width="18" height="1" fill="#deb4d7"/><rect x="97" y="491" width="18" height="1" fill="#e3b8d9"/><rect x="115" y="491" width="18" height="1" fill="#9988cb"/><rect x="133" y="491" width="18" height="1" fill="#aa9bd5"/><rect x="151" y="491" width="19" height="1" fill="#a393d1"/><rect x="6" y="492" width="19" height="1" fill="#ec7966"/><rect x="25" y="492" width="18" height="1" fill="#f08570"/><rect x="43" y="492" width="18" height="1" fill="#f39887"/><rect x="61" y="492" width="18" height="1" fill="#edc4de"/><rect x="79" y="492" width="18" height="1" fill="#ecc1dd"/><rect x="97" y="492" width="18" height="1" fill="#eec6df"/><rect x="115" y="492" width="18" height="1" fill="#9e8ece"/><rect x="133" y="492" width="18" height="1" fill="#a99ad4"/><rect x="151" y="492" width="19" height="1" fill="#ac9dd6"/><rect x="6" y="493" width="19" height="1" fill="#eb7562"/><rect x="25" y="493" width="18" height="1" fill="#f0836e"/><rect x="43" y="493" width="18" height="1" fill="#f2907d"/><rect x="61" y="493" width="18" height="1" fill="#dab1d5"/><rect x="79" y="493" width="18" height="1" fill="#e6bbda"/><rect x="97" y="493" width="18" height="1" fill="#ecc1dd"/><rect x="115" y="493" width="18" height="1" fill="#a595d2"/><rect x="133" y="493" width="18" height="1" fill="#a899d4"/><rect x="151" y="493" width="19" height="1" fill="#ab9bd5"/><rect x="6" y="494" width="19" height="2" fill="#ef816d"/><rect x="25" y="494" width="18" height="2" fill="#f18b77"/><rect x="43" y="494" width="18" height="2" fill="#f18d7a"/><rect x="61" y="494" width="18" height="2" fill="#edc4df"/><rect x="79" y="494" width="18" height="2" fill="#ecc1dd"/><rect x="97" y="494" width="18" height="2" fill="#e4b9d9"/><rect x="115" y="494" width="18" height="2" fill="#9685c9"/><rect x="133" y="494" width="18" height="2" fill="#a494d1"/><rect x="151" y="494" width="19" height="2" fill="#a99ad4"/><rect x="6" y="496" width="19" height="2" fill="#eb7663"/><rect x="25" y="496" width="18" height="2" fill="#ee7e6a"/><rect x="43" y="496" width="18" height="2" fill="#f08873"/><rect x="61" y="496" width="18" height="2" fill="#ecc1dd"/><rect x="79" y="496" width="18" height="2" fill="#e5bbda"/><rect x="97" y="496" width="18" height="2" fill="#eabfdc"/><rect x="115" y="496" width="18" height="2" fill="#9584c8"/><rect x="133" y="496" width="18" height="2" fill="#a494d1"/><rect x="151" y="496" width="19" height="2" fill="#a696d3"/><rect x="6" y="498" width="19" height="1" fill="#f0846f"/><rect x="25" y="498" width="18" height="1" fill="#ef826e"/><rect x="43" y="498" width="18" height="1" fill="#f29685"/><rect x="61" y="498" width="18" height="1" fill="#edc6e0"/><rect x="79" y="498" width="18" height="1" fill="#eec8e1"/><rect x="97" y="498" width="18" height="1" fill="#e3b9d9"/><rect x="115" y="498" width="18" height="1" fill="#afa1d7"/><rect x="133" y="498" width="18" height="1" fill="#a797d3"/><rect x="151" y="498" width="19" height="1" fill="#afa0d7"/><rect x="6" y="499" width="19" height="1" fill="#ed7c68"/><rect x="25" y="499" width="18" height="1" fill="#ef836e"/><rect x="43" y="499" width="18" height="1" fill="#f29380"/><rect x="61" y="499" width="18" height="1" fill="#e3b9d9"/><rect x="79" y="499" width="18" height="1" fill="#ebc0dc"/><rect x="97" y="499" width="18" height="1" fill="#edc7e0"/><rect x="115" y="499" width="18" height="1" fill="#a090cf"/><rect x="133" y="499" width="18" height="1" fill="#aa9ad4"/><rect x="151" y="499" width="19" height="1" fill="#a292d0"/><rect x="6" y="500" width="19" height="1" fill="#eb7764"/><rect x="25" y="500" width="18" height="1" fill="#f08975"/><rect x="43" y="500" width="18" height="1" fill="#f29280"/><rect x="61" y="500" width="18" height="1" fill="#eec9e1"/><rect x="79" y="500" width="18" height="1" fill="#f0cee4"/><rect x="97" y="500" width="18" height="1" fill="#dfb6d7"/><rect x="115" y="500" width="18" height="1" fill="#a494d1"/><rect x="133" y="500" width="18" height="1" fill="#a99ad4"/><rect x="151" y="500" width="19" height="1" fill="#ac9dd5"/><rect x="6" y="501" width="19" height="1" fill="#ea7461"/><rect x="25" y="501" width="18" height="1" fill="#ed7c68"/><rect x="43" y="501" width="18" height="1" fill="#f08975"/><rect x="61" y="501" width="18" height="1" fill="#e2b8d9"/><rect x="79" y="501" width="18" height="1" fill="#deb5d7"/><rect x="97" y="501" width="18" height="1" fill="#e2b8d8"/><rect x="115" y="501" width="18" height="1" fill="#907fc5"/><rect x="133" y="501" width="18" height="1" fill="#9887ca"/><rect x="151" y="501" width="19" height="1" fill="#9f8ece"/><rect x="6" y="502" width="19" height="1" fill="#ec7b68"/><rect x="25" y="502" width="18" height="1" fill="#ed7d69"/><rect x="43" y="502" width="18" height="1" fill="#ed7e6a"/><rect x="61" y="502" width="18" height="1" fill="#d7afd4"/><rect x="79" y="502" width="18" height="1" fill="#e7bcda"/><rect x="97" y="502" width="18" height="1" fill="#d7b0d4"/><rect x="115" y="502" width="18" height="1" fill="#9686c8"/><rect x="133" y="502" width="18" height="1" fill="#9f8ece"/><rect x="151" y="502" width="19" height="1" fill="#a090ce"/><rect x="6" y="503" width="19" height="2" fill="#ec7c68"/><rect x="25" y="503" width="18" height="2" fill="#ef846f"/><rect x="43" y="503" width="18" height="2" fill="#ef836e"/><rect x="61" y="503" width="18" height="2" fill="#deb5d7"/><rect x="79" y="503" width="18" height="2" fill="#e1b8d8"/><rect x="97" y="503" width="18" height="2" fill="#e9bfdb"/><rect x="115" y="503" width="18" height="2" fill="#9d8ccd"/><rect x="133" y="503" width="18" height="2" fill="#aa9bd4"/><rect x="151" y="503" width="19" height="2" fill="#a392d0"/><rect x="6" y="505" width="19" height="1" fill="#ec7c68"/><rect x="25" y="505" width="18" height="1" fill="#ee806c"/><rect x="43" y="505" width="18" height="1" fill="#f2927f"/><rect x="61" y="505" width="18" height="1" fill="#ebc2dd"/><rect x="79" y="505" width="18" height="1" fill="#ebc2dd"/><rect x="97" y="505" width="18" height="1" fill="#e5bcda"/><rect x="115" y="505" width="18" height="1" fill="#a493d1"/><rect x="133" y="505" width="18" height="1" fill="#a291cf"/><rect x="151" y="505" width="19" height="1" fill="#aa9bd4"/><rect x="6" y="506" width="19" height="2" fill="#f1927e"/><rect x="25" y="506" width="18" height="2" fill="#f18c77"/><rect x="43" y="506" width="18" height="2" fill="#f4a393"/><rect x="61" y="506" width="18" height="2" fill="#e8bedb"/><rect x="79" y="506" width="18" height="2" fill="#ebc0dc"/><rect x="97" y="506" width="18" height="2" fill="#ebc1dc"/><rect x="115" y="506" width="18" height="2" fill="#a191cf"/><rect x="133" y="506" width="18" height="2" fill="#a899d3"/><rect x="151" y="506" width="19" height="2" fill="#afa0d6"/><rect x="6" y="508" width="19" height="2" fill="#f08671"/><rect x="25" y="508" width="18" height="2" fill="#ed7f6b"/><rect x="43" y="508" width="18" height="2" fill="#f29886"/><rect x="61" y="508" width="18" height="2" fill="#ebc3de"/><rect x="79" y="508" width="18" height="2" fill="#e7bddb"/><rect x="97" y="508" width="18" height="2" fill="#eac0dc"/><rect x="115" y="508" width="18" height="2" fill="#9685c8"/><rect x="133" y="508" width="18" height="2" fill="#a595d2"/><rect x="151" y="508" width="19" height="2" fill="#a595d1"/><rect x="6" y="511" width="19" height="1" fill="#ee7863"/><rect x="25" y="511" width="18" height="1" fill="#f18773"/><rect x="43" y="511" width="18" height="1" fill="#f07f6a"/><rect x="61" y="511" width="18" height="1" fill="#e6c1de"/><rect x="79" y="511" width="18" height="1" fill="#e7c2df"/><rect x="97" y="511" width="18" height="1" fill="#ddb8da"/><rect x="115" y="511" width="18" height="1" fill="#a494d1"/><rect x="133" y="511" width="18" height="1" fill="#a797d3"/><rect x="151" y="511" width="19" height="1" fill="#a191d0"/><rect x="6" y="512" width="19" height="1" fill="#ef7b65"/><rect x="25" y="512" width="18" height="1" fill="#f39786"/><rect x="43" y="512" width="18" height="1" fill="#f28c79"/><rect x="61" y="512" width="18" height="1" fill="#e8c5e0"/><rect x="79" y="512" width="18" height="1" fill="#e8c5e1"/><rect x="97" y="512" width="18" height="1" fill="#e7c3e0"/><rect x="115" y="512" width="18" height="1" fill="#aa9bd5"/><rect x="133" y="512" width="18" height="1" fill="#ab9bd5"/><rect x="151" y="512" width="19" height="1" fill="#a999d4"/><rect x="6" y="513" width="19" height="2" fill="#ed7560"/><rect x="25" y="513" width="18" height="2" fill="#f28975"/><rect x="43" y="513" width="18" height="2" fill="#f28b78"/><rect x="61" y="513" width="18" height="2" fill="#eac8e2"/><rect x="79" y="513" width="18" height="2" fill="#eac9e3"/><rect x="97" y="513" width="18" height="2" fill="#e8c4e0"/><rect x="115" y="513" width="18" height="2" fill="#b3a4d9"/><rect x="133" y="513" width="18" height="2" fill="#ac9dd6"/><rect x="151" y="513" width="19" height="2" fill="#b2a3d8"/><rect x="6" y="515" width="19" height="1" fill="#eb715d"/><rect x="25" y="515" width="18" height="1" fill="#ec745f"/><rect x="43" y="515" width="18" height="1" fill="#ef7a65"/><rect x="61" y="515" width="18" height="1" fill="#e7c2df"/><rect x="79" y="515" width="18" height="1" fill="#d7b4d8"/><rect x="97" y="515" width="18" height="1" fill="#e2bddd"/><rect x="115" y="515" width="18" height="1" fill="#9c8bcc"/><rect x="133" y="515" width="18" height="1" fill="#9887ca"/><rect x="151" y="515" width="19" height="1" fill="#a797d3"/><rect x="6" y="516" width="19" height="1" fill="#eb705c"/><rect x="25" y="516" width="18" height="1" fill="#f0816c"/><rect x="43" y="516" width="18" height="1" fill="#f07e68"/><rect x="61" y="516" width="18" height="1" fill="#e2bddc"/><rect x="79" y="516" width="18" height="1" fill="#e7c3df"/><rect x="97" y="516" width="18" height="1" fill="#e2bddc"/><rect x="115" y="516" width="18" height="1" fill="#9e8dcd"/><rect x="133" y="516" width="18" height="1" fill="#a090cf"/><rect x="151" y="516" width="19" height="1" fill="#b3a4d9"/><rect x="6" y="517" width="19" height="1" fill="#ee7863"/><rect x="25" y="517" width="18" height="1" fill="#ec7560"/><rect x="43" y="517" width="18" height="1" fill="#f07e67"/><rect x="61" y="517" width="18" height="1" fill="#e0bbdb"/><rect x="79" y="517" width="18" height="1" fill="#e7c4e0"/><rect x="97" y="517" width="18" height="1" fill="#e6c1de"/><rect x="115" y="517" width="18" height="1" fill="#a190cf"/><rect x="133" y="517" width="18" height="1" fill="#b6a8da"/><rect x="151" y="517" width="19" height="1" fill="#ad9ed6"/><rect x="6" y="518" width="19" height="1" fill="#ed7661"/><rect x="25" y="518" width="18" height="1" fill="#ef7d66"/><rect x="43" y="518" width="18" height="1" fill="#f18a75"/><rect x="61" y="518" width="18" height="1" fill="#e6c1de"/><rect x="79" y="518" width="18" height="1" fill="#e8c5e0"/><rect x="97" y="518" width="18" height="1" fill="#e8c5e0"/><rect x="115" y="518" width="18" height="1" fill="#9f8fce"/><rect x="133" y="518" width="18" height="1" fill="#ac9cd5"/><rect x="151" y="518" width="19" height="1" fill="#ae9fd7"/><rect x="6" y="519" width="19" height="2" fill="#ed7661"/><rect x="25" y="519" width="18" height="2" fill="#f1856f"/><rect x="43" y="519" width="18" height="2" fill="#f0816b"/><rect x="61" y="519" width="18" height="2" fill="#e7c2df"/><rect x="79" y="519" width="18" height="2" fill="#e8c4e0"/><rect x="97" y="519" width="18" height="2" fill="#e4bfdd"/><rect x="115" y="519" width="18" height="2" fill="#aa9ad4"/><rect x="133" y="519" width="18" height="2" fill="#a999d4"/><rect x="151" y="519" width="19" height="2" fill="#a999d4"/><rect x="6" y="521" width="19" height="2" fill="#ed7761"/><rect x="25" y="521" width="18" height="2" fill="#ef7d66"/><rect x="43" y="521" width="18" height="2" fill="#ef7d66"/><rect x="61" y="521" width="18" height="2" fill="#e0bcdb"/><rect x="79" y="521" width="18" height="2" fill="#e8c5e0"/><rect x="97" y="521" width="18" height="2" fill="#e7c4e0"/><rect x="115" y="521" width="18" height="2" fill="#a393d0"/><rect x="133" y="521" width="18" height="2" fill="#ac9cd5"/><rect x="151" y="521" width="19" height="2" fill="#b0a1d7"/><rect x="6" y="523" width="19" height="1" fill="#eb715d"/><rect x="25" y="523" width="18" height="1" fill="#ef7f67"/><rect x="43" y="523" width="18" height="1" fill="#ed7963"/><rect x="61" y="523" width="18" height="1" fill="#eac9e2"/><rect x="79" y="523" width="18" height="1" fill="#e7c4df"/><rect x="97" y="523" width="18" height="1" fill="#d7b4d8"/><rect x="115" y="523" width="18" height="1" fill="#a898d3"/><rect x="133" y="523" width="18" height="1" fill="#aa9ad4"/><rect x="151" y="523" width="19" height="1" fill="#a999d4"/><rect x="6" y="524" width="19" height="1" fill="#eb745f"/><rect x="25" y="524" width="18" height="1" fill="#f0826b"/><rect x="43" y="524" width="18" height="1" fill="#ee7b65"/><rect x="61" y="524" width="18" height="1" fill="#e7c3df"/><rect x="79" y="524" width="18" height="1" fill="#e7c5e0"/><rect x="97" y="524" width="18" height="1" fill="#e6c1de"/><rect x="115" y="524" width="18" height="1" fill="#ad9dd5"/><rect x="133" y="524" width="18" height="1" fill="#b0a0d7"/><rect x="151" y="524" width="19" height="1" fill="#aa9ad4"/><rect x="6" y="525" width="19" height="1" fill="#ee7a64"/><rect x="25" y="525" width="18" height="1" fill="#ee7b65"/><rect x="43" y="525" width="18" height="1" fill="#f28f7b"/><rect x="61" y="525" width="18" height="1" fill="#e9c9e2"/><rect x="79" y="525" width="18" height="1" fill="#e7c3df"/><rect x="97" y="525" width="18" height="1" fill="#e8c7e1"/><rect x="115" y="525" width="18" height="1" fill="#ad9dd6"/><rect x="133" y="525" width="18" height="1" fill="#b3a4d9"/><rect x="151" y="525" width="19" height="1" fill="#b7a9da"/><rect x="6" y="526" width="19" height="1" fill="#ec7660"/><rect x="25" y="526" width="18" height="1" fill="#ef8068"/><rect x="43" y="526" width="18" height="1" fill="#f18c77"/><rect x="61" y="526" width="18" height="1" fill="#e6c1de"/><rect x="79" y="526" width="18" height="1" fill="#e4c0dd"/><rect x="97" y="526" width="18" height="1" fill="#dfbbdb"/><rect x="115" y="526" width="18" height="1" fill="#a190ce"/><rect x="133" y="526" width="18" height="1" fill="#a696d2"/><rect x="151" y="526" width="19" height="1" fill="#afa0d7"/><rect x="6" y="527" width="19" height="1" fill="#ef7f68"/><rect x="25" y="527" width="18" height="1" fill="#f18c77"/><rect x="43" y="527" width="18" height="1" fill="#f2937f"/><rect x="61" y="527" width="18" height="1" fill="#e8c5e0"/><rect x="79" y="527" width="18" height="1" fill="#e9cae2"/><rect x="97" y="527" width="18" height="1" fill="#e8c6e0"/><rect x="115" y="527" width="18" height="1" fill="#af9fd6"/><rect x="133" y="527" width="18" height="1" fill="#b1a1d7"/><rect x="151" y="527" width="19" height="1" fill="#a594d1"/><rect x="6" y="528" width="19" height="1" fill="#ea705c"/><rect x="25" y="528" width="18" height="1" fill="#ef7e67"/><rect x="43" y="528" width="18" height="1" fill="#f18871"/><rect x="61" y="528" width="18" height="1" fill="#e2bedc"/><rect x="79" y="528" width="18" height="1" fill="#e8c6e0"/><rect x="97" y="528" width="18" height="1" fill="#dbb9da"/><rect x="115" y="528" width="18" height="1" fill="#a291cf"/><rect x="133" y="528" width="18" height="1" fill="#a291cf"/><rect x="151" y="528" width="19" height="1" fill="#9d8dcc"/><rect x="6" y="530" width="19" height="1" fill="#eb796c"/><rect x="25" y="530" width="18" height="1" fill="#f18d7f"/><rect x="43" y="530" width="18" height="1" fill="#f0887a"/><rect x="61" y="530" width="18" height="1" fill="#e8bcd8"/><rect x="79" y="530" width="18" height="1" fill="#ecc6de"/><rect x="97" y="530" width="18" height="1" fill="#dab1d3"/><rect x="115" y="530" width="18" height="1" fill="#a697d5"/><rect x="133" y="530" width="18" height="1" fill="#ae9fd9"/><rect x="151" y="530" width="19" height="1" fill="#aa9bd7"/><rect x="6" y="531" width="19" height="2" fill="#ee8375"/><rect x="25" y="531" width="18" height="2" fill="#f2968a"/><rect x="43" y="531" width="18" height="2" fill="#f0897b"/><rect x="61" y="531" width="18" height="2" fill="#eac1db"/><rect x="79" y="531" width="18" height="2" fill="#e7bbd8"/><rect x="97" y="531" width="18" height="2" fill="#e5b9d7"/><rect x="115" y="531" width="18" height="2" fill="#a899d6"/><rect x="133" y="531" width="18" height="2" fill="#ab9cd8"/><rect x="151" y="531" width="19" height="2" fill="#b2a4db"/><rect x="6" y="533" width="19" height="1" fill="#f08a7c"/><rect x="25" y="533" width="18" height="1" fill="#f2998d"/><rect x="43" y="533" width="18" height="1" fill="#f2988c"/><rect x="61" y="533" width="18" height="1" fill="#e4b8d6"/><rect x="79" y="533" width="18" height="1" fill="#e9c0da"/><rect x="97" y="533" width="18" height="1" fill="#eac1db"/><rect x="115" y="533" width="18" height="1" fill="#b0a2da"/><rect x="133" y="533" width="18" height="1" fill="#ae9fd9"/><rect x="151" y="533" width="19" height="1" fill="#b2a3db"/><rect x="6" y="534" width="19" height="1" fill="#ec7c6e"/><rect x="25" y="534" width="18" height="1" fill="#f18f82"/><rect x="43" y="534" width="18" height="1" fill="#f0887a"/><rect x="61" y="534" width="18" height="1" fill="#e8bcd8"/><rect x="79" y="534" width="18" height="1" fill="#e8bcd8"/><rect x="97" y="534" width="18" height="1" fill="#dcb1d3"/><rect x="115" y="534" width="18" height="1" fill="#aa9bd7"/><rect x="133" y="534" width="18" height="1" fill="#a394d3"/><rect x="151" y="534" width="19" height="1" fill="#a99ad7"/><rect x="6" y="535" width="19" height="1" fill="#ec7d6f"/><rect x="25" y="535" width="18" height="1" fill="#f18e80"/><rect x="43" y="535" width="18" height="1" fill="#ee8476"/><rect x="61" y="535" width="18" height="1" fill="#e4b8d6"/><rect x="79" y="535" width="18" height="1" fill="#e7bbd7"/><rect x="97" y="535" width="18" height="1" fill="#e4b8d6"/><rect x="115" y="535" width="18" height="1" fill="#a99ad6"/><rect x="133" y="535" width="18" height="1" fill="#b8aadd"/><rect x="151" y="535" width="19" height="1" fill="#ac9dd8"/><rect x="6" y="536" width="19" height="1" fill="#ef8778"/><rect x="25" y="536" width="18" height="1" fill="#f19082"/><rect x="43" y="536" width="18" height="1" fill="#f29a8e"/><rect x="61" y="536" width="18" height="1" fill="#eac2dc"/><rect x="79" y="536" width="18" height="1" fill="#ebc4dd"/><rect x="97" y="536" width="18" height="1" fill="#e8bdd9"/><rect x="115" y="536" width="18" height="1" fill="#a090d0"/><rect x="133" y="536" width="18" height="1" fill="#a999d6"/><rect x="151" y="536" width="19" height="1" fill="#bbadde"/><rect x="6" y="537" width="19" height="1" fill="#ed8173"/><rect x="25" y="537" width="18" height="1" fill="#f08c7d"/><rect x="43" y="537" width="18" height="1" fill="#f3a094"/><rect x="61" y="537" width="18" height="1" fill="#e8bcd8"/><rect x="79" y="537" width="18" height="1" fill="#e8bcd8"/><rect x="97" y="537" width="18" height="1" fill="#e8bdd9"/><rect x="115" y="537" width="18" height="1" fill="#aa9bd7"/><rect x="133" y="537" width="18" height="1" fill="#b5a7dc"/><rect x="151" y="537" width="19" height="1" fill="#baadde"/><rect x="6" y="538" width="19" height="2" fill="#f29b8e"/><rect x="25" y="538" width="18" height="2" fill="#f39d91"/><rect x="43" y="538" width="18" height="2" fill="#f19082"/><rect x="61" y="538" width="18" height="2" fill="#ebc5dd"/><rect x="79" y="538" width="18" height="2" fill="#eac1db"/><rect x="97" y="538" width="18" height="2" fill="#e9c0da"/><rect x="115" y="538" width="18" height="2" fill="#ab9cd7"/><rect x="133" y="538" width="18" height="2" fill="#b1a3da"/><rect x="151" y="538" width="19" height="2" fill="#b9abde"/><rect x="6" y="540" width="19" height="1" fill="#ee8576"/><rect x="25" y="540" width="18" height="1" fill="#f19486"/><rect x="43" y="540" width="18" height="1" fill="#f0897a"/><rect x="61" y="540" width="18" height="1" fill="#e8bed9"/><rect x="79" y="540" width="18" height="1" fill="#e9beda"/><rect x="97" y="540" width="18" height="1" fill="#d6acd1"/><rect x="115" y="540" width="18" height="1" fill="#ab9cd7"/><rect x="133" y="540" width="18" height="1" fill="#ab9cd7"/><rect x="151" y="540" width="19" height="1" fill="#ab9cd7"/><rect x="6" y="541" width="19" height="1" fill="#f08c7d"/><rect x="25" y="541" width="18" height="1" fill="#ef897a"/><rect x="43" y="541" width="18" height="1" fill="#f29b8e"/><rect x="61" y="541" width="18" height="1" fill="#e9c0da"/><rect x="79" y="541" width="18" height="1" fill="#e8bcd8"/><rect x="97" y="541" width="18" height="1" fill="#eac2dc"/><rect x="115" y="541" width="18" height="1" fill="#afa1d9"/><rect x="133" y="541" width="18" height="1" fill="#a99ad6"/><rect x="151" y="541" width="19" height="1" fill="#b1a3da"/><rect x="6" y="542" width="19" height="1" fill="#f39f93"/><rect x="25" y="542" width="18" height="1" fill="#f2998c"/><rect x="43" y="542" width="18" height="1" fill="#f5aca2"/><rect x="61" y="542" width="18" height="1" fill="#e7bbd8"/><rect x="79" y="542" width="18" height="1" fill="#e9beda"/><rect x="97" y="542" width="18" height="1" fill="#eac1db"/><rect x="115" y="542" width="18" height="1" fill="#a898d5"/><rect x="133" y="542" width="18" height="1" fill="#b6a8dc"/><rect x="151" y="542" width="19" height="1" fill="#c2b6e1"/><rect x="6" y="543" width="19" height="2" fill="#ef897a"/><rect x="25" y="543" width="18" height="2" fill="#f39e91"/><rect x="43" y="543" width="18" height="2" fill="#f2988b"/><rect x="61" y="543" width="18" height="2" fill="#e9c0db"/><rect x="79" y="543" width="18" height="2" fill="#dcb1d3"/><rect x="97" y="543" width="18" height="2" fill="#e1b4d4"/><rect x="115" y="543" width="18" height="2" fill="#a696d3"/><rect x="133" y="543" width="18" height="2" fill="#9f90cf"/><rect x="151" y="543" width="19" height="2" fill="#afa1d9"/><rect x="6" y="545" width="19" height="1" fill="#ed8172"/><rect x="25" y="545" width="18" height="1" fill="#f08b7b"/><rect x="43" y="545" width="18" height="1" fill="#f19486"/><rect x="61" y="545" width="18" height="1" fill="#ddb1d3"/><rect x="79" y="545" width="18" height="1" fill="#e9bfda"/><rect x="97" y="545" width="18" height="1" fill="#d6abd0"/><rect x="115" y="545" width="18" height="1" fill="#ac9dd7"/><rect x="133" y="545" width="18" height="1" fill="#ab9cd7"/><rect x="151" y="545" width="19" height="1" fill="#b7aadd"/></g>
<text x="171.20" y="306.20" font-size="6.5" text-anchor="start" fill="#231f20" font-weight="normal" >genotype</text>
<text x="178.80" y="313.70" font-size="6.4" text-anchor="start" fill="#231f20" font-weight="normal"  textLength="15.9" lengthAdjust="spacingAndGlyphs">Socs3</text>
<text x="178.80" y="319.30" font-size="6.4" text-anchor="start" fill="#231f20" font-weight="normal"  textLength="13.7" lengthAdjust="spacingAndGlyphs">Muc1</text>
<text x="178.80" y="324.90" font-size="6.4" text-anchor="start" fill="#231f20" font-weight="normal"  textLength="14.2" lengthAdjust="spacingAndGlyphs">Stat3</text>
<text x="178.80" y="330.10" font-size="6.4" text-anchor="start" fill="#231f20" font-weight="normal"  textLength="11.2" lengthAdjust="spacingAndGlyphs">Pim1</text>
<text x="178.80" y="336.50" font-size="6.4" text-anchor="start" fill="#231f20" font-weight="normal"  textLength="12.0" lengthAdjust="spacingAndGlyphs">Bcl3</text>
<text x="178.80" y="342.60" font-size="6.4" text-anchor="start" fill="#231f20" font-weight="normal"  textLength="18.0" lengthAdjust="spacingAndGlyphs">Mmp9</text>
<text x="178.80" y="349.90" font-size="6.4" text-anchor="start" fill="#231f20" font-weight="normal"  textLength="16.8" lengthAdjust="spacingAndGlyphs">Bcl2l1</text>
<line x1="173.30" y1="311.00" x2="173.30" y2="348.00" stroke="#333" stroke-width="0.7" />
<line x1="173.30" y1="311.40" x2="176.20" y2="311.40" stroke="#555" stroke-width="0.5" />
<line x1="173.30" y1="317.00" x2="176.20" y2="317.00" stroke="#555" stroke-width="0.5" />
<line x1="173.30" y1="322.60" x2="176.20" y2="322.60" stroke="#555" stroke-width="0.5" />
<line x1="173.30" y1="327.80" x2="176.20" y2="327.80" stroke="#555" stroke-width="0.5" />
<line x1="173.30" y1="334.20" x2="176.20" y2="334.20" stroke="#555" stroke-width="0.5" />
<line x1="173.30" y1="340.30" x2="176.20" y2="340.30" stroke="#555" stroke-width="0.5" />
<line x1="173.30" y1="347.60" x2="176.20" y2="347.60" stroke="#555" stroke-width="0.5" />
<line x1="169.80" y1="311.00" x2="173.30" y2="311.00" stroke="#8090b0" stroke-width="0.8" />
<line x1="169.80" y1="316.00" x2="173.30" y2="316.00" stroke="#a0a0c8" stroke-width="0.6" />
<text x="178.20" y="365.20" font-size="6.5" text-anchor="start" fill="#231f20" font-weight="normal" >logCPM</text>
<rect x="178.30" y="370.20" width="5.40" height="29.80" fill="url(#g10)" />
<text x="187.90" y="374.10" font-size="6.5" text-anchor="start" fill="#231f20" font-weight="normal" >2</text>
<text x="187.90" y="380.65" font-size="6.5" text-anchor="start" fill="#231f20" font-weight="normal" >1</text>
<text x="187.90" y="387.20" font-size="6.5" text-anchor="start" fill="#231f20" font-weight="normal" >0</text>
<text x="186.70" y="393.75" font-size="6.5" text-anchor="start" fill="#231f20" font-weight="normal" >−1</text>
<text x="186.70" y="400.30" font-size="6.5" text-anchor="start" fill="#231f20" font-weight="normal" >−2</text>
<text x="395.40" y="309.70" font-size="8.7" text-anchor="middle" fill="#231f20" font-weight="normal" >Top enriched pathways (GSEA hallmark)</text>
<line x1="345.40" y1="314.40" x2="345.40" y2="439.30" stroke="#111" stroke-width="1" />
<line x1="344.90" y1="438.80" x2="444.20" y2="438.80" stroke="#111" stroke-width="1" />
<line x1="345.40" y1="438.80" x2="345.40" y2="441.40" stroke="#111" stroke-width="0.9" />
<text x="345.40" y="450.90" font-size="7.2" text-anchor="middle" fill="#231f20" font-weight="normal" >0</text>
<line x1="361.80" y1="438.80" x2="361.80" y2="441.40" stroke="#111" stroke-width="0.9" />
<text x="361.80" y="450.90" font-size="7.2" text-anchor="middle" fill="#231f20" font-weight="normal" >1</text>
<line x1="378.20" y1="438.80" x2="378.20" y2="441.40" stroke="#111" stroke-width="0.9" />
<text x="378.20" y="450.90" font-size="7.2" text-anchor="middle" fill="#231f20" font-weight="normal" >2</text>
<line x1="394.60" y1="438.80" x2="394.60" y2="441.40" stroke="#111" stroke-width="0.9" />
<text x="394.60" y="450.90" font-size="7.2" text-anchor="middle" fill="#231f20" font-weight="normal" >3</text>
<line x1="411.00" y1="438.80" x2="411.00" y2="441.40" stroke="#111" stroke-width="0.9" />
<text x="411.00" y="450.90" font-size="7.2" text-anchor="middle" fill="#231f20" font-weight="normal" >4</text>
<line x1="427.40" y1="438.80" x2="427.40" y2="441.40" stroke="#111" stroke-width="0.9" />
<text x="427.40" y="450.90" font-size="7.2" text-anchor="middle" fill="#231f20" font-weight="normal" >5</text>
<line x1="443.80" y1="438.80" x2="443.80" y2="441.40" stroke="#111" stroke-width="0.9" />
<text x="443.80" y="450.90" font-size="7.2" text-anchor="middle" fill="#231f20" font-weight="normal" >6</text>
<text x="396.20" y="463.10" font-size="8.5" text-anchor="middle" fill="#231f20" font-weight="normal"  textLength="72.5" lengthAdjust="spacingAndGlyphs">Normalized enrichment</text>
<text x="395.90" y="473.70" font-size="8.5" text-anchor="middle" fill="#231f20" font-weight="normal"  textLength="54.3" lengthAdjust="spacingAndGlyphs">score (FDR&lt;0.05)</text>
<line x1="342.30" y1="320.20" x2="345.40" y2="320.20" stroke="#111" stroke-width="0.9" />
<rect x="345.90" y="317.80" width="86.10" height="4.80" fill="#c70a2c" />
<text x="338.00" y="322.50" font-size="6.6" text-anchor="end" fill="#231f20" font-weight="normal"  textLength="100.34" lengthAdjust="spacingAndGlyphs">INTERFERON_ALPHA_RESPONSE</text>
<line x1="342.30" y1="327.80" x2="345.40" y2="327.80" stroke="#111" stroke-width="0.9" />
<rect x="345.90" y="325.40" width="79.10" height="4.80" fill="#c70a2c" />
<text x="338.00" y="330.10" font-size="6.6" text-anchor="end" fill="#231f20" font-weight="normal"  textLength="103.38" lengthAdjust="spacingAndGlyphs">INTERFERON_GAMMA_RESPONSE</text>
<line x1="342.30" y1="335.40" x2="345.40" y2="335.40" stroke="#111" stroke-width="0.9" />
<rect x="345.90" y="333.00" width="55.60" height="4.80" fill="#c70a2c" />
<text x="338.00" y="337.70" font-size="6.6" text-anchor="end" fill="#231f20" font-weight="normal"  textLength="85.09" lengthAdjust="spacingAndGlyphs">TNFA_SIGNALING_VIA_NFKB</text>
<line x1="342.30" y1="343.00" x2="345.40" y2="343.00" stroke="#111" stroke-width="0.9" />
<rect x="345.90" y="340.60" width="43.10" height="4.80" fill="#c70a2c" />
<text x="338.00" y="345.30" font-size="6.6" text-anchor="end" fill="#231f20" font-weight="normal"  textLength="81.14" lengthAdjust="spacingAndGlyphs">IL6_JAK_STAT3_SIGNALING</text>
<line x1="342.30" y1="350.60" x2="345.40" y2="350.60" stroke="#111" stroke-width="0.9" />
<rect x="345.90" y="348.20" width="43.10" height="4.80" fill="#c70a2c" />
<text x="338.00" y="352.90" font-size="6.6" text-anchor="end" fill="#231f20" font-weight="normal"  textLength="35.14" lengthAdjust="spacingAndGlyphs">APOPTOSIS</text>
<line x1="342.30" y1="358.20" x2="345.40" y2="358.20" stroke="#111" stroke-width="0.9" />
<line x1="342.30" y1="365.80" x2="345.40" y2="365.80" stroke="#111" stroke-width="0.9" />
<rect x="345.90" y="363.40" width="58.90" height="4.80" fill="#e3087c" />
<text x="338.00" y="368.10" font-size="6.6" text-anchor="end" fill="#231f20" font-weight="normal"  textLength="100.34" lengthAdjust="spacingAndGlyphs">INTERFERON_ALPHA_RESPONSE</text>
<line x1="342.30" y1="373.40" x2="345.40" y2="373.40" stroke="#111" stroke-width="0.9" />
<rect x="345.90" y="371.00" width="56.30" height="4.80" fill="#e3087c" />
<text x="338.00" y="375.70" font-size="6.6" text-anchor="end" fill="#231f20" font-weight="normal"  textLength="103.38" lengthAdjust="spacingAndGlyphs">INTERFERON_GAMMA_RESPONSE</text>
<line x1="342.30" y1="381.00" x2="345.40" y2="381.00" stroke="#111" stroke-width="0.9" />
<rect x="345.90" y="378.60" width="45.80" height="4.80" fill="#e3087c" />
<text x="338.00" y="383.30" font-size="6.6" text-anchor="end" fill="#231f20" font-weight="normal"  textLength="85.09" lengthAdjust="spacingAndGlyphs">TNFA_SIGNALING_VIA_NFKB</text>
<line x1="342.30" y1="388.60" x2="345.40" y2="388.60" stroke="#111" stroke-width="0.9" />
<rect x="345.90" y="386.20" width="33.10" height="4.80" fill="#e3087c" />
<text x="338.00" y="390.90" font-size="6.6" text-anchor="end" fill="#231f20" font-weight="normal"  textLength="60.56" lengthAdjust="spacingAndGlyphs">HEME_METABOLISM</text>
<line x1="342.30" y1="396.20" x2="345.40" y2="396.20" stroke="#111" stroke-width="0.9" />
<rect x="345.90" y="393.80" width="32.40" height="4.80" fill="#e3087c" />
<text x="338.00" y="398.50" font-size="6.6" text-anchor="end" fill="#231f20" font-weight="normal"  textLength="85.08" lengthAdjust="spacingAndGlyphs">INFLAMMATORY_RESPONSE</text>
<line x1="342.30" y1="403.80" x2="345.40" y2="403.80" stroke="#111" stroke-width="0.9" />
<line x1="342.30" y1="411.40" x2="345.40" y2="411.40" stroke="#111" stroke-width="0.9" />
<rect x="345.90" y="409.00" width="44.10" height="4.80" fill="#4a5463" />
<text x="338.00" y="413.70" font-size="6.6" text-anchor="end" fill="#231f20" font-weight="normal"  textLength="56.6" lengthAdjust="spacingAndGlyphs">G2M_CHECKPOINT</text>
<line x1="342.30" y1="419.00" x2="345.40" y2="419.00" stroke="#111" stroke-width="0.9" />
<rect x="345.90" y="416.60" width="34.10" height="4.80" fill="#4a5463" />
<text x="338.00" y="421.30" font-size="6.6" text-anchor="end" fill="#231f20" font-weight="normal"  textLength="101.35" lengthAdjust="spacingAndGlyphs">UNFOLDED_PROTEIN_RESPONSE</text>
<line x1="342.30" y1="426.60" x2="345.40" y2="426.60" stroke="#111" stroke-width="0.9" />
<rect x="345.90" y="424.20" width="31.80" height="4.80" fill="#4a5463" />
<text x="338.00" y="428.90" font-size="6.6" text-anchor="end" fill="#231f20" font-weight="normal"  textLength="54.46" lengthAdjust="spacingAndGlyphs">MITOTIC_SPINDLE</text>
<line x1="342.30" y1="434.20" x2="345.40" y2="434.20" stroke="#111" stroke-width="0.9" />
<line x1="439.20" y1="316.60" x2="439.20" y2="352.90" stroke="#111" stroke-width="0.9" />
<line x1="439.20" y1="360.60" x2="439.20" y2="396.90" stroke="#111" stroke-width="0.9" />
<line x1="439.20" y1="404.60" x2="439.20" y2="427.70" stroke="#111" stroke-width="0.9" />
<text x="461.50" y="335.50" font-size="7" text-anchor="middle" fill="#231f20" font-weight="normal"  textLength="38.9" lengthAdjust="spacingAndGlyphs">STAT3<tspan font-size="4.4" dy="-2.9">Y640F</tspan><tspan dy="2.9"> vs</tspan></text>
<text x="461.40" y="343.90" font-size="7" text-anchor="middle" fill="#231f20" font-weight="normal"  textLength="18.7" lengthAdjust="spacingAndGlyphs">STAT3</text>
<text x="461.50" y="376.20" font-size="7" text-anchor="middle" fill="#231f20" font-weight="normal"  textLength="38.9" lengthAdjust="spacingAndGlyphs">STAT3<tspan font-size="4.4" dy="-2.9">Y640F</tspan><tspan dy="2.9"> vs</tspan></text>
<text x="461.50" y="384.40" font-size="7" text-anchor="middle" fill="#231f20" font-weight="normal"  textLength="39" lengthAdjust="spacingAndGlyphs">empty vector</text>
<text x="461.40" y="416.90" font-size="7" text-anchor="middle" fill="#231f20" font-weight="normal"  textLength="25.3" lengthAdjust="spacingAndGlyphs">STAT3 vs</text>
<text x="461.50" y="425.70" font-size="7" text-anchor="middle" fill="#231f20" font-weight="normal"  textLength="39" lengthAdjust="spacingAndGlyphs">empty vector</text>
</svg></body></html>
